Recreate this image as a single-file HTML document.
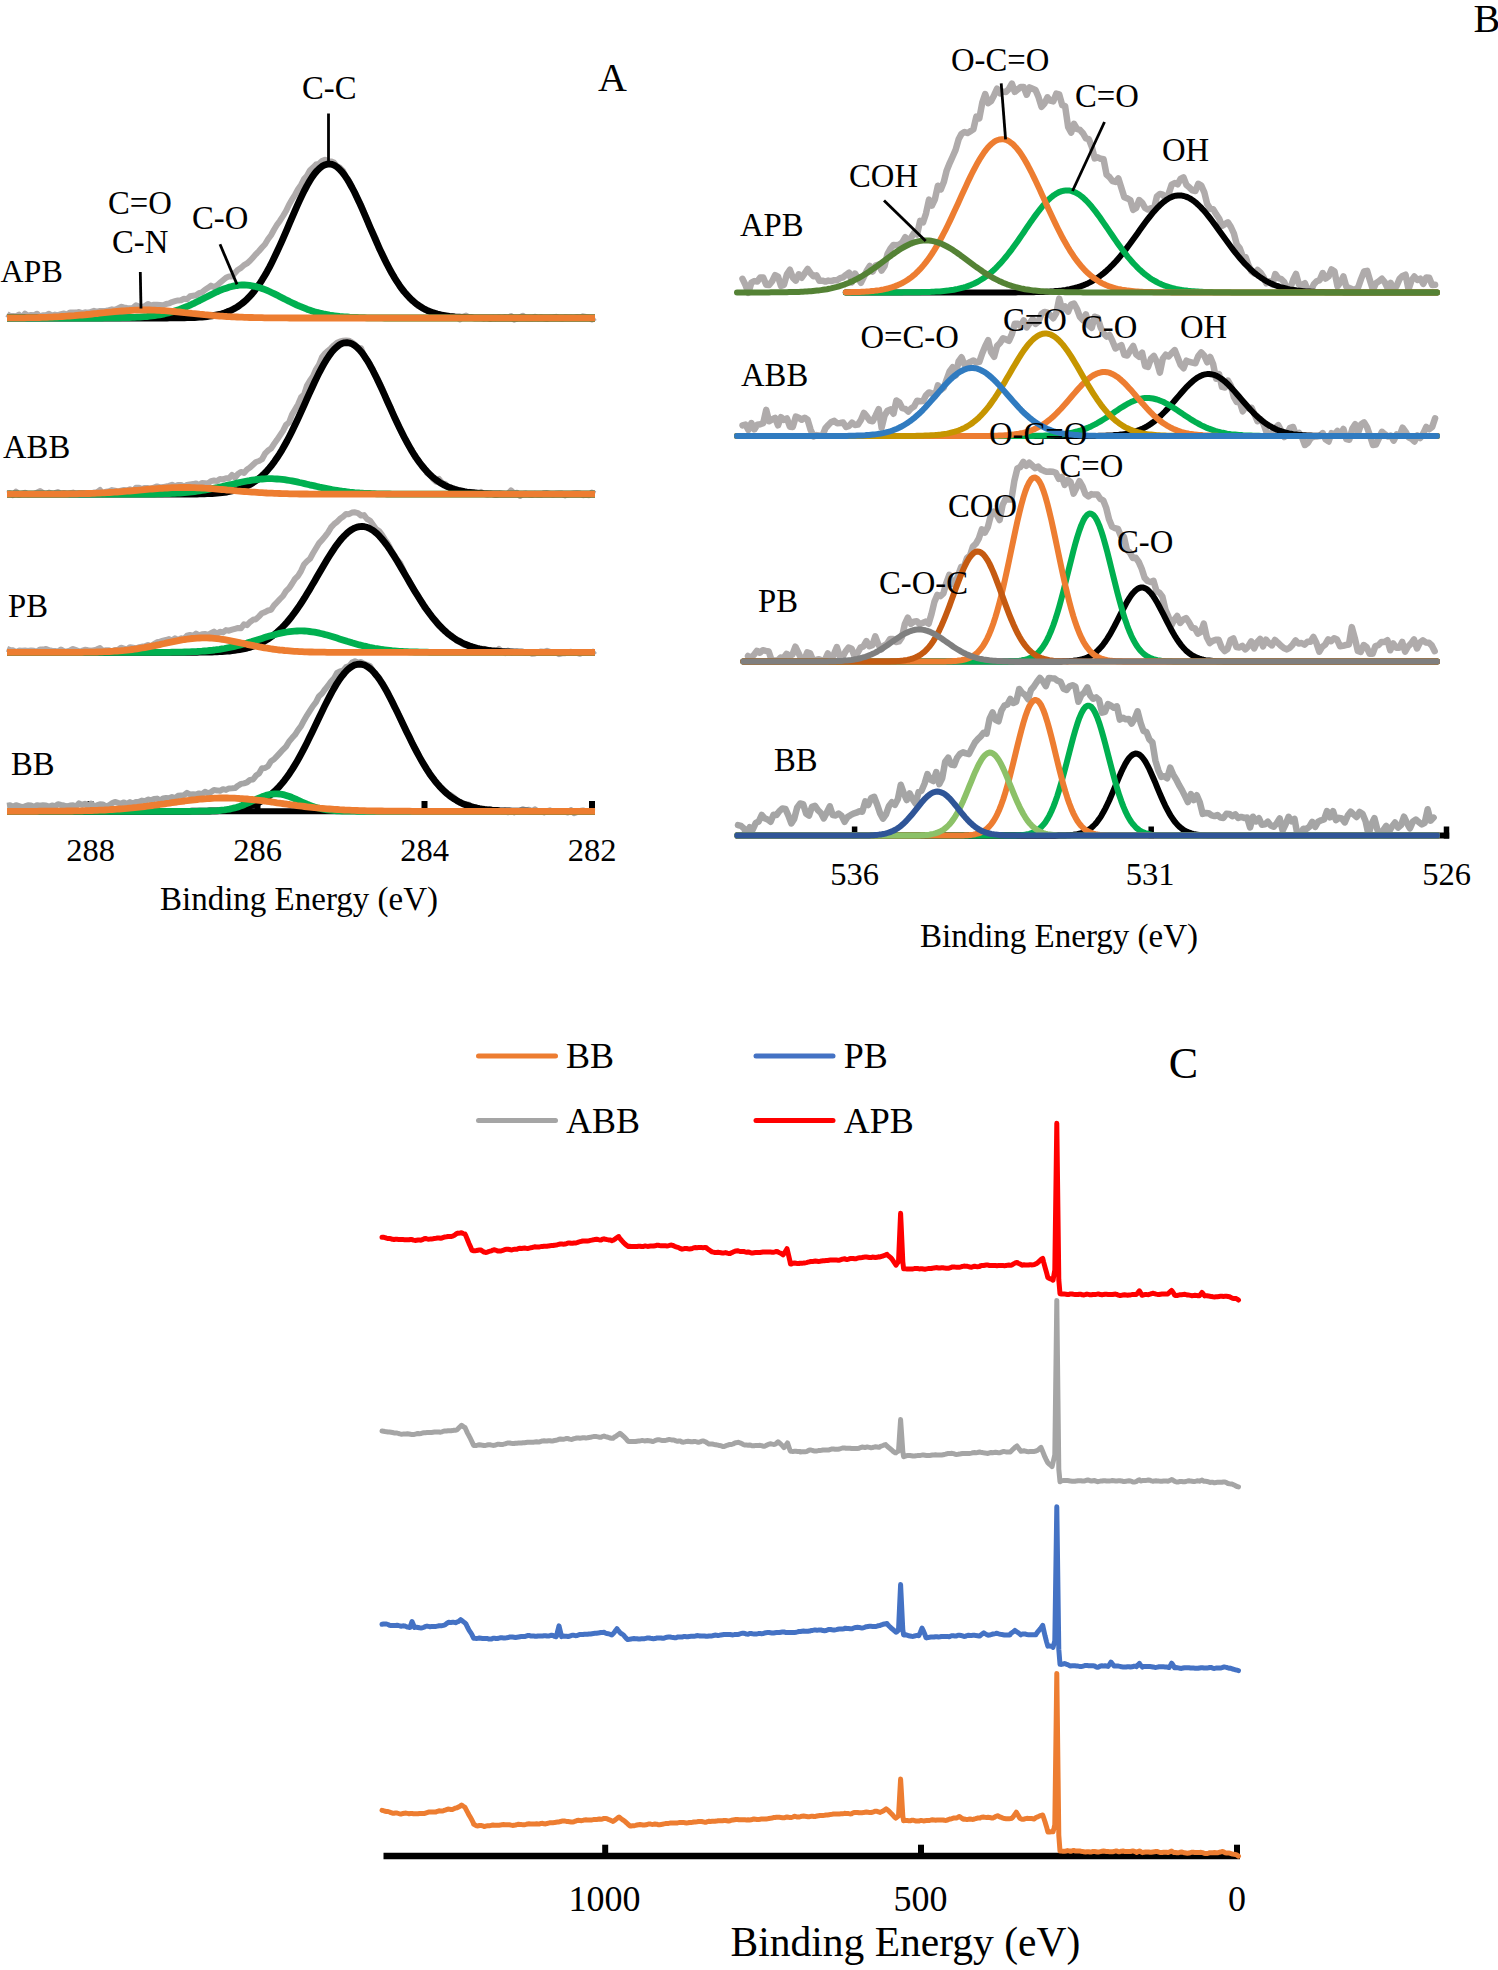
<!DOCTYPE html>
<html><head><meta charset="utf-8"><title>XPS spectra</title>
<style>html,body{margin:0;padding:0;background:#fff}svg{display:block}text{font-family:"Liberation Serif",serif;fill:#000}</style>
</head><body>
<svg width="1498" height="1970" viewBox="0 0 1498 1970">
<rect width="1498" height="1970" fill="#fff"/>
<path d="M7.0,314.0 L10.0,316.0 L13.0,315.9 L16.0,316.3 L19.0,314.6 L22.0,317.4 L25.0,313.7 L28.0,315.9 L31.0,314.9 L34.0,315.3 L37.0,313.7 L40.0,316.8 L43.0,315.2 L46.0,315.1 L49.0,313.7 L52.0,315.5 L55.0,314.6 L58.0,315.1 L61.0,314.1 L64.0,313.4 L67.0,314.7 L70.0,312.5 L73.0,312.5 L76.0,312.6 L79.0,312.0 L82.0,313.1 L85.0,312.3 L88.0,312.7 L91.0,311.8 L94.0,310.8 L97.0,311.6 L100.0,311.0 L103.0,310.9 L106.0,310.7 L109.0,310.2 L112.0,309.3 L115.0,310.0 L118.0,308.4 L121.0,306.8 L124.0,307.4 L127.0,307.9 L130.0,308.3 L133.0,307.9 L136.0,305.4 L139.0,306.6 L142.0,307.0 L145.0,306.0 L148.0,304.0 L151.0,305.5 L154.0,304.7 L157.0,304.7 L160.0,304.9 L163.0,305.2 L166.0,304.0 L169.0,303.4 L172.0,302.1 L175.0,301.2 L178.0,300.4 L181.0,300.2 L184.0,298.7 L187.0,299.2 L190.0,296.3 L193.0,295.8 L196.0,295.3 L199.0,293.2 L202.0,292.3 L205.0,289.7 L208.0,287.8 L211.0,285.6 L214.0,287.1 L217.0,285.4 L220.0,282.8 L223.0,280.3 L226.0,277.8 L229.0,276.4 L232.0,276.5 L235.0,272.8 L238.0,269.7 L241.0,267.9 L244.0,265.1 L247.0,263.4 L250.0,260.7 L253.0,257.4 L256.0,254.1 L259.0,251.0 L262.0,247.5 L265.0,244.3 L268.0,239.3 L271.0,235.2 L274.0,229.7 L277.0,224.8 L280.0,220.7 L283.0,216.0 L286.0,211.0 L289.0,204.7 L292.0,199.6 L295.0,194.7 L298.0,189.2 L301.0,184.9 L304.0,179.0 L307.0,175.7 L310.0,170.2 L313.0,167.6 L316.0,164.5 L319.0,163.8 L322.0,161.1 L325.0,159.8 L328.0,161.3 L331.0,161.4 L334.0,162.6 L337.0,166.1 L340.0,167.7 L343.0,170.9 L346.0,176.9 L349.0,180.8 L352.0,187.8 L355.0,192.7 L358.0,200.5 L361.0,204.7 L364.0,212.3 L367.0,219.7 L370.0,227.4 L373.0,232.6 L376.0,238.9 L379.0,249.1 L382.0,252.8 L385.0,258.7 L388.0,265.8 L391.0,272.7 L394.0,276.1 L397.0,281.8 L400.0,286.7 L403.0,291.3 L406.0,293.3 L409.0,296.4 L412.0,300.7 L415.0,302.3 L418.0,306.1 L421.0,306.3 L424.0,308.8 L427.0,310.5 L430.0,311.7 L433.0,312.0 L436.0,313.0 L439.0,314.0 L442.0,315.0 L445.0,315.6 L448.0,315.6 L451.0,316.3 L454.0,316.2 L457.0,317.4 L460.0,319.5 L463.0,316.5 L466.0,315.6 L469.0,317.3 L472.0,317.8 L475.0,317.9 L478.0,318.0 L481.0,317.9 L484.0,318.9 L487.0,318.4 L490.0,318.9 L493.0,317.7 L496.0,318.2 L499.0,317.5 L502.0,318.1 L505.0,317.1 L508.0,317.8 L511.0,316.0 L514.0,319.7 L517.0,318.6 L520.0,317.2 L523.0,315.7 L526.0,318.2 L529.0,318.0 L532.0,318.2 L535.0,316.8 L538.0,318.3 L541.0,317.4 L544.0,318.3 L547.0,319.1 L550.0,317.7 L553.0,317.5 L556.0,316.8 L559.0,318.1 L562.0,318.6 L565.0,317.5 L568.0,317.8 L571.0,317.7 L574.0,318.1 L577.0,317.0 L580.0,317.7 L583.0,316.3 L586.0,317.0 L589.0,317.4 L592.0,319.5 L595.0,317.5" fill="none" stroke="#AFABAB" stroke-width="6" stroke-linecap="butt" stroke-linejoin="round"/>
<path d="M7.0,318.0 L9.5,318.0 L12.0,318.0 L14.5,318.0 L17.0,318.0 L19.5,318.0 L22.0,318.0 L24.5,318.0 L27.0,318.0 L29.5,318.0 L32.0,318.0 L34.5,318.0 L37.0,318.0 L39.5,318.0 L42.0,318.0 L44.5,318.0 L47.0,318.0 L49.5,318.0 L52.0,318.0 L54.5,318.0 L57.0,318.0 L59.5,318.0 L62.0,318.0 L64.5,318.0 L67.0,318.0 L69.5,318.0 L72.0,318.0 L74.5,318.0 L77.0,318.0 L79.5,318.0 L82.0,318.0 L84.5,318.0 L87.0,318.0 L89.5,318.0 L92.0,318.0 L94.5,318.0 L97.0,318.0 L99.5,318.0 L102.0,318.0 L104.5,318.0 L107.0,318.0 L109.5,318.0 L112.0,318.0 L114.5,318.0 L117.0,318.0 L119.5,318.0 L122.0,318.0 L124.5,318.0 L127.0,318.0 L129.5,318.0 L132.0,318.0 L134.5,318.0 L137.0,318.0 L139.5,318.0 L142.0,318.0 L144.5,318.0 L147.0,318.0 L149.5,318.0 L152.0,318.0 L154.5,318.0 L157.0,318.0 L159.5,318.0 L162.0,318.0 L164.5,318.0 L167.0,318.0 L169.5,317.9 L172.0,317.9 L174.5,317.9 L177.0,317.9 L179.5,317.9 L182.0,317.8 L184.5,317.8 L187.0,317.7 L189.5,317.6 L192.0,317.6 L194.5,317.5 L197.0,317.3 L199.5,317.2 L202.0,317.0 L204.5,316.8 L207.0,316.5 L209.5,316.2 L212.0,315.9 L214.5,315.4 L217.0,314.9 L219.5,314.4 L222.0,313.7 L224.5,312.9 L227.0,312.0 L229.5,311.0 L232.0,309.9 L234.5,308.5 L237.0,307.1 L239.5,305.4 L242.0,303.5 L244.5,301.5 L247.0,299.2 L249.5,296.6 L252.0,293.9 L254.5,290.8 L257.0,287.5 L259.5,284.0 L262.0,280.1 L264.5,276.0 L267.0,271.7 L269.5,267.1 L272.0,262.2 L274.5,257.1 L277.0,251.8 L279.5,246.4 L282.0,240.8 L284.5,235.1 L287.0,229.3 L289.5,223.4 L292.0,217.6 L294.5,211.8 L297.0,206.2 L299.5,200.7 L302.0,195.4 L304.5,190.3 L307.0,185.6 L309.5,181.3 L312.0,177.3 L314.5,173.8 L317.0,170.8 L319.5,168.3 L322.0,166.3 L324.5,165.0 L327.0,164.2 L329.5,164.0 L332.0,164.4 L334.5,165.4 L337.0,167.0 L339.5,169.2 L342.0,171.9 L344.5,175.1 L347.0,178.8 L349.5,183.0 L352.0,187.5 L354.5,192.3 L357.0,197.5 L359.5,202.8 L362.0,208.4 L364.5,214.1 L367.0,219.9 L369.5,225.8 L372.0,231.6 L374.5,237.4 L377.0,243.0 L379.5,248.6 L382.0,254.0 L384.5,259.2 L387.0,264.2 L389.5,268.9 L392.0,273.4 L394.5,277.7 L397.0,281.7 L399.5,285.4 L402.0,288.9 L404.5,292.1 L407.0,295.0 L409.5,297.7 L412.0,300.1 L414.5,302.3 L417.0,304.3 L419.5,306.1 L422.0,307.7 L424.5,309.1 L427.0,310.3 L429.5,311.4 L432.0,312.4 L434.5,313.2 L437.0,314.0 L439.5,314.6 L442.0,315.2 L444.5,315.6 L447.0,316.0 L449.5,316.4 L452.0,316.6 L454.5,316.9 L457.0,317.1 L459.5,317.2 L462.0,317.4 L464.5,317.5 L467.0,317.6 L469.5,317.7 L472.0,317.7 L474.5,317.8 L477.0,317.8 L479.5,317.9 L482.0,317.9 L484.5,317.9 L487.0,317.9 L489.5,318.0 L492.0,318.0 L494.5,318.0 L497.0,318.0 L499.5,318.0 L502.0,318.0 L504.5,318.0 L507.0,318.0 L509.5,318.0 L512.0,318.0 L514.5,318.0 L517.0,318.0 L519.5,318.0 L522.0,318.0 L524.5,318.0 L527.0,318.0 L529.5,318.0 L532.0,318.0 L534.5,318.0 L537.0,318.0 L539.5,318.0 L542.0,318.0 L544.5,318.0 L547.0,318.0 L549.5,318.0 L552.0,318.0 L554.5,318.0 L557.0,318.0 L559.5,318.0 L562.0,318.0 L564.5,318.0 L567.0,318.0 L569.5,318.0 L572.0,318.0 L574.5,318.0 L577.0,318.0 L579.5,318.0 L582.0,318.0 L584.5,318.0 L587.0,318.0 L589.5,318.0 L592.0,318.0 L594.5,318.0 L595.0,318.0" fill="none" stroke="#000" stroke-width="6.8" stroke-linecap="butt" stroke-linejoin="round"/>
<path d="M7.0,318.0 L9.5,318.0 L12.0,318.0 L14.5,318.0 L17.0,318.0 L19.5,318.0 L22.0,318.0 L24.5,318.0 L27.0,318.0 L29.5,318.0 L32.0,318.0 L34.5,318.0 L37.0,318.0 L39.5,318.0 L42.0,318.0 L44.5,318.0 L47.0,318.0 L49.5,318.0 L52.0,318.0 L54.5,318.0 L57.0,318.0 L59.5,318.0 L62.0,318.0 L64.5,318.0 L67.0,318.0 L69.5,318.0 L72.0,318.0 L74.5,318.0 L77.0,318.0 L79.5,318.0 L82.0,318.0 L84.5,318.0 L87.0,318.0 L89.5,318.0 L92.0,318.0 L94.5,318.0 L97.0,318.0 L99.5,318.0 L102.0,318.0 L104.5,317.9 L107.0,317.9 L109.5,317.9 L112.0,317.9 L114.5,317.9 L117.0,317.8 L119.5,317.8 L122.0,317.7 L124.5,317.7 L127.0,317.6 L129.5,317.5 L132.0,317.4 L134.5,317.3 L137.0,317.2 L139.5,317.1 L142.0,316.9 L144.5,316.7 L147.0,316.5 L149.5,316.2 L152.0,315.9 L154.5,315.6 L157.0,315.2 L159.5,314.8 L162.0,314.3 L164.5,313.8 L167.0,313.2 L169.5,312.6 L172.0,311.9 L174.5,311.1 L177.0,310.3 L179.5,309.5 L182.0,308.5 L184.5,307.5 L187.0,306.5 L189.5,305.4 L192.0,304.2 L194.5,303.1 L197.0,301.8 L199.5,300.6 L202.0,299.3 L204.5,298.0 L207.0,296.8 L209.5,295.5 L212.0,294.2 L214.5,293.0 L217.0,291.8 L219.5,290.7 L222.0,289.7 L224.5,288.7 L227.0,287.9 L229.5,287.1 L232.0,286.4 L234.5,285.9 L237.0,285.5 L239.5,285.2 L242.0,285.0 L244.5,285.0 L247.0,285.1 L249.5,285.4 L252.0,285.8 L254.5,286.3 L257.0,286.9 L259.5,287.6 L262.0,288.5 L264.5,289.4 L267.0,290.4 L269.5,291.5 L272.0,292.7 L274.5,293.9 L277.0,295.1 L279.5,296.4 L282.0,297.7 L284.5,299.0 L287.0,300.2 L289.5,301.5 L292.0,302.7 L294.5,303.9 L297.0,305.1 L299.5,306.2 L302.0,307.2 L304.5,308.2 L307.0,309.2 L309.5,310.1 L312.0,310.9 L314.5,311.7 L317.0,312.4 L319.5,313.0 L322.0,313.6 L324.5,314.2 L327.0,314.6 L329.5,315.1 L332.0,315.5 L334.5,315.8 L337.0,316.1 L339.5,316.4 L342.0,316.6 L344.5,316.8 L347.0,317.0 L349.5,317.2 L352.0,317.3 L354.5,317.4 L357.0,317.5 L359.5,317.6 L362.0,317.7 L364.5,317.7 L367.0,317.8 L369.5,317.8 L372.0,317.9 L374.5,317.9 L377.0,317.9 L379.5,317.9 L382.0,317.9 L384.5,318.0 L387.0,318.0 L389.5,318.0 L392.0,318.0 L394.5,318.0 L397.0,318.0 L399.5,318.0 L402.0,318.0 L404.5,318.0 L407.0,318.0 L409.5,318.0 L412.0,318.0 L414.5,318.0 L417.0,318.0 L419.5,318.0 L422.0,318.0 L424.5,318.0 L427.0,318.0 L429.5,318.0 L432.0,318.0 L434.5,318.0 L437.0,318.0 L439.5,318.0 L442.0,318.0 L444.5,318.0 L447.0,318.0 L449.5,318.0 L452.0,318.0 L454.5,318.0 L457.0,318.0 L459.5,318.0 L462.0,318.0 L464.5,318.0 L467.0,318.0 L469.5,318.0 L472.0,318.0 L474.5,318.0 L477.0,318.0 L479.5,318.0 L482.0,318.0 L484.5,318.0 L487.0,318.0 L489.5,318.0 L492.0,318.0 L494.5,318.0 L497.0,318.0 L499.5,318.0 L502.0,318.0 L504.5,318.0 L507.0,318.0 L509.5,318.0 L512.0,318.0 L514.5,318.0 L517.0,318.0 L519.5,318.0 L522.0,318.0 L524.5,318.0 L527.0,318.0 L529.5,318.0 L532.0,318.0 L534.5,318.0 L537.0,318.0 L539.5,318.0 L542.0,318.0 L544.5,318.0 L547.0,318.0 L549.5,318.0 L552.0,318.0 L554.5,318.0 L557.0,318.0 L559.5,318.0 L562.0,318.0 L564.5,318.0 L567.0,318.0 L569.5,318.0 L572.0,318.0 L574.5,318.0 L577.0,318.0 L579.5,318.0 L582.0,318.0 L584.5,318.0 L587.0,318.0 L589.5,318.0 L592.0,318.0 L594.5,318.0 L595.0,318.0" fill="none" stroke="#00B050" stroke-width="6.8" stroke-linecap="butt" stroke-linejoin="round"/>
<path d="M7.0,317.9 L9.5,317.9 L12.0,317.9 L14.5,317.9 L17.0,317.9 L19.5,317.8 L22.0,317.8 L24.5,317.8 L27.0,317.7 L29.5,317.7 L32.0,317.7 L34.5,317.6 L37.0,317.6 L39.5,317.5 L42.0,317.4 L44.5,317.3 L47.0,317.3 L49.5,317.2 L52.0,317.1 L54.5,316.9 L57.0,316.8 L59.5,316.7 L62.0,316.5 L64.5,316.4 L67.0,316.2 L69.5,316.0 L72.0,315.9 L74.5,315.7 L77.0,315.4 L79.5,315.2 L82.0,315.0 L84.5,314.8 L87.0,314.5 L89.5,314.3 L92.0,314.0 L94.5,313.7 L97.0,313.5 L99.5,313.2 L102.0,312.9 L104.5,312.7 L107.0,312.4 L109.5,312.1 L112.0,311.9 L114.5,311.6 L117.0,311.4 L119.5,311.2 L122.0,311.0 L124.5,310.8 L127.0,310.6 L129.5,310.5 L132.0,310.3 L134.5,310.2 L137.0,310.1 L139.5,310.1 L142.0,310.0 L144.5,310.0 L147.0,310.0 L149.5,310.0 L152.0,310.1 L154.5,310.2 L157.0,310.3 L159.5,310.4 L162.0,310.6 L164.5,310.7 L167.0,310.9 L169.5,311.1 L172.0,311.3 L174.5,311.5 L177.0,311.8 L179.5,312.0 L182.0,312.3 L184.5,312.6 L187.0,312.8 L189.5,313.1 L192.0,313.4 L194.5,313.6 L197.0,313.9 L199.5,314.2 L202.0,314.4 L204.5,314.7 L207.0,314.9 L209.5,315.1 L212.0,315.4 L214.5,315.6 L217.0,315.8 L219.5,316.0 L222.0,316.1 L224.5,316.3 L227.0,316.5 L229.5,316.6 L232.0,316.8 L234.5,316.9 L237.0,317.0 L239.5,317.1 L242.0,317.2 L244.5,317.3 L247.0,317.4 L249.5,317.5 L252.0,317.5 L254.5,317.6 L257.0,317.6 L259.5,317.7 L262.0,317.7 L264.5,317.8 L267.0,317.8 L269.5,317.8 L272.0,317.9 L274.5,317.9 L277.0,317.9 L279.5,317.9 L282.0,317.9 L284.5,317.9 L287.0,317.9 L289.5,318.0 L292.0,318.0 L294.5,318.0 L297.0,318.0 L299.5,318.0 L302.0,318.0 L304.5,318.0 L307.0,318.0 L309.5,318.0 L312.0,318.0 L314.5,318.0 L317.0,318.0 L319.5,318.0 L322.0,318.0 L324.5,318.0 L327.0,318.0 L329.5,318.0 L332.0,318.0 L334.5,318.0 L337.0,318.0 L339.5,318.0 L342.0,318.0 L344.5,318.0 L347.0,318.0 L349.5,318.0 L352.0,318.0 L354.5,318.0 L357.0,318.0 L359.5,318.0 L362.0,318.0 L364.5,318.0 L367.0,318.0 L369.5,318.0 L372.0,318.0 L374.5,318.0 L377.0,318.0 L379.5,318.0 L382.0,318.0 L384.5,318.0 L387.0,318.0 L389.5,318.0 L392.0,318.0 L394.5,318.0 L397.0,318.0 L399.5,318.0 L402.0,318.0 L404.5,318.0 L407.0,318.0 L409.5,318.0 L412.0,318.0 L414.5,318.0 L417.0,318.0 L419.5,318.0 L422.0,318.0 L424.5,318.0 L427.0,318.0 L429.5,318.0 L432.0,318.0 L434.5,318.0 L437.0,318.0 L439.5,318.0 L442.0,318.0 L444.5,318.0 L447.0,318.0 L449.5,318.0 L452.0,318.0 L454.5,318.0 L457.0,318.0 L459.5,318.0 L462.0,318.0 L464.5,318.0 L467.0,318.0 L469.5,318.0 L472.0,318.0 L474.5,318.0 L477.0,318.0 L479.5,318.0 L482.0,318.0 L484.5,318.0 L487.0,318.0 L489.5,318.0 L492.0,318.0 L494.5,318.0 L497.0,318.0 L499.5,318.0 L502.0,318.0 L504.5,318.0 L507.0,318.0 L509.5,318.0 L512.0,318.0 L514.5,318.0 L517.0,318.0 L519.5,318.0 L522.0,318.0 L524.5,318.0 L527.0,318.0 L529.5,318.0 L532.0,318.0 L534.5,318.0 L537.0,318.0 L539.5,318.0 L542.0,318.0 L544.5,318.0 L547.0,318.0 L549.5,318.0 L552.0,318.0 L554.5,318.0 L557.0,318.0 L559.5,318.0 L562.0,318.0 L564.5,318.0 L567.0,318.0 L569.5,318.0 L572.0,318.0 L574.5,318.0 L577.0,318.0 L579.5,318.0 L582.0,318.0 L584.5,318.0 L587.0,318.0 L589.5,318.0 L592.0,318.0 L594.5,318.0 L595.0,318.0" fill="none" stroke="#ED7D31" stroke-width="6.8" stroke-linecap="butt" stroke-linejoin="round"/>
<path d="M7.0,493.6 L10.0,493.2 L13.0,495.1 L16.0,491.7 L19.0,494.8 L22.0,493.9 L25.0,492.7 L28.0,494.3 L31.0,494.1 L34.0,494.0 L37.0,492.7 L40.0,491.1 L43.0,493.1 L46.0,494.1 L49.0,492.6 L52.0,493.6 L55.0,493.1 L58.0,492.0 L61.0,493.7 L64.0,493.0 L67.0,493.8 L70.0,493.1 L73.0,492.6 L76.0,493.7 L79.0,493.1 L82.0,492.9 L85.0,493.2 L88.0,493.6 L91.0,493.7 L94.0,492.4 L97.0,492.4 L100.0,490.0 L103.0,494.1 L106.0,491.6 L109.0,491.2 L112.0,490.1 L115.0,490.7 L118.0,491.7 L121.0,490.7 L124.0,489.9 L127.0,490.5 L130.0,489.2 L133.0,491.3 L136.0,487.8 L139.0,487.7 L142.0,489.1 L145.0,487.9 L148.0,488.1 L151.0,488.6 L154.0,487.5 L157.0,486.4 L160.0,487.4 L163.0,487.1 L166.0,486.5 L169.0,485.8 L172.0,484.8 L175.0,486.2 L178.0,484.9 L181.0,484.9 L184.0,486.6 L187.0,485.0 L190.0,484.4 L193.0,484.1 L196.0,483.4 L199.0,485.2 L202.0,483.0 L205.0,483.2 L208.0,483.4 L211.0,481.2 L214.0,480.5 L217.0,481.1 L220.0,479.1 L223.0,479.4 L226.0,478.2 L229.0,478.3 L232.0,474.9 L235.0,477.6 L238.0,474.0 L241.0,471.9 L244.0,472.9 L247.0,469.5 L250.0,467.5 L253.0,464.7 L256.0,462.0 L259.0,461.0 L262.0,459.2 L265.0,453.7 L268.0,450.6 L271.0,448.6 L274.0,444.0 L277.0,439.8 L280.0,435.3 L283.0,430.9 L286.0,424.9 L289.0,422.5 L292.0,414.6 L295.0,409.6 L298.0,404.4 L301.0,397.3 L304.0,394.6 L307.0,385.5 L310.0,380.4 L313.0,376.1 L316.0,369.3 L319.0,364.7 L322.0,357.2 L325.0,353.4 L328.0,350.7 L331.0,348.2 L334.0,345.2 L337.0,342.7 L340.0,341.4 L343.0,340.8 L346.0,340.4 L349.0,340.7 L352.0,342.3 L355.0,344.6 L358.0,347.7 L361.0,348.1 L364.0,355.8 L367.0,360.2 L370.0,364.1 L373.0,370.4 L376.0,375.8 L379.0,381.8 L382.0,387.9 L385.0,395.1 L388.0,403.4 L391.0,408.2 L394.0,417.4 L397.0,422.5 L400.0,429.1 L403.0,435.7 L406.0,440.0 L409.0,446.2 L412.0,450.2 L415.0,457.3 L418.0,459.6 L421.0,464.0 L424.0,468.1 L427.0,472.9 L430.0,474.9 L433.0,478.8 L436.0,481.7 L439.0,479.0 L442.0,482.9 L445.0,483.8 L448.0,487.3 L451.0,487.5 L454.0,488.5 L457.0,489.5 L460.0,490.8 L463.0,491.6 L466.0,493.8 L469.0,491.8 L472.0,492.3 L475.0,492.0 L478.0,493.5 L481.0,491.9 L484.0,494.0 L487.0,494.9 L490.0,493.0 L493.0,494.3 L496.0,495.1 L499.0,493.9 L502.0,493.4 L505.0,493.9 L508.0,493.7 L511.0,490.4 L514.0,493.4 L517.0,492.8 L520.0,496.0 L523.0,493.9 L526.0,493.5 L529.0,494.5 L532.0,495.0 L535.0,493.8 L538.0,494.5 L541.0,494.7 L544.0,493.2 L547.0,493.0 L550.0,493.9 L553.0,494.6 L556.0,493.7 L559.0,493.5 L562.0,493.6 L565.0,495.5 L568.0,494.5 L571.0,493.9 L574.0,493.6 L577.0,493.3 L580.0,493.5 L583.0,495.2 L586.0,494.8 L589.0,495.3 L592.0,492.6 L595.0,494.0" fill="none" stroke="#AFABAB" stroke-width="6" stroke-linecap="butt" stroke-linejoin="round"/>
<path d="M7.0,494.2 L9.5,494.2 L12.0,494.2 L14.5,494.2 L17.0,494.2 L19.5,494.2 L22.0,494.2 L24.5,494.2 L27.0,494.2 L29.5,494.2 L32.0,494.2 L34.5,494.2 L37.0,494.2 L39.5,494.2 L42.0,494.2 L44.5,494.2 L47.0,494.2 L49.5,494.2 L52.0,494.2 L54.5,494.2 L57.0,494.2 L59.5,494.2 L62.0,494.2 L64.5,494.2 L67.0,494.2 L69.5,494.2 L72.0,494.2 L74.5,494.2 L77.0,494.2 L79.5,494.2 L82.0,494.2 L84.5,494.2 L87.0,494.2 L89.5,494.2 L92.0,494.2 L94.5,494.2 L97.0,494.2 L99.5,494.2 L102.0,494.2 L104.5,494.2 L107.0,494.2 L109.5,494.2 L112.0,494.2 L114.5,494.2 L117.0,494.2 L119.5,494.2 L122.0,494.2 L124.5,494.2 L127.0,494.2 L129.5,494.2 L132.0,494.2 L134.5,494.2 L137.0,494.2 L139.5,494.2 L142.0,494.2 L144.5,494.2 L147.0,494.2 L149.5,494.2 L152.0,494.2 L154.5,494.2 L157.0,494.2 L159.5,494.2 L162.0,494.2 L164.5,494.2 L167.0,494.2 L169.5,494.2 L172.0,494.2 L174.5,494.2 L177.0,494.2 L179.5,494.2 L182.0,494.1 L184.5,494.1 L187.0,494.1 L189.5,494.1 L192.0,494.1 L194.5,494.0 L197.0,494.0 L199.5,493.9 L202.0,493.9 L204.5,493.8 L207.0,493.7 L209.5,493.6 L212.0,493.5 L214.5,493.3 L217.0,493.1 L219.5,492.9 L222.0,492.6 L224.5,492.3 L227.0,492.0 L229.5,491.5 L232.0,491.0 L234.5,490.5 L237.0,489.8 L239.5,489.0 L242.0,488.2 L244.5,487.2 L247.0,486.0 L249.5,484.8 L252.0,483.3 L254.5,481.7 L257.0,480.0 L259.5,478.0 L262.0,475.8 L264.5,473.4 L267.0,470.8 L269.5,467.9 L272.0,464.8 L274.5,461.4 L277.0,457.8 L279.5,454.0 L282.0,449.9 L284.5,445.5 L287.0,441.0 L289.5,436.2 L292.0,431.2 L294.5,426.1 L297.0,420.8 L299.5,415.3 L302.0,409.8 L304.5,404.3 L307.0,398.7 L309.5,393.1 L312.0,387.7 L314.5,382.3 L317.0,377.1 L319.5,372.1 L322.0,367.4 L324.5,362.9 L327.0,358.8 L329.5,355.1 L332.0,351.8 L334.5,349.0 L337.0,346.7 L339.5,344.8 L342.0,343.5 L344.5,342.8 L347.0,342.6 L349.5,343.0 L352.0,343.9 L354.5,345.4 L357.0,347.4 L359.5,349.9 L362.0,352.8 L364.5,356.3 L367.0,360.1 L369.5,364.3 L372.0,368.8 L374.5,373.7 L377.0,378.7 L379.5,384.0 L382.0,389.4 L384.5,394.9 L387.0,400.5 L389.5,406.0 L392.0,411.6 L394.5,417.1 L397.0,422.5 L399.5,427.7 L402.0,432.8 L404.5,437.7 L407.0,442.4 L409.5,446.9 L412.0,451.2 L414.5,455.2 L417.0,459.0 L419.5,462.5 L422.0,465.8 L424.5,468.8 L427.0,471.6 L429.5,474.2 L432.0,476.5 L434.5,478.6 L437.0,480.5 L439.5,482.3 L442.0,483.8 L444.5,485.2 L447.0,486.4 L449.5,487.5 L452.0,488.5 L454.5,489.3 L457.0,490.0 L459.5,490.7 L462.0,491.2 L464.5,491.7 L467.0,492.1 L469.5,492.4 L472.0,492.7 L474.5,493.0 L477.0,493.2 L479.5,493.4 L482.0,493.5 L484.5,493.6 L487.0,493.7 L489.5,493.8 L492.0,493.9 L494.5,494.0 L497.0,494.0 L499.5,494.0 L502.0,494.1 L504.5,494.1 L507.0,494.1 L509.5,494.1 L512.0,494.2 L514.5,494.2 L517.0,494.2 L519.5,494.2 L522.0,494.2 L524.5,494.2 L527.0,494.2 L529.5,494.2 L532.0,494.2 L534.5,494.2 L537.0,494.2 L539.5,494.2 L542.0,494.2 L544.5,494.2 L547.0,494.2 L549.5,494.2 L552.0,494.2 L554.5,494.2 L557.0,494.2 L559.5,494.2 L562.0,494.2 L564.5,494.2 L567.0,494.2 L569.5,494.2 L572.0,494.2 L574.5,494.2 L577.0,494.2 L579.5,494.2 L582.0,494.2 L584.5,494.2 L587.0,494.2 L589.5,494.2 L592.0,494.2 L594.5,494.2 L595.0,494.2" fill="none" stroke="#000" stroke-width="6.8" stroke-linecap="butt" stroke-linejoin="round"/>
<path d="M7.0,494.2 L9.5,494.2 L12.0,494.2 L14.5,494.2 L17.0,494.2 L19.5,494.2 L22.0,494.2 L24.5,494.2 L27.0,494.2 L29.5,494.2 L32.0,494.2 L34.5,494.2 L37.0,494.2 L39.5,494.2 L42.0,494.2 L44.5,494.2 L47.0,494.2 L49.5,494.2 L52.0,494.2 L54.5,494.2 L57.0,494.2 L59.5,494.2 L62.0,494.2 L64.5,494.2 L67.0,494.2 L69.5,494.2 L72.0,494.2 L74.5,494.2 L77.0,494.2 L79.5,494.2 L82.0,494.2 L84.5,494.2 L87.0,494.2 L89.5,494.2 L92.0,494.2 L94.5,494.2 L97.0,494.2 L99.5,494.2 L102.0,494.2 L104.5,494.2 L107.0,494.2 L109.5,494.2 L112.0,494.2 L114.5,494.2 L117.0,494.2 L119.5,494.2 L122.0,494.2 L124.5,494.2 L127.0,494.2 L129.5,494.2 L132.0,494.2 L134.5,494.1 L137.0,494.1 L139.5,494.1 L142.0,494.1 L144.5,494.1 L147.0,494.1 L149.5,494.0 L152.0,494.0 L154.5,494.0 L157.0,493.9 L159.5,493.9 L162.0,493.8 L164.5,493.7 L167.0,493.6 L169.5,493.5 L172.0,493.4 L174.5,493.3 L177.0,493.1 L179.5,493.0 L182.0,492.8 L184.5,492.6 L187.0,492.4 L189.5,492.1 L192.0,491.9 L194.5,491.6 L197.0,491.2 L199.5,490.9 L202.0,490.5 L204.5,490.1 L207.0,489.7 L209.5,489.2 L212.0,488.7 L214.5,488.2 L217.0,487.7 L219.5,487.1 L222.0,486.6 L224.5,486.0 L227.0,485.4 L229.5,484.8 L232.0,484.3 L234.5,483.7 L237.0,483.1 L239.5,482.5 L242.0,482.0 L244.5,481.5 L247.0,481.0 L249.5,480.6 L252.0,480.1 L254.5,479.8 L257.0,479.5 L259.5,479.2 L262.0,479.0 L264.5,478.8 L267.0,478.7 L269.5,478.7 L272.0,478.7 L274.5,478.8 L277.0,479.0 L279.5,479.2 L282.0,479.4 L284.5,479.7 L287.0,480.1 L289.5,480.5 L292.0,480.9 L294.5,481.4 L297.0,481.9 L299.5,482.5 L302.0,483.0 L304.5,483.6 L307.0,484.2 L309.5,484.8 L312.0,485.3 L314.5,485.9 L317.0,486.5 L319.5,487.1 L322.0,487.6 L324.5,488.1 L327.0,488.6 L329.5,489.1 L332.0,489.6 L334.5,490.0 L337.0,490.4 L339.5,490.8 L342.0,491.2 L344.5,491.5 L347.0,491.8 L349.5,492.1 L352.0,492.3 L354.5,492.6 L357.0,492.8 L359.5,493.0 L362.0,493.1 L364.5,493.3 L367.0,493.4 L369.5,493.5 L372.0,493.6 L374.5,493.7 L377.0,493.8 L379.5,493.8 L382.0,493.9 L384.5,493.9 L387.0,494.0 L389.5,494.0 L392.0,494.1 L394.5,494.1 L397.0,494.1 L399.5,494.1 L402.0,494.1 L404.5,494.1 L407.0,494.2 L409.5,494.2 L412.0,494.2 L414.5,494.2 L417.0,494.2 L419.5,494.2 L422.0,494.2 L424.5,494.2 L427.0,494.2 L429.5,494.2 L432.0,494.2 L434.5,494.2 L437.0,494.2 L439.5,494.2 L442.0,494.2 L444.5,494.2 L447.0,494.2 L449.5,494.2 L452.0,494.2 L454.5,494.2 L457.0,494.2 L459.5,494.2 L462.0,494.2 L464.5,494.2 L467.0,494.2 L469.5,494.2 L472.0,494.2 L474.5,494.2 L477.0,494.2 L479.5,494.2 L482.0,494.2 L484.5,494.2 L487.0,494.2 L489.5,494.2 L492.0,494.2 L494.5,494.2 L497.0,494.2 L499.5,494.2 L502.0,494.2 L504.5,494.2 L507.0,494.2 L509.5,494.2 L512.0,494.2 L514.5,494.2 L517.0,494.2 L519.5,494.2 L522.0,494.2 L524.5,494.2 L527.0,494.2 L529.5,494.2 L532.0,494.2 L534.5,494.2 L537.0,494.2 L539.5,494.2 L542.0,494.2 L544.5,494.2 L547.0,494.2 L549.5,494.2 L552.0,494.2 L554.5,494.2 L557.0,494.2 L559.5,494.2 L562.0,494.2 L564.5,494.2 L567.0,494.2 L569.5,494.2 L572.0,494.2 L574.5,494.2 L577.0,494.2 L579.5,494.2 L582.0,494.2 L584.5,494.2 L587.0,494.2 L589.5,494.2 L592.0,494.2 L594.5,494.2 L595.0,494.2" fill="none" stroke="#00B050" stroke-width="6.8" stroke-linecap="butt" stroke-linejoin="round"/>
<path d="M7.0,494.2 L9.5,494.2 L12.0,494.2 L14.5,494.2 L17.0,494.2 L19.5,494.2 L22.0,494.2 L24.5,494.2 L27.0,494.2 L29.5,494.2 L32.0,494.2 L34.5,494.2 L37.0,494.2 L39.5,494.2 L42.0,494.2 L44.5,494.1 L47.0,494.1 L49.5,494.1 L52.0,494.1 L54.5,494.1 L57.0,494.1 L59.5,494.1 L62.0,494.0 L64.5,494.0 L67.0,494.0 L69.5,493.9 L72.0,493.9 L74.5,493.9 L77.0,493.8 L79.5,493.7 L82.0,493.7 L84.5,493.6 L87.0,493.5 L89.5,493.5 L92.0,493.4 L94.5,493.3 L97.0,493.2 L99.5,493.1 L102.0,492.9 L104.5,492.8 L107.0,492.7 L109.5,492.5 L112.0,492.3 L114.5,492.2 L117.0,492.0 L119.5,491.8 L122.0,491.6 L124.5,491.4 L127.0,491.2 L129.5,491.0 L132.0,490.8 L134.5,490.5 L137.0,490.3 L139.5,490.1 L142.0,489.9 L144.5,489.6 L147.0,489.4 L149.5,489.2 L152.0,489.0 L154.5,488.8 L157.0,488.6 L159.5,488.4 L162.0,488.3 L164.5,488.1 L167.0,488.0 L169.5,487.8 L172.0,487.7 L174.5,487.6 L177.0,487.6 L179.5,487.5 L182.0,487.5 L184.5,487.5 L187.0,487.5 L189.5,487.5 L192.0,487.6 L194.5,487.7 L197.0,487.8 L199.5,487.9 L202.0,488.0 L204.5,488.2 L207.0,488.3 L209.5,488.5 L212.0,488.7 L214.5,488.9 L217.0,489.1 L219.5,489.3 L222.0,489.5 L224.5,489.7 L227.0,490.0 L229.5,490.2 L232.0,490.4 L234.5,490.6 L237.0,490.9 L239.5,491.1 L242.0,491.3 L244.5,491.5 L247.0,491.7 L249.5,491.9 L252.0,492.1 L254.5,492.2 L257.0,492.4 L259.5,492.6 L262.0,492.7 L264.5,492.8 L267.0,493.0 L269.5,493.1 L272.0,493.2 L274.5,493.3 L277.0,493.4 L279.5,493.5 L282.0,493.6 L284.5,493.6 L287.0,493.7 L289.5,493.8 L292.0,493.8 L294.5,493.9 L297.0,493.9 L299.5,494.0 L302.0,494.0 L304.5,494.0 L307.0,494.0 L309.5,494.1 L312.0,494.1 L314.5,494.1 L317.0,494.1 L319.5,494.1 L322.0,494.1 L324.5,494.1 L327.0,494.2 L329.5,494.2 L332.0,494.2 L334.5,494.2 L337.0,494.2 L339.5,494.2 L342.0,494.2 L344.5,494.2 L347.0,494.2 L349.5,494.2 L352.0,494.2 L354.5,494.2 L357.0,494.2 L359.5,494.2 L362.0,494.2 L364.5,494.2 L367.0,494.2 L369.5,494.2 L372.0,494.2 L374.5,494.2 L377.0,494.2 L379.5,494.2 L382.0,494.2 L384.5,494.2 L387.0,494.2 L389.5,494.2 L392.0,494.2 L394.5,494.2 L397.0,494.2 L399.5,494.2 L402.0,494.2 L404.5,494.2 L407.0,494.2 L409.5,494.2 L412.0,494.2 L414.5,494.2 L417.0,494.2 L419.5,494.2 L422.0,494.2 L424.5,494.2 L427.0,494.2 L429.5,494.2 L432.0,494.2 L434.5,494.2 L437.0,494.2 L439.5,494.2 L442.0,494.2 L444.5,494.2 L447.0,494.2 L449.5,494.2 L452.0,494.2 L454.5,494.2 L457.0,494.2 L459.5,494.2 L462.0,494.2 L464.5,494.2 L467.0,494.2 L469.5,494.2 L472.0,494.2 L474.5,494.2 L477.0,494.2 L479.5,494.2 L482.0,494.2 L484.5,494.2 L487.0,494.2 L489.5,494.2 L492.0,494.2 L494.5,494.2 L497.0,494.2 L499.5,494.2 L502.0,494.2 L504.5,494.2 L507.0,494.2 L509.5,494.2 L512.0,494.2 L514.5,494.2 L517.0,494.2 L519.5,494.2 L522.0,494.2 L524.5,494.2 L527.0,494.2 L529.5,494.2 L532.0,494.2 L534.5,494.2 L537.0,494.2 L539.5,494.2 L542.0,494.2 L544.5,494.2 L547.0,494.2 L549.5,494.2 L552.0,494.2 L554.5,494.2 L557.0,494.2 L559.5,494.2 L562.0,494.2 L564.5,494.2 L567.0,494.2 L569.5,494.2 L572.0,494.2 L574.5,494.2 L577.0,494.2 L579.5,494.2 L582.0,494.2 L584.5,494.2 L587.0,494.2 L589.5,494.2 L592.0,494.2 L594.5,494.2 L595.0,494.2" fill="none" stroke="#ED7D31" stroke-width="6.8" stroke-linecap="butt" stroke-linejoin="round"/>
<path d="M7.0,648.8 L10.0,650.0 L13.0,650.3 L16.0,652.1 L19.0,650.6 L22.0,650.7 L25.0,650.5 L28.0,651.0 L31.0,650.4 L34.0,650.8 L37.0,651.6 L40.0,649.6 L43.0,649.6 L46.0,648.9 L49.0,650.3 L52.0,650.8 L55.0,650.9 L58.0,651.8 L61.0,649.5 L64.0,651.4 L67.0,651.4 L70.0,650.5 L73.0,649.0 L76.0,650.1 L79.0,651.2 L82.0,650.9 L85.0,649.7 L88.0,650.3 L91.0,650.8 L94.0,650.3 L97.0,649.3 L100.0,648.1 L103.0,650.9 L106.0,650.2 L109.0,650.3 L112.0,651.5 L115.0,650.0 L118.0,649.9 L121.0,647.7 L124.0,648.6 L127.0,649.6 L130.0,647.2 L133.0,647.7 L136.0,648.5 L139.0,647.1 L142.0,646.6 L145.0,646.3 L148.0,644.9 L151.0,646.4 L154.0,644.0 L157.0,642.2 L160.0,641.6 L163.0,640.7 L166.0,640.0 L169.0,639.0 L172.0,640.7 L175.0,638.3 L178.0,640.1 L181.0,638.3 L184.0,638.9 L187.0,635.7 L190.0,634.9 L193.0,635.8 L196.0,633.6 L199.0,635.4 L202.0,634.3 L205.0,634.0 L208.0,634.8 L211.0,633.2 L214.0,631.6 L217.0,633.9 L220.0,631.8 L223.0,632.4 L226.0,630.1 L229.0,630.7 L232.0,629.7 L235.0,628.8 L238.0,628.0 L241.0,628.3 L244.0,624.3 L247.0,625.2 L250.0,622.0 L253.0,619.8 L256.0,619.2 L259.0,616.3 L262.0,613.2 L265.0,612.1 L268.0,610.5 L271.0,609.9 L274.0,605.4 L277.0,602.2 L280.0,599.0 L283.0,596.0 L286.0,591.2 L289.0,588.2 L292.0,583.8 L295.0,578.9 L298.0,576.0 L301.0,571.1 L304.0,564.5 L307.0,561.3 L310.0,558.8 L313.0,553.3 L316.0,548.3 L319.0,543.3 L322.0,539.9 L325.0,536.4 L328.0,532.5 L331.0,527.4 L334.0,524.2 L337.0,521.8 L340.0,518.8 L343.0,516.8 L346.0,514.1 L349.0,514.2 L352.0,512.6 L355.0,512.3 L358.0,513.2 L361.0,515.5 L364.0,515.1 L367.0,519.0 L370.0,520.6 L373.0,524.7 L376.0,528.9 L379.0,530.9 L382.0,534.9 L385.0,539.6 L388.0,544.0 L391.0,549.7 L394.0,554.8 L397.0,559.5 L400.0,562.9 L403.0,569.2 L406.0,575.8 L409.0,580.2 L412.0,586.3 L415.0,591.5 L418.0,595.3 L421.0,601.4 L424.0,607.0 L427.0,610.7 L430.0,614.0 L433.0,617.9 L436.0,620.5 L439.0,625.7 L442.0,627.5 L445.0,630.6 L448.0,633.8 L451.0,635.3 L454.0,637.7 L457.0,640.8 L460.0,640.8 L463.0,644.4 L466.0,644.6 L469.0,645.8 L472.0,646.4 L475.0,648.3 L478.0,648.5 L481.0,649.2 L484.0,648.8 L487.0,650.8 L490.0,650.5 L493.0,651.1 L496.0,652.3 L499.0,649.0 L502.0,651.6 L505.0,653.1 L508.0,650.6 L511.0,652.9 L514.0,651.7 L517.0,651.4 L520.0,652.8 L523.0,652.6 L526.0,652.8 L529.0,652.4 L532.0,653.8 L535.0,653.5 L538.0,652.5 L541.0,651.4 L544.0,651.8 L547.0,650.8 L550.0,651.8 L553.0,652.8 L556.0,652.5 L559.0,654.2 L562.0,653.3 L565.0,653.3 L568.0,652.2 L571.0,651.8 L574.0,652.9 L577.0,652.9 L580.0,653.8 L583.0,652.5 L586.0,652.2 L589.0,652.0 L592.0,653.1 L595.0,650.6" fill="none" stroke="#AFABAB" stroke-width="6" stroke-linecap="butt" stroke-linejoin="round"/>
<path d="M7.0,652.4 L9.5,652.4 L12.0,652.4 L14.5,652.4 L17.0,652.4 L19.5,652.4 L22.0,652.4 L24.5,652.4 L27.0,652.4 L29.5,652.4 L32.0,652.4 L34.5,652.4 L37.0,652.4 L39.5,652.4 L42.0,652.4 L44.5,652.4 L47.0,652.4 L49.5,652.4 L52.0,652.4 L54.5,652.4 L57.0,652.4 L59.5,652.4 L62.0,652.4 L64.5,652.4 L67.0,652.4 L69.5,652.4 L72.0,652.4 L74.5,652.4 L77.0,652.4 L79.5,652.4 L82.0,652.4 L84.5,652.4 L87.0,652.4 L89.5,652.4 L92.0,652.4 L94.5,652.4 L97.0,652.4 L99.5,652.4 L102.0,652.4 L104.5,652.4 L107.0,652.4 L109.5,652.4 L112.0,652.4 L114.5,652.4 L117.0,652.4 L119.5,652.4 L122.0,652.4 L124.5,652.4 L127.0,652.4 L129.5,652.4 L132.0,652.4 L134.5,652.4 L137.0,652.4 L139.5,652.4 L142.0,652.4 L144.5,652.4 L147.0,652.4 L149.5,652.4 L152.0,652.4 L154.5,652.4 L157.0,652.4 L159.5,652.4 L162.0,652.4 L164.5,652.4 L167.0,652.4 L169.5,652.4 L172.0,652.4 L174.5,652.4 L177.0,652.4 L179.5,652.4 L182.0,652.4 L184.5,652.4 L187.0,652.3 L189.5,652.3 L192.0,652.3 L194.5,652.3 L197.0,652.3 L199.5,652.2 L202.0,652.2 L204.5,652.2 L207.0,652.1 L209.5,652.1 L212.0,652.0 L214.5,651.9 L217.0,651.8 L219.5,651.7 L222.0,651.5 L224.5,651.4 L227.0,651.2 L229.5,651.0 L232.0,650.7 L234.5,650.4 L237.0,650.0 L239.5,649.6 L242.0,649.2 L244.5,648.7 L247.0,648.1 L249.5,647.4 L252.0,646.6 L254.5,645.7 L257.0,644.8 L259.5,643.7 L262.0,642.5 L264.5,641.2 L267.0,639.7 L269.5,638.1 L272.0,636.3 L274.5,634.4 L277.0,632.3 L279.5,630.0 L282.0,627.6 L284.5,625.0 L287.0,622.2 L289.5,619.2 L292.0,616.1 L294.5,612.7 L297.0,609.2 L299.5,605.6 L302.0,601.8 L304.5,597.9 L307.0,593.8 L309.5,589.7 L312.0,585.4 L314.5,581.2 L317.0,576.8 L319.5,572.5 L322.0,568.2 L324.5,564.0 L327.0,559.8 L329.5,555.8 L332.0,551.9 L334.5,548.1 L337.0,544.6 L339.5,541.3 L342.0,538.3 L344.5,535.6 L347.0,533.2 L349.5,531.1 L352.0,529.4 L354.5,528.1 L357.0,527.1 L359.5,526.6 L362.0,526.4 L364.5,526.7 L367.0,527.3 L369.5,528.3 L372.0,529.8 L374.5,531.6 L377.0,533.7 L379.5,536.2 L382.0,539.0 L384.5,542.1 L387.0,545.4 L389.5,549.0 L392.0,552.8 L394.5,556.7 L397.0,560.8 L399.5,565.0 L402.0,569.3 L404.5,573.6 L407.0,577.9 L409.5,582.2 L412.0,586.5 L414.5,590.7 L417.0,594.8 L419.5,598.8 L422.0,602.7 L424.5,606.5 L427.0,610.1 L429.5,613.5 L432.0,616.8 L434.5,619.9 L437.0,622.9 L439.5,625.6 L442.0,628.2 L444.5,630.6 L447.0,632.8 L449.5,634.9 L452.0,636.8 L454.5,638.5 L457.0,640.1 L459.5,641.5 L462.0,642.8 L464.5,644.0 L467.0,645.0 L469.5,646.0 L472.0,646.8 L474.5,647.5 L477.0,648.2 L479.5,648.8 L482.0,649.3 L484.5,649.7 L487.0,650.1 L489.5,650.5 L492.0,650.8 L494.5,651.0 L497.0,651.2 L499.5,651.4 L502.0,651.6 L504.5,651.7 L507.0,651.8 L509.5,651.9 L512.0,652.0 L514.5,652.1 L517.0,652.1 L519.5,652.2 L522.0,652.2 L524.5,652.3 L527.0,652.3 L529.5,652.3 L532.0,652.3 L534.5,652.3 L537.0,652.4 L539.5,652.4 L542.0,652.4 L544.5,652.4 L547.0,652.4 L549.5,652.4 L552.0,652.4 L554.5,652.4 L557.0,652.4 L559.5,652.4 L562.0,652.4 L564.5,652.4 L567.0,652.4 L569.5,652.4 L572.0,652.4 L574.5,652.4 L577.0,652.4 L579.5,652.4 L582.0,652.4 L584.5,652.4 L587.0,652.4 L589.5,652.4 L592.0,652.4 L594.5,652.4 L595.0,652.4" fill="none" stroke="#000" stroke-width="6.8" stroke-linecap="butt" stroke-linejoin="round"/>
<path d="M7.0,652.4 L9.5,652.4 L12.0,652.4 L14.5,652.4 L17.0,652.4 L19.5,652.4 L22.0,652.4 L24.5,652.4 L27.0,652.4 L29.5,652.4 L32.0,652.4 L34.5,652.4 L37.0,652.4 L39.5,652.4 L42.0,652.4 L44.5,652.4 L47.0,652.4 L49.5,652.4 L52.0,652.4 L54.5,652.4 L57.0,652.4 L59.5,652.4 L62.0,652.4 L64.5,652.4 L67.0,652.4 L69.5,652.4 L72.0,652.4 L74.5,652.4 L77.0,652.4 L79.5,652.4 L82.0,652.4 L84.5,652.4 L87.0,652.4 L89.5,652.4 L92.0,652.4 L94.5,652.4 L97.0,652.4 L99.5,652.4 L102.0,652.4 L104.5,652.4 L107.0,652.4 L109.5,652.4 L112.0,652.4 L114.5,652.4 L117.0,652.4 L119.5,652.4 L122.0,652.4 L124.5,652.4 L127.0,652.4 L129.5,652.4 L132.0,652.4 L134.5,652.4 L137.0,652.4 L139.5,652.4 L142.0,652.4 L144.5,652.4 L147.0,652.4 L149.5,652.4 L152.0,652.4 L154.5,652.4 L157.0,652.4 L159.5,652.3 L162.0,652.3 L164.5,652.3 L167.0,652.3 L169.5,652.3 L172.0,652.2 L174.5,652.2 L177.0,652.2 L179.5,652.1 L182.0,652.1 L184.5,652.0 L187.0,651.9 L189.5,651.8 L192.0,651.7 L194.5,651.6 L197.0,651.5 L199.5,651.3 L202.0,651.2 L204.5,651.0 L207.0,650.8 L209.5,650.5 L212.0,650.3 L214.5,650.0 L217.0,649.6 L219.5,649.3 L222.0,648.9 L224.5,648.5 L227.0,648.0 L229.5,647.5 L232.0,647.0 L234.5,646.4 L237.0,645.8 L239.5,645.2 L242.0,644.5 L244.5,643.8 L247.0,643.1 L249.5,642.3 L252.0,641.6 L254.5,640.8 L257.0,640.0 L259.5,639.2 L262.0,638.4 L264.5,637.6 L267.0,636.8 L269.5,636.1 L272.0,635.4 L274.5,634.7 L277.0,634.0 L279.5,633.4 L282.0,632.9 L284.5,632.4 L287.0,632.0 L289.5,631.6 L292.0,631.3 L294.5,631.1 L297.0,631.0 L299.5,630.9 L302.0,630.9 L304.5,631.0 L307.0,631.2 L309.5,631.5 L312.0,631.8 L314.5,632.2 L317.0,632.7 L319.5,633.2 L322.0,633.8 L324.5,634.4 L327.0,635.1 L329.5,635.8 L332.0,636.5 L334.5,637.3 L337.0,638.1 L339.5,638.9 L342.0,639.7 L344.5,640.5 L347.0,641.3 L349.5,642.0 L352.0,642.8 L354.5,643.5 L357.0,644.2 L359.5,644.9 L362.0,645.5 L364.5,646.2 L367.0,646.7 L369.5,647.3 L372.0,647.8 L374.5,648.3 L377.0,648.7 L379.5,649.1 L382.0,649.5 L384.5,649.8 L387.0,650.1 L389.5,650.4 L392.0,650.7 L394.5,650.9 L397.0,651.1 L399.5,651.3 L402.0,651.4 L404.5,651.6 L407.0,651.7 L409.5,651.8 L412.0,651.9 L414.5,652.0 L417.0,652.0 L419.5,652.1 L422.0,652.1 L424.5,652.2 L427.0,652.2 L429.5,652.3 L432.0,652.3 L434.5,652.3 L437.0,652.3 L439.5,652.3 L442.0,652.3 L444.5,652.4 L447.0,652.4 L449.5,652.4 L452.0,652.4 L454.5,652.4 L457.0,652.4 L459.5,652.4 L462.0,652.4 L464.5,652.4 L467.0,652.4 L469.5,652.4 L472.0,652.4 L474.5,652.4 L477.0,652.4 L479.5,652.4 L482.0,652.4 L484.5,652.4 L487.0,652.4 L489.5,652.4 L492.0,652.4 L494.5,652.4 L497.0,652.4 L499.5,652.4 L502.0,652.4 L504.5,652.4 L507.0,652.4 L509.5,652.4 L512.0,652.4 L514.5,652.4 L517.0,652.4 L519.5,652.4 L522.0,652.4 L524.5,652.4 L527.0,652.4 L529.5,652.4 L532.0,652.4 L534.5,652.4 L537.0,652.4 L539.5,652.4 L542.0,652.4 L544.5,652.4 L547.0,652.4 L549.5,652.4 L552.0,652.4 L554.5,652.4 L557.0,652.4 L559.5,652.4 L562.0,652.4 L564.5,652.4 L567.0,652.4 L569.5,652.4 L572.0,652.4 L574.5,652.4 L577.0,652.4 L579.5,652.4 L582.0,652.4 L584.5,652.4 L587.0,652.4 L589.5,652.4 L592.0,652.4 L594.5,652.4 L595.0,652.4" fill="none" stroke="#00B050" stroke-width="6.8" stroke-linecap="butt" stroke-linejoin="round"/>
<path d="M7.0,652.4 L9.5,652.4 L12.0,652.4 L14.5,652.4 L17.0,652.4 L19.5,652.4 L22.0,652.4 L24.5,652.4 L27.0,652.4 L29.5,652.4 L32.0,652.4 L34.5,652.4 L37.0,652.4 L39.5,652.4 L42.0,652.4 L44.5,652.4 L47.0,652.4 L49.5,652.4 L52.0,652.4 L54.5,652.4 L57.0,652.4 L59.5,652.4 L62.0,652.4 L64.5,652.4 L67.0,652.4 L69.5,652.3 L72.0,652.3 L74.5,652.3 L77.0,652.3 L79.5,652.3 L82.0,652.3 L84.5,652.2 L87.0,652.2 L89.5,652.2 L92.0,652.1 L94.5,652.1 L97.0,652.0 L99.5,651.9 L102.0,651.8 L104.5,651.7 L107.0,651.6 L109.5,651.5 L112.0,651.4 L114.5,651.2 L117.0,651.0 L119.5,650.8 L122.0,650.6 L124.5,650.4 L127.0,650.1 L129.5,649.8 L132.0,649.5 L134.5,649.2 L137.0,648.8 L139.5,648.4 L142.0,648.0 L144.5,647.6 L147.0,647.1 L149.5,646.7 L152.0,646.2 L154.5,645.7 L157.0,645.1 L159.5,644.6 L162.0,644.0 L164.5,643.5 L167.0,642.9 L169.5,642.4 L172.0,641.9 L174.5,641.4 L177.0,640.9 L179.5,640.4 L182.0,639.9 L184.5,639.5 L187.0,639.2 L189.5,638.8 L192.0,638.5 L194.5,638.3 L197.0,638.1 L199.5,638.0 L202.0,637.9 L204.5,637.9 L207.0,637.9 L209.5,638.0 L212.0,638.2 L214.5,638.4 L217.0,638.6 L219.5,638.9 L222.0,639.3 L224.5,639.7 L227.0,640.1 L229.5,640.6 L232.0,641.1 L234.5,641.6 L237.0,642.1 L239.5,642.6 L242.0,643.2 L244.5,643.7 L247.0,644.3 L249.5,644.8 L252.0,645.3 L254.5,645.9 L257.0,646.4 L259.5,646.9 L262.0,647.3 L264.5,647.8 L267.0,648.2 L269.5,648.6 L272.0,649.0 L274.5,649.3 L277.0,649.7 L279.5,650.0 L282.0,650.2 L284.5,650.5 L287.0,650.7 L289.5,650.9 L292.0,651.1 L294.5,651.3 L297.0,651.4 L299.5,651.6 L302.0,651.7 L304.5,651.8 L307.0,651.9 L309.5,652.0 L312.0,652.0 L314.5,652.1 L317.0,652.1 L319.5,652.2 L322.0,652.2 L324.5,652.2 L327.0,652.3 L329.5,652.3 L332.0,652.3 L334.5,652.3 L337.0,652.3 L339.5,652.4 L342.0,652.4 L344.5,652.4 L347.0,652.4 L349.5,652.4 L352.0,652.4 L354.5,652.4 L357.0,652.4 L359.5,652.4 L362.0,652.4 L364.5,652.4 L367.0,652.4 L369.5,652.4 L372.0,652.4 L374.5,652.4 L377.0,652.4 L379.5,652.4 L382.0,652.4 L384.5,652.4 L387.0,652.4 L389.5,652.4 L392.0,652.4 L394.5,652.4 L397.0,652.4 L399.5,652.4 L402.0,652.4 L404.5,652.4 L407.0,652.4 L409.5,652.4 L412.0,652.4 L414.5,652.4 L417.0,652.4 L419.5,652.4 L422.0,652.4 L424.5,652.4 L427.0,652.4 L429.5,652.4 L432.0,652.4 L434.5,652.4 L437.0,652.4 L439.5,652.4 L442.0,652.4 L444.5,652.4 L447.0,652.4 L449.5,652.4 L452.0,652.4 L454.5,652.4 L457.0,652.4 L459.5,652.4 L462.0,652.4 L464.5,652.4 L467.0,652.4 L469.5,652.4 L472.0,652.4 L474.5,652.4 L477.0,652.4 L479.5,652.4 L482.0,652.4 L484.5,652.4 L487.0,652.4 L489.5,652.4 L492.0,652.4 L494.5,652.4 L497.0,652.4 L499.5,652.4 L502.0,652.4 L504.5,652.4 L507.0,652.4 L509.5,652.4 L512.0,652.4 L514.5,652.4 L517.0,652.4 L519.5,652.4 L522.0,652.4 L524.5,652.4 L527.0,652.4 L529.5,652.4 L532.0,652.4 L534.5,652.4 L537.0,652.4 L539.5,652.4 L542.0,652.4 L544.5,652.4 L547.0,652.4 L549.5,652.4 L552.0,652.4 L554.5,652.4 L557.0,652.4 L559.5,652.4 L562.0,652.4 L564.5,652.4 L567.0,652.4 L569.5,652.4 L572.0,652.4 L574.5,652.4 L577.0,652.4 L579.5,652.4 L582.0,652.4 L584.5,652.4 L587.0,652.4 L589.5,652.4 L592.0,652.4 L594.5,652.4 L595.0,652.4" fill="none" stroke="#ED7D31" stroke-width="6.8" stroke-linecap="butt" stroke-linejoin="round"/>
<line x1="7" y1="811.3" x2="595" y2="811.3" stroke="#000" stroke-width="6" stroke-linecap="butt"/>
<line x1="90.5" y1="811.3" x2="90.5" y2="801" stroke="#000" stroke-width="6" stroke-linecap="butt"/>
<line x1="257.5" y1="811.3" x2="257.5" y2="801" stroke="#000" stroke-width="6" stroke-linecap="butt"/>
<line x1="424.5" y1="811.3" x2="424.5" y2="801" stroke="#000" stroke-width="6" stroke-linecap="butt"/>
<line x1="592" y1="811.3" x2="592" y2="801" stroke="#000" stroke-width="6" stroke-linecap="butt"/>
<path d="M7.0,805.7 L10.0,805.3 L13.0,806.7 L16.0,805.2 L19.0,806.2 L22.0,807.2 L25.0,806.4 L28.0,805.2 L31.0,805.5 L34.0,806.8 L37.0,805.2 L40.0,805.8 L43.0,805.3 L46.0,805.4 L49.0,806.7 L52.0,805.4 L55.0,806.2 L58.0,804.2 L61.0,805.0 L64.0,805.5 L67.0,806.4 L70.0,805.5 L73.0,805.3 L76.0,806.5 L79.0,803.3 L82.0,804.9 L85.0,803.7 L88.0,806.1 L91.0,803.5 L94.0,806.1 L97.0,805.4 L100.0,804.2 L103.0,804.5 L106.0,806.5 L109.0,805.2 L112.0,803.3 L115.0,801.9 L118.0,802.8 L121.0,803.6 L124.0,802.4 L127.0,803.9 L130.0,802.1 L133.0,803.5 L136.0,802.0 L139.0,801.7 L142.0,800.6 L145.0,801.2 L148.0,799.5 L151.0,800.3 L154.0,799.0 L157.0,798.6 L160.0,800.6 L163.0,798.5 L166.0,798.0 L169.0,798.3 L172.0,797.0 L175.0,798.1 L178.0,795.8 L181.0,795.5 L184.0,795.2 L187.0,792.9 L190.0,794.4 L193.0,794.3 L196.0,794.6 L199.0,793.4 L202.0,794.1 L205.0,791.8 L208.0,793.2 L211.0,792.1 L214.0,790.1 L217.0,790.4 L220.0,790.8 L223.0,789.2 L226.0,789.9 L229.0,788.4 L232.0,788.3 L235.0,788.1 L238.0,785.7 L241.0,783.9 L244.0,783.4 L247.0,782.4 L250.0,779.9 L253.0,779.5 L256.0,775.6 L259.0,773.6 L262.0,768.3 L265.0,768.0 L268.0,766.2 L271.0,761.3 L274.0,759.3 L277.0,756.1 L280.0,752.9 L283.0,749.6 L286.0,746.6 L289.0,741.7 L292.0,738.1 L295.0,734.8 L298.0,730.1 L301.0,726.2 L304.0,720.4 L307.0,715.3 L310.0,710.7 L313.0,706.0 L316.0,702.2 L319.0,696.2 L322.0,693.6 L325.0,689.3 L328.0,685.7 L331.0,681.6 L334.0,678.4 L337.0,673.0 L340.0,671.4 L343.0,670.6 L346.0,667.1 L349.0,666.1 L352.0,662.6 L355.0,661.3 L358.0,662.6 L361.0,662.0 L364.0,663.8 L367.0,664.9 L370.0,666.0 L373.0,670.9 L376.0,675.2 L379.0,677.6 L382.0,682.4 L385.0,687.3 L388.0,692.5 L391.0,699.8 L394.0,706.9 L397.0,710.4 L400.0,718.0 L403.0,725.0 L406.0,731.3 L409.0,735.5 L412.0,742.4 L415.0,748.2 L418.0,753.4 L421.0,760.2 L424.0,765.7 L427.0,770.3 L430.0,775.1 L433.0,778.5 L436.0,782.9 L439.0,785.7 L442.0,789.3 L445.0,791.9 L448.0,793.9 L451.0,795.5 L454.0,797.5 L457.0,800.6 L460.0,802.1 L463.0,804.2 L466.0,804.0 L469.0,804.6 L472.0,807.4 L475.0,806.9 L478.0,808.6 L481.0,809.0 L484.0,809.1 L487.0,810.0 L490.0,809.2 L493.0,811.6 L496.0,811.1 L499.0,810.7 L502.0,811.7 L505.0,810.6 L508.0,812.3 L511.0,811.0 L514.0,812.4 L517.0,811.3 L520.0,810.7 L523.0,809.2 L526.0,810.3 L529.0,809.8 L532.0,811.2 L535.0,809.4 L538.0,811.5 L541.0,811.5 L544.0,812.4 L547.0,811.1 L550.0,810.3 L553.0,811.9 L556.0,811.6 L559.0,811.7 L562.0,811.6 L565.0,811.8 L568.0,812.5 L571.0,810.1 L574.0,813.1 L577.0,812.1 L580.0,811.0 L583.0,810.4 L586.0,811.5 L589.0,811.6 L592.0,811.3 L595.0,811.5" fill="none" stroke="#A5A5A5" stroke-width="6" stroke-linecap="butt" stroke-linejoin="round"/>
<path d="M7.0,811.3 L9.5,811.3 L12.0,811.3 L14.5,811.3 L17.0,811.3 L19.5,811.3 L22.0,811.3 L24.5,811.3 L27.0,811.3 L29.5,811.3 L32.0,811.3 L34.5,811.3 L37.0,811.3 L39.5,811.3 L42.0,811.3 L44.5,811.3 L47.0,811.3 L49.5,811.3 L52.0,811.3 L54.5,811.3 L57.0,811.3 L59.5,811.3 L62.0,811.3 L64.5,811.3 L67.0,811.3 L69.5,811.3 L72.0,811.3 L74.5,811.3 L77.0,811.3 L79.5,811.3 L82.0,811.3 L84.5,811.3 L87.0,811.3 L89.5,811.3 L92.0,811.3 L94.5,811.3 L97.0,811.3 L99.5,811.3 L102.0,811.3 L104.5,811.3 L107.0,811.3 L109.5,811.3 L112.0,811.3 L114.5,811.3 L117.0,811.3 L119.5,811.3 L122.0,811.3 L124.5,811.3 L127.0,811.3 L129.5,811.3 L132.0,811.3 L134.5,811.3 L137.0,811.3 L139.5,811.3 L142.0,811.3 L144.5,811.3 L147.0,811.3 L149.5,811.3 L152.0,811.3 L154.5,811.3 L157.0,811.3 L159.5,811.3 L162.0,811.3 L164.5,811.3 L167.0,811.3 L169.5,811.3 L172.0,811.3 L174.5,811.3 L177.0,811.3 L179.5,811.3 L182.0,811.3 L184.5,811.3 L187.0,811.3 L189.5,811.3 L192.0,811.2 L194.5,811.2 L197.0,811.2 L199.5,811.2 L202.0,811.1 L204.5,811.1 L207.0,811.1 L209.5,811.0 L212.0,810.9 L214.5,810.9 L217.0,810.8 L219.5,810.7 L222.0,810.5 L224.5,810.4 L227.0,810.2 L229.5,809.9 L232.0,809.7 L234.5,809.4 L237.0,809.0 L239.5,808.6 L242.0,808.1 L244.5,807.5 L247.0,806.9 L249.5,806.1 L252.0,805.3 L254.5,804.3 L257.0,803.3 L259.5,802.1 L262.0,800.7 L264.5,799.2 L267.0,797.5 L269.5,795.7 L272.0,793.6 L274.5,791.4 L277.0,788.9 L279.5,786.3 L282.0,783.4 L284.5,780.3 L287.0,776.9 L289.5,773.4 L292.0,769.6 L294.5,765.6 L297.0,761.4 L299.5,757.0 L302.0,752.4 L304.5,747.6 L307.0,742.7 L309.5,737.6 L312.0,732.5 L314.5,727.3 L317.0,722.0 L319.5,716.8 L322.0,711.6 L324.5,706.4 L327.0,701.4 L329.5,696.6 L332.0,691.9 L334.5,687.5 L337.0,683.3 L339.5,679.5 L342.0,676.1 L344.5,673.0 L347.0,670.3 L349.5,668.1 L352.0,666.4 L354.5,665.1 L357.0,664.4 L359.5,664.1 L362.0,664.4 L364.5,665.1 L367.0,666.4 L369.5,668.1 L372.0,670.3 L374.5,673.0 L377.0,676.1 L379.5,679.5 L382.0,683.3 L384.5,687.5 L387.0,691.9 L389.5,696.6 L392.0,701.4 L394.5,706.4 L397.0,711.6 L399.5,716.8 L402.0,722.0 L404.5,727.3 L407.0,732.5 L409.5,737.6 L412.0,742.7 L414.5,747.6 L417.0,752.4 L419.5,757.0 L422.0,761.4 L424.5,765.6 L427.0,769.6 L429.5,773.4 L432.0,776.9 L434.5,780.3 L437.0,783.4 L439.5,786.3 L442.0,788.9 L444.5,791.4 L447.0,793.6 L449.5,795.7 L452.0,797.5 L454.5,799.2 L457.0,800.7 L459.5,802.1 L462.0,803.3 L464.5,804.3 L467.0,805.3 L469.5,806.1 L472.0,806.9 L474.5,807.5 L477.0,808.1 L479.5,808.6 L482.0,809.0 L484.5,809.4 L487.0,809.7 L489.5,809.9 L492.0,810.2 L494.5,810.4 L497.0,810.5 L499.5,810.7 L502.0,810.8 L504.5,810.9 L507.0,810.9 L509.5,811.0 L512.0,811.1 L514.5,811.1 L517.0,811.1 L519.5,811.2 L522.0,811.2 L524.5,811.2 L527.0,811.2 L529.5,811.3 L532.0,811.3 L534.5,811.3 L537.0,811.3 L539.5,811.3 L542.0,811.3 L544.5,811.3 L547.0,811.3 L549.5,811.3 L552.0,811.3 L554.5,811.3 L557.0,811.3 L559.5,811.3 L562.0,811.3 L564.5,811.3 L567.0,811.3 L569.5,811.3 L572.0,811.3 L574.5,811.3 L577.0,811.3 L579.5,811.3 L582.0,811.3 L584.5,811.3 L587.0,811.3 L589.5,811.3 L592.0,811.3 L594.5,811.3 L595.0,811.3" fill="none" stroke="#000" stroke-width="6.8" stroke-linecap="butt" stroke-linejoin="round"/>
<path d="M7.0,811.3 L9.5,811.3 L12.0,811.3 L14.5,811.3 L17.0,811.3 L19.5,811.3 L22.0,811.3 L24.5,811.3 L27.0,811.3 L29.5,811.3 L32.0,811.3 L34.5,811.3 L37.0,811.3 L39.5,811.3 L42.0,811.3 L44.5,811.3 L47.0,811.3 L49.5,811.3 L52.0,811.3 L54.5,811.3 L57.0,811.3 L59.5,811.3 L62.0,811.3 L64.5,811.3 L67.0,811.3 L69.5,811.3 L72.0,811.3 L74.5,811.3 L77.0,811.3 L79.5,811.3 L82.0,811.3 L84.5,811.3 L87.0,811.3 L89.5,811.3 L92.0,811.3 L94.5,811.3 L97.0,811.3 L99.5,811.3 L102.0,811.3 L104.5,811.3 L107.0,811.3 L109.5,811.3 L112.0,811.3 L114.5,811.3 L117.0,811.3 L119.5,811.3 L122.0,811.3 L124.5,811.3 L127.0,811.3 L129.5,811.3 L132.0,811.3 L134.5,811.3 L137.0,811.3 L139.5,811.3 L142.0,811.3 L144.5,811.3 L147.0,811.3 L149.5,811.3 L152.0,811.3 L154.5,811.3 L157.0,811.3 L159.5,811.3 L162.0,811.3 L164.5,811.3 L167.0,811.3 L169.5,811.3 L172.0,811.3 L174.5,811.3 L177.0,811.3 L179.5,811.3 L182.0,811.3 L184.5,811.3 L187.0,811.3 L189.5,811.3 L192.0,811.3 L194.5,811.3 L197.0,811.3 L199.5,811.2 L202.0,811.2 L204.5,811.2 L207.0,811.1 L209.5,811.0 L212.0,810.9 L214.5,810.8 L217.0,810.7 L219.5,810.5 L222.0,810.2 L224.5,809.9 L227.0,809.5 L229.5,809.1 L232.0,808.5 L234.5,807.9 L237.0,807.2 L239.5,806.4 L242.0,805.5 L244.5,804.5 L247.0,803.4 L249.5,802.3 L252.0,801.2 L254.5,800.0 L257.0,798.9 L259.5,797.8 L262.0,796.8 L264.5,795.9 L267.0,795.1 L269.5,794.5 L272.0,794.1 L274.5,793.8 L277.0,793.8 L279.5,794.0 L282.0,794.4 L284.5,794.9 L287.0,795.7 L289.5,796.5 L292.0,797.5 L294.5,798.6 L297.0,799.7 L299.5,800.9 L302.0,802.0 L304.5,803.1 L307.0,804.2 L309.5,805.2 L312.0,806.1 L314.5,807.0 L317.0,807.7 L319.5,808.3 L322.0,808.9 L324.5,809.4 L327.0,809.8 L329.5,810.1 L332.0,810.4 L334.5,810.6 L337.0,810.8 L339.5,810.9 L342.0,811.0 L344.5,811.1 L347.0,811.1 L349.5,811.2 L352.0,811.2 L354.5,811.2 L357.0,811.3 L359.5,811.3 L362.0,811.3 L364.5,811.3 L367.0,811.3 L369.5,811.3 L372.0,811.3 L374.5,811.3 L377.0,811.3 L379.5,811.3 L382.0,811.3 L384.5,811.3 L387.0,811.3 L389.5,811.3 L392.0,811.3 L394.5,811.3 L397.0,811.3 L399.5,811.3 L402.0,811.3 L404.5,811.3 L407.0,811.3 L409.5,811.3 L412.0,811.3 L414.5,811.3 L417.0,811.3 L419.5,811.3 L422.0,811.3 L424.5,811.3 L427.0,811.3 L429.5,811.3 L432.0,811.3 L434.5,811.3 L437.0,811.3 L439.5,811.3 L442.0,811.3 L444.5,811.3 L447.0,811.3 L449.5,811.3 L452.0,811.3 L454.5,811.3 L457.0,811.3 L459.5,811.3 L462.0,811.3 L464.5,811.3 L467.0,811.3 L469.5,811.3 L472.0,811.3 L474.5,811.3 L477.0,811.3 L479.5,811.3 L482.0,811.3 L484.5,811.3 L487.0,811.3 L489.5,811.3 L492.0,811.3 L494.5,811.3 L497.0,811.3 L499.5,811.3 L502.0,811.3 L504.5,811.3 L507.0,811.3 L509.5,811.3 L512.0,811.3 L514.5,811.3 L517.0,811.3 L519.5,811.3 L522.0,811.3 L524.5,811.3 L527.0,811.3 L529.5,811.3 L532.0,811.3 L534.5,811.3 L537.0,811.3 L539.5,811.3 L542.0,811.3 L544.5,811.3 L547.0,811.3 L549.5,811.3 L552.0,811.3 L554.5,811.3 L557.0,811.3 L559.5,811.3 L562.0,811.3 L564.5,811.3 L567.0,811.3 L569.5,811.3 L572.0,811.3 L574.5,811.3 L577.0,811.3 L579.5,811.3 L582.0,811.3 L584.5,811.3 L587.0,811.3 L589.5,811.3 L592.0,811.3 L594.5,811.3 L595.0,811.3" fill="none" stroke="#00B050" stroke-width="6.8" stroke-linecap="butt" stroke-linejoin="round"/>
<path d="M7.0,811.3 L9.5,811.3 L12.0,811.3 L14.5,811.3 L17.0,811.3 L19.5,811.3 L22.0,811.3 L24.5,811.3 L27.0,811.3 L29.5,811.3 L32.0,811.3 L34.5,811.3 L37.0,811.3 L39.5,811.2 L42.0,811.2 L44.5,811.2 L47.0,811.2 L49.5,811.2 L52.0,811.2 L54.5,811.2 L57.0,811.1 L59.5,811.1 L62.0,811.1 L64.5,811.1 L67.0,811.0 L69.5,811.0 L72.0,811.0 L74.5,810.9 L77.0,810.9 L79.5,810.8 L82.0,810.8 L84.5,810.7 L87.0,810.6 L89.5,810.6 L92.0,810.5 L94.5,810.4 L97.0,810.3 L99.5,810.2 L102.0,810.1 L104.5,810.0 L107.0,809.8 L109.5,809.7 L112.0,809.5 L114.5,809.4 L117.0,809.2 L119.5,809.0 L122.0,808.8 L124.5,808.6 L127.0,808.4 L129.5,808.1 L132.0,807.9 L134.5,807.6 L137.0,807.4 L139.5,807.1 L142.0,806.8 L144.5,806.5 L147.0,806.2 L149.5,805.8 L152.0,805.5 L154.5,805.2 L157.0,804.8 L159.5,804.5 L162.0,804.1 L164.5,803.8 L167.0,803.4 L169.5,803.1 L172.0,802.7 L174.5,802.3 L177.0,802.0 L179.5,801.6 L182.0,801.3 L184.5,801.0 L187.0,800.6 L189.5,800.3 L192.0,800.0 L194.5,799.8 L197.0,799.5 L199.5,799.2 L202.0,799.0 L204.5,798.8 L207.0,798.6 L209.5,798.5 L212.0,798.3 L214.5,798.2 L217.0,798.1 L219.5,798.0 L222.0,798.0 L224.5,798.0 L227.0,798.0 L229.5,798.1 L232.0,798.1 L234.5,798.2 L237.0,798.3 L239.5,798.5 L242.0,798.6 L244.5,798.8 L247.0,799.0 L249.5,799.3 L252.0,799.5 L254.5,799.8 L257.0,800.1 L259.5,800.4 L262.0,800.7 L264.5,801.0 L267.0,801.4 L269.5,801.7 L272.0,802.0 L274.5,802.4 L277.0,802.8 L279.5,803.1 L282.0,803.5 L284.5,803.8 L287.0,804.2 L289.5,804.5 L292.0,804.9 L294.5,805.2 L297.0,805.6 L299.5,805.9 L302.0,806.2 L304.5,806.5 L307.0,806.8 L309.5,807.1 L312.0,807.4 L314.5,807.7 L317.0,807.9 L319.5,808.2 L322.0,808.4 L324.5,808.6 L327.0,808.8 L329.5,809.0 L332.0,809.2 L334.5,809.4 L337.0,809.5 L339.5,809.7 L342.0,809.8 L344.5,810.0 L347.0,810.1 L349.5,810.2 L352.0,810.3 L354.5,810.4 L357.0,810.5 L359.5,810.6 L362.0,810.7 L364.5,810.7 L367.0,810.8 L369.5,810.8 L372.0,810.9 L374.5,810.9 L377.0,811.0 L379.5,811.0 L382.0,811.0 L384.5,811.1 L387.0,811.1 L389.5,811.1 L392.0,811.1 L394.5,811.2 L397.0,811.2 L399.5,811.2 L402.0,811.2 L404.5,811.2 L407.0,811.2 L409.5,811.2 L412.0,811.3 L414.5,811.3 L417.0,811.3 L419.5,811.3 L422.0,811.3 L424.5,811.3 L427.0,811.3 L429.5,811.3 L432.0,811.3 L434.5,811.3 L437.0,811.3 L439.5,811.3 L442.0,811.3 L444.5,811.3 L447.0,811.3 L449.5,811.3 L452.0,811.3 L454.5,811.3 L457.0,811.3 L459.5,811.3 L462.0,811.3 L464.5,811.3 L467.0,811.3 L469.5,811.3 L472.0,811.3 L474.5,811.3 L477.0,811.3 L479.5,811.3 L482.0,811.3 L484.5,811.3 L487.0,811.3 L489.5,811.3 L492.0,811.3 L494.5,811.3 L497.0,811.3 L499.5,811.3 L502.0,811.3 L504.5,811.3 L507.0,811.3 L509.5,811.3 L512.0,811.3 L514.5,811.3 L517.0,811.3 L519.5,811.3 L522.0,811.3 L524.5,811.3 L527.0,811.3 L529.5,811.3 L532.0,811.3 L534.5,811.3 L537.0,811.3 L539.5,811.3 L542.0,811.3 L544.5,811.3 L547.0,811.3 L549.5,811.3 L552.0,811.3 L554.5,811.3 L557.0,811.3 L559.5,811.3 L562.0,811.3 L564.5,811.3 L567.0,811.3 L569.5,811.3 L572.0,811.3 L574.5,811.3 L577.0,811.3 L579.5,811.3 L582.0,811.3 L584.5,811.3 L587.0,811.3 L589.5,811.3 L592.0,811.3 L594.5,811.3 L595.0,811.3" fill="none" stroke="#ED7D31" stroke-width="6.8" stroke-linecap="butt" stroke-linejoin="round"/>
<text x="90.5" y="861" font-size="32.5" text-anchor="middle">288</text>
<text x="257.5" y="861" font-size="32.5" text-anchor="middle">286</text>
<text x="424.5" y="861" font-size="32.5" text-anchor="middle">284</text>
<text x="592" y="861" font-size="32.5" text-anchor="middle">282</text>
<text x="299" y="910" font-size="33" text-anchor="middle">Binding Energy (eV)</text>
<text x="598" y="91" font-size="40">A</text>
<text x="0.5" y="281.5" font-size="32">APB</text>
<text x="3" y="457.5" font-size="32.7">ABB</text>
<text x="8" y="617" font-size="32.7">PB</text>
<text x="11" y="775" font-size="32.7">BB</text>
<text x="302" y="99" font-size="32.7">C-C</text>
<text x="108" y="214" font-size="32.7">C=O</text>
<text x="112" y="253" font-size="32.7">C-N</text>
<text x="192" y="229" font-size="32.7">C-O</text>
<line x1="328.5" y1="113.5" x2="328.5" y2="162" stroke="#000" stroke-width="2.8" stroke-linecap="butt"/>
<line x1="140.3" y1="272" x2="141" y2="308.5" stroke="#000" stroke-width="2.8" stroke-linecap="butt"/>
<line x1="220" y1="244.3" x2="237" y2="284.4" stroke="#000" stroke-width="2.8" stroke-linecap="butt"/>
<path d="M742.5,278.8 L745.5,285.0 L748.4,292.8 L751.4,282.6 L754.3,281.1 L757.3,281.5 L760.3,277.4 L763.2,277.6 L766.2,284.7 L769.1,285.1 L772.1,281.3 L775.1,275.1 L778.0,276.6 L781.0,285.9 L783.9,284.9 L786.9,274.3 L789.9,269.8 L792.8,277.6 L795.8,280.6 L798.7,274.3 L801.7,277.7 L804.7,273.3 L807.6,269.0 L810.6,273.2 L813.5,276.3 L816.5,275.4 L819.5,280.8 L822.4,280.7 L825.4,281.6 L828.3,280.6 L831.3,281.1 L834.3,280.2 L837.2,280.2 L840.2,278.1 L843.1,277.3 L846.1,274.8 L849.1,272.6 L852.0,282.3 L855.0,273.5 L857.9,278.2 L860.9,282.7 L863.9,276.7 L866.8,270.8 L869.8,266.0 L872.7,271.5 L875.7,265.6 L878.7,264.4 L881.6,270.6 L884.6,265.9 L887.5,254.0 L890.5,248.5 L893.5,244.9 L896.4,245.2 L899.4,244.6 L902.3,242.4 L905.3,237.2 L908.3,242.3 L911.2,237.4 L914.2,232.7 L917.1,234.5 L920.1,220.9 L923.1,222.3 L926.0,213.4 L929.0,199.6 L931.9,205.6 L934.9,199.3 L937.9,185.7 L940.8,189.4 L943.8,182.1 L946.7,170.4 L949.7,163.1 L952.7,156.5 L955.6,149.9 L958.6,139.3 L961.5,133.9 L964.5,131.9 L967.5,133.1 L970.4,131.2 L973.4,129.3 L976.3,116.6 L979.3,118.3 L982.3,102.6 L985.2,94.1 L988.2,103.1 L991.1,101.1 L994.1,95.2 L997.1,88.6 L1000.0,93.4 L1003.0,91.6 L1005.9,92.0 L1008.9,88.9 L1011.9,83.6 L1014.8,91.8 L1017.8,89.5 L1020.7,86.9 L1023.7,87.0 L1026.7,94.7 L1029.6,87.4 L1032.6,88.7 L1035.5,89.9 L1038.5,97.1 L1041.5,106.9 L1044.4,103.6 L1047.4,97.3 L1050.3,100.7 L1053.3,101.4 L1056.3,93.6 L1059.2,94.3 L1062.2,105.1 L1065.1,106.0 L1068.1,126.9 L1071.1,132.6 L1074.0,123.9 L1077.0,129.0 L1079.9,129.9 L1082.9,133.2 L1085.9,138.3 L1088.8,139.1 L1091.8,146.7 L1094.7,158.4 L1097.7,157.3 L1100.7,158.8 L1103.6,159.3 L1106.6,174.8 L1109.5,177.1 L1112.5,181.2 L1115.5,181.9 L1118.4,178.4 L1121.4,188.0 L1124.3,197.3 L1127.3,198.4 L1130.3,200.0 L1133.2,209.8 L1136.2,208.0 L1139.1,200.0 L1142.1,202.6 L1145.1,208.0 L1148.0,209.6 L1151.0,208.3 L1153.9,209.2 L1156.9,196.5 L1159.9,193.9 L1162.8,194.7 L1165.8,198.8 L1168.7,193.6 L1171.7,184.6 L1174.7,183.1 L1177.6,184.3 L1180.6,178.9 L1183.5,177.3 L1186.5,185.1 L1189.5,187.6 L1192.4,190.4 L1195.4,191.0 L1198.3,183.8 L1201.3,185.6 L1204.3,192.3 L1207.2,204.1 L1210.2,208.8 L1213.1,209.2 L1216.1,214.2 L1219.1,218.5 L1222.0,225.8 L1225.0,224.1 L1227.9,222.3 L1230.9,227.0 L1233.9,233.5 L1236.8,244.6 L1239.8,248.3 L1242.7,256.4 L1245.7,257.2 L1248.7,265.8 L1251.6,271.4 L1254.6,273.5 L1257.5,270.0 L1260.5,272.7 L1263.5,277.1 L1266.4,283.4 L1269.4,281.4 L1272.3,284.4 L1275.3,274.0 L1278.3,278.1 L1281.2,279.0 L1284.2,282.0 L1287.1,289.6 L1290.1,288.8 L1293.1,280.0 L1296.0,274.0 L1299.0,284.6 L1301.9,285.0 L1304.9,283.2 L1307.9,290.6 L1310.8,291.1 L1313.8,284.2 L1316.7,281.2 L1319.7,280.1 L1322.7,273.0 L1325.6,278.5 L1328.6,276.4 L1331.5,269.4 L1334.5,271.5 L1337.5,286.3 L1340.4,282.4 L1343.4,276.4 L1346.3,286.6 L1349.3,288.0 L1352.3,289.3 L1355.2,289.8 L1358.2,287.2 L1361.1,278.9 L1364.1,271.5 L1367.1,270.8 L1370.0,280.5 L1373.0,289.9 L1375.9,283.2 L1378.9,281.3 L1381.9,278.8 L1384.8,282.4 L1387.8,288.6 L1390.7,282.8 L1393.7,290.7 L1396.7,285.6 L1399.6,278.9 L1402.6,275.9 L1405.5,274.7 L1408.5,289.4 L1411.5,280.4 L1414.4,276.5 L1417.4,280.0 L1420.3,278.6 L1423.3,283.9 L1426.3,277.4 L1429.2,277.7 L1432.2,285.1 L1435.1,284.8" fill="none" stroke="#AFABAB" stroke-width="6.5" stroke-linecap="round" stroke-linejoin="round"/>
<path d="M845.8,292.4 L847.8,292.4 L849.8,292.4 L851.8,292.4 L853.8,292.4 L855.8,292.4 L857.8,292.4 L859.8,292.4 L861.8,292.4 L863.8,292.4 L865.8,292.4 L867.8,292.4 L869.8,292.4 L871.8,292.4 L873.8,292.4 L875.8,292.4 L877.8,292.4 L879.8,292.4 L881.8,292.4 L883.8,292.4 L885.8,292.4 L887.8,292.4 L889.8,292.4 L891.8,292.4 L893.8,292.4 L895.8,292.4 L897.8,292.4 L899.8,292.4 L901.8,292.4 L903.8,292.4 L905.8,292.4 L907.8,292.4 L909.8,292.4 L911.8,292.4 L913.8,292.4 L915.8,292.4 L917.8,292.4 L919.8,292.4 L921.8,292.4 L923.8,292.4 L925.8,292.4 L927.8,292.4 L929.8,292.4 L931.8,292.4 L933.8,292.4 L935.8,292.4 L937.8,292.4 L939.8,292.4 L941.8,292.4 L943.8,292.4 L945.8,292.4 L947.8,292.4 L949.8,292.4 L951.8,292.4 L953.8,292.4 L955.8,292.4 L957.8,292.4 L959.8,292.4 L961.8,292.4 L963.8,292.4 L965.8,292.4 L967.8,292.4 L969.8,292.4 L971.8,292.4 L973.8,292.4 L975.8,292.4 L977.8,292.4 L979.8,292.4 L981.8,292.4 L983.8,292.4 L985.8,292.4 L987.8,292.4 L989.8,292.4 L991.8,292.4 L993.8,292.4 L995.8,292.4 L997.8,292.4 L999.8,292.4 L1001.8,292.4 L1003.8,292.4 L1005.8,292.4 L1007.8,292.4 L1009.8,292.4 L1011.8,292.4 L1013.8,292.4 L1015.8,292.4 L1017.8,292.3 L1019.8,292.3 L1021.8,292.3 L1023.8,292.3 L1025.8,292.3 L1027.8,292.3 L1029.8,292.2 L1031.8,292.2 L1033.8,292.2 L1035.8,292.1 L1037.8,292.1 L1039.8,292.0 L1041.8,291.9 L1043.8,291.9 L1045.8,291.8 L1047.8,291.7 L1049.8,291.6 L1051.8,291.4 L1053.8,291.3 L1055.8,291.1 L1057.8,290.9 L1059.8,290.7 L1061.8,290.5 L1063.8,290.2 L1065.8,289.9 L1067.8,289.5 L1069.8,289.2 L1071.8,288.7 L1073.8,288.3 L1075.8,287.7 L1077.8,287.2 L1079.8,286.5 L1081.8,285.8 L1083.8,285.1 L1085.8,284.3 L1087.8,283.4 L1089.8,282.4 L1091.8,281.3 L1093.8,280.2 L1095.8,279.0 L1097.8,277.6 L1099.8,276.2 L1101.8,274.7 L1103.8,273.1 L1105.8,271.4 L1107.8,269.6 L1109.8,267.7 L1111.8,265.7 L1113.8,263.6 L1115.8,261.5 L1117.8,259.2 L1119.8,256.8 L1121.8,254.4 L1123.8,251.9 L1125.8,249.3 L1127.8,246.7 L1129.8,244.0 L1131.8,241.2 L1133.8,238.5 L1135.8,235.7 L1137.8,232.9 L1139.8,230.1 L1141.8,227.3 L1143.8,224.5 L1145.8,221.8 L1147.8,219.2 L1149.8,216.6 L1151.8,214.1 L1153.8,211.7 L1155.8,209.5 L1157.8,207.3 L1159.8,205.3 L1161.8,203.5 L1163.8,201.8 L1165.8,200.3 L1167.8,199.0 L1169.8,197.8 L1171.8,196.9 L1173.8,196.2 L1175.8,195.7 L1177.8,195.5 L1179.8,195.4 L1181.8,195.6 L1183.8,196.0 L1185.8,196.6 L1187.8,197.4 L1189.8,198.4 L1191.8,199.6 L1193.8,201.0 L1195.8,202.6 L1197.8,204.4 L1199.8,206.3 L1201.8,208.4 L1203.8,210.6 L1205.8,212.9 L1207.8,215.3 L1209.8,217.9 L1211.8,220.5 L1213.8,223.2 L1215.8,225.9 L1217.8,228.7 L1219.8,231.5 L1221.8,234.3 L1223.8,237.1 L1225.8,239.8 L1227.8,242.6 L1229.8,245.3 L1231.8,248.0 L1233.8,250.6 L1235.8,253.2 L1237.8,255.6 L1239.8,258.0 L1241.8,260.3 L1243.8,262.6 L1245.8,264.7 L1247.8,266.7 L1249.8,268.7 L1251.8,270.5 L1253.8,272.3 L1255.8,273.9 L1257.8,275.5 L1259.8,276.9 L1261.8,278.3 L1263.8,279.6 L1265.8,280.8 L1267.8,281.9 L1269.8,282.9 L1271.8,283.8 L1273.8,284.7 L1275.8,285.5 L1277.8,286.2 L1279.8,286.9 L1281.8,287.5 L1283.8,288.0 L1285.8,288.5 L1287.8,289.0 L1289.8,289.4 L1291.8,289.7 L1293.8,290.0 L1295.8,290.3 L1297.8,290.6 L1299.8,290.8 L1301.8,291.0 L1303.8,291.2 L1305.8,291.4 L1307.8,291.5 L1309.8,291.6 L1311.8,291.7 L1313.8,291.8 L1315.8,291.9 L1317.8,292.0 L1319.8,292.0 L1321.8,292.1 L1323.8,292.1 L1325.8,292.2 L1327.8,292.2 L1329.8,292.2 L1331.8,292.3 L1333.8,292.3 L1335.8,292.3 L1337.8,292.3 L1339.8,292.3 L1341.8,292.3 L1343.8,292.4 L1345.8,292.4 L1347.8,292.4 L1349.8,292.4 L1351.8,292.4 L1353.8,292.4 L1355.8,292.4 L1357.8,292.4 L1359.8,292.4 L1361.8,292.4 L1363.8,292.4 L1365.8,292.4 L1367.8,292.4 L1369.8,292.4 L1371.8,292.4 L1373.8,292.4 L1375.8,292.4 L1377.8,292.4 L1379.8,292.4 L1381.8,292.4 L1383.8,292.4 L1385.8,292.4 L1387.8,292.4 L1389.8,292.4 L1391.8,292.4 L1393.8,292.4 L1395.8,292.4 L1397.8,292.4 L1399.8,292.4 L1401.8,292.4 L1403.8,292.4 L1405.8,292.4 L1407.8,292.4 L1409.8,292.4 L1411.8,292.4 L1413.8,292.4 L1415.8,292.4 L1417.8,292.4 L1419.8,292.4 L1421.8,292.4 L1423.8,292.4 L1425.8,292.4 L1427.8,292.4 L1429.8,292.4 L1431.8,292.4 L1433.8,292.4 L1435.8,292.4 L1437.0,292.4" fill="none" stroke="#000" stroke-width="6" stroke-linecap="round" stroke-linejoin="round"/>
<path d="M845.8,292.4 L847.8,292.4 L849.8,292.4 L851.8,292.4 L853.8,292.4 L855.8,292.4 L857.8,292.4 L859.8,292.4 L861.8,292.4 L863.8,292.4 L865.8,292.4 L867.8,292.4 L869.8,292.4 L871.8,292.4 L873.8,292.4 L875.8,292.4 L877.8,292.4 L879.8,292.4 L881.8,292.4 L883.8,292.4 L885.8,292.4 L887.8,292.4 L889.8,292.4 L891.8,292.4 L893.8,292.4 L895.8,292.4 L897.8,292.4 L899.8,292.4 L901.8,292.4 L903.8,292.3 L905.8,292.3 L907.8,292.3 L909.8,292.3 L911.8,292.3 L913.8,292.3 L915.8,292.2 L917.8,292.2 L919.8,292.2 L921.8,292.1 L923.8,292.1 L925.8,292.0 L927.8,292.0 L929.8,291.9 L931.8,291.8 L933.8,291.7 L935.8,291.6 L937.8,291.5 L939.8,291.4 L941.8,291.2 L943.8,291.0 L945.8,290.8 L947.8,290.6 L949.8,290.3 L951.8,290.0 L953.8,289.7 L955.8,289.3 L957.8,288.9 L959.8,288.4 L961.8,287.9 L963.8,287.4 L965.8,286.8 L967.8,286.1 L969.8,285.4 L971.8,284.5 L973.8,283.7 L975.8,282.7 L977.8,281.7 L979.8,280.5 L981.8,279.3 L983.8,278.0 L985.8,276.6 L987.8,275.1 L989.8,273.5 L991.8,271.8 L993.8,270.0 L995.8,268.1 L997.8,266.0 L999.8,263.9 L1001.8,261.7 L1003.8,259.4 L1005.8,257.0 L1007.8,254.5 L1009.8,251.9 L1011.8,249.3 L1013.8,246.5 L1015.8,243.7 L1017.8,240.9 L1019.8,238.0 L1021.8,235.1 L1023.8,232.2 L1025.8,229.2 L1027.8,226.3 L1029.8,223.3 L1031.8,220.5 L1033.8,217.6 L1035.8,214.9 L1037.8,212.2 L1039.8,209.6 L1041.8,207.1 L1043.8,204.7 L1045.8,202.5 L1047.8,200.4 L1049.8,198.5 L1051.8,196.8 L1053.8,195.2 L1055.8,193.9 L1057.8,192.8 L1059.8,191.8 L1061.8,191.1 L1063.8,190.7 L1065.8,190.4 L1067.8,190.4 L1069.8,190.6 L1071.8,191.1 L1073.8,191.8 L1075.8,192.7 L1077.8,193.8 L1079.8,195.1 L1081.8,196.6 L1083.8,198.3 L1085.8,200.2 L1087.8,202.3 L1089.8,204.5 L1091.8,206.8 L1093.8,209.3 L1095.8,211.9 L1097.8,214.6 L1099.8,217.3 L1101.8,220.2 L1103.8,223.1 L1105.8,226.0 L1107.8,228.9 L1109.8,231.9 L1111.8,234.8 L1113.8,237.7 L1115.8,240.6 L1117.8,243.5 L1119.8,246.3 L1121.8,249.0 L1123.8,251.7 L1125.8,254.2 L1127.8,256.8 L1129.8,259.2 L1131.8,261.5 L1133.8,263.7 L1135.8,265.8 L1137.8,267.9 L1139.8,269.8 L1141.8,271.6 L1143.8,273.3 L1145.8,274.9 L1147.8,276.4 L1149.8,277.9 L1151.8,279.2 L1153.8,280.4 L1155.8,281.5 L1157.8,282.6 L1159.8,283.6 L1161.8,284.5 L1163.8,285.3 L1165.8,286.0 L1167.8,286.7 L1169.8,287.3 L1171.8,287.9 L1173.8,288.4 L1175.8,288.9 L1177.8,289.3 L1179.8,289.6 L1181.8,290.0 L1183.8,290.3 L1185.8,290.5 L1187.8,290.8 L1189.8,291.0 L1191.8,291.2 L1193.8,291.3 L1195.8,291.5 L1197.8,291.6 L1199.8,291.7 L1201.8,291.8 L1203.8,291.9 L1205.8,292.0 L1207.8,292.0 L1209.8,292.1 L1211.8,292.1 L1213.8,292.2 L1215.8,292.2 L1217.8,292.2 L1219.8,292.3 L1221.8,292.3 L1223.8,292.3 L1225.8,292.3 L1227.8,292.3 L1229.8,292.3 L1231.8,292.4 L1233.8,292.4 L1235.8,292.4 L1237.8,292.4 L1239.8,292.4 L1241.8,292.4 L1243.8,292.4 L1245.8,292.4 L1247.8,292.4 L1249.8,292.4 L1251.8,292.4 L1253.8,292.4 L1255.8,292.4 L1257.8,292.4 L1259.8,292.4 L1261.8,292.4 L1263.8,292.4 L1265.8,292.4 L1267.8,292.4 L1269.8,292.4 L1271.8,292.4 L1273.8,292.4 L1275.8,292.4 L1277.8,292.4 L1279.8,292.4 L1281.8,292.4 L1283.8,292.4 L1285.8,292.4 L1287.8,292.4 L1289.8,292.4 L1291.8,292.4 L1293.8,292.4 L1295.8,292.4 L1297.8,292.4 L1299.8,292.4 L1301.8,292.4 L1303.8,292.4 L1305.8,292.4 L1307.8,292.4 L1309.8,292.4 L1311.8,292.4 L1313.8,292.4 L1315.8,292.4 L1317.8,292.4 L1319.8,292.4 L1321.8,292.4 L1323.8,292.4 L1325.8,292.4 L1327.8,292.4 L1329.8,292.4 L1331.8,292.4 L1333.8,292.4 L1335.8,292.4 L1337.8,292.4 L1339.8,292.4 L1341.8,292.4 L1343.8,292.4 L1345.8,292.4 L1347.8,292.4 L1349.8,292.4 L1351.8,292.4 L1353.8,292.4 L1355.8,292.4 L1357.8,292.4 L1359.8,292.4 L1361.8,292.4 L1363.8,292.4 L1365.8,292.4 L1367.8,292.4 L1369.8,292.4 L1371.8,292.4 L1373.8,292.4 L1375.8,292.4 L1377.8,292.4 L1379.8,292.4 L1381.8,292.4 L1383.8,292.4 L1385.8,292.4 L1387.8,292.4 L1389.8,292.4 L1391.8,292.4 L1393.8,292.4 L1395.8,292.4 L1397.8,292.4 L1399.8,292.4 L1401.8,292.4 L1403.8,292.4 L1405.8,292.4 L1407.8,292.4 L1409.8,292.4 L1411.8,292.4 L1413.8,292.4 L1415.8,292.4 L1417.8,292.4 L1419.8,292.4 L1421.8,292.4 L1423.8,292.4 L1425.8,292.4 L1427.8,292.4 L1429.8,292.4 L1431.8,292.4 L1433.8,292.4 L1435.8,292.4 L1437.0,292.4" fill="none" stroke="#00B050" stroke-width="6" stroke-linecap="round" stroke-linejoin="round"/>
<path d="M845.8,292.2 L847.8,292.2 L849.8,292.2 L851.8,292.1 L853.8,292.1 L855.8,292.0 L857.8,292.0 L859.8,291.9 L861.8,291.8 L863.8,291.7 L865.8,291.6 L867.8,291.4 L869.8,291.3 L871.8,291.1 L873.8,290.9 L875.8,290.6 L877.8,290.4 L879.8,290.1 L881.8,289.7 L883.8,289.4 L885.8,288.9 L887.8,288.5 L889.8,287.9 L891.8,287.3 L893.8,286.7 L895.8,285.9 L897.8,285.1 L899.8,284.2 L901.8,283.3 L903.8,282.2 L905.8,281.0 L907.8,279.7 L909.8,278.3 L911.8,276.8 L913.8,275.2 L915.8,273.4 L917.8,271.5 L919.8,269.4 L921.8,267.2 L923.8,264.9 L925.8,262.4 L927.8,259.7 L929.8,256.9 L931.8,254.0 L933.8,250.9 L935.8,247.6 L937.8,244.2 L939.8,240.7 L941.8,237.0 L943.8,233.2 L945.8,229.3 L947.8,225.2 L949.8,221.1 L951.8,216.9 L953.8,212.6 L955.8,208.3 L957.8,203.9 L959.8,199.5 L961.8,195.1 L963.8,190.7 L965.8,186.4 L967.8,182.1 L969.8,177.9 L971.8,173.8 L973.8,169.9 L975.8,166.1 L977.8,162.4 L979.8,159.0 L981.8,155.8 L983.8,152.8 L985.8,150.1 L987.8,147.6 L989.8,145.5 L991.8,143.6 L993.8,142.1 L995.8,140.8 L997.8,140.0 L999.8,139.4 L1001.8,139.2 L1003.8,139.3 L1005.8,139.8 L1007.8,140.6 L1009.8,141.8 L1011.8,143.3 L1013.8,145.1 L1015.8,147.2 L1017.8,149.6 L1019.8,152.2 L1021.8,155.2 L1023.8,158.3 L1025.8,161.7 L1027.8,165.3 L1029.8,169.1 L1031.8,173.0 L1033.8,177.1 L1035.8,181.2 L1037.8,185.5 L1039.8,189.8 L1041.8,194.2 L1043.8,198.6 L1045.8,203.0 L1047.8,207.4 L1049.8,211.7 L1051.8,216.0 L1053.8,220.3 L1055.8,224.4 L1057.8,228.5 L1059.8,232.4 L1061.8,236.3 L1063.8,240.0 L1065.8,243.5 L1067.8,247.0 L1069.8,250.3 L1071.8,253.4 L1073.8,256.4 L1075.8,259.2 L1077.8,261.9 L1079.8,264.4 L1081.8,266.8 L1083.8,269.0 L1085.8,271.1 L1087.8,273.0 L1089.8,274.8 L1091.8,276.5 L1093.8,278.0 L1095.8,279.4 L1097.8,280.8 L1099.8,282.0 L1101.8,283.1 L1103.8,284.1 L1105.8,285.0 L1107.8,285.8 L1109.8,286.5 L1111.8,287.2 L1113.8,287.8 L1115.8,288.4 L1117.8,288.9 L1119.8,289.3 L1121.8,289.7 L1123.8,290.0 L1125.8,290.3 L1127.8,290.6 L1129.8,290.8 L1131.8,291.0 L1133.8,291.2 L1135.8,291.4 L1137.8,291.5 L1139.8,291.7 L1141.8,291.8 L1143.8,291.9 L1145.8,291.9 L1147.8,292.0 L1149.8,292.1 L1151.8,292.1 L1153.8,292.2 L1155.8,292.2 L1157.8,292.2 L1159.8,292.3 L1161.8,292.3 L1163.8,292.3 L1165.8,292.3 L1167.8,292.3 L1169.8,292.3 L1171.8,292.4 L1173.8,292.4 L1175.8,292.4 L1177.8,292.4 L1179.8,292.4 L1181.8,292.4 L1183.8,292.4 L1185.8,292.4 L1187.8,292.4 L1189.8,292.4 L1191.8,292.4 L1193.8,292.4 L1195.8,292.4 L1197.8,292.4 L1199.8,292.4 L1201.8,292.4 L1203.8,292.4 L1205.8,292.4 L1207.8,292.4 L1209.8,292.4 L1211.8,292.4 L1213.8,292.4 L1215.8,292.4 L1217.8,292.4 L1219.8,292.4 L1221.8,292.4 L1223.8,292.4 L1225.8,292.4 L1227.8,292.4 L1229.8,292.4 L1231.8,292.4 L1233.8,292.4 L1235.8,292.4 L1237.8,292.4 L1239.8,292.4 L1241.8,292.4 L1243.8,292.4 L1245.8,292.4 L1247.8,292.4 L1249.8,292.4 L1251.8,292.4 L1253.8,292.4 L1255.8,292.4 L1257.8,292.4 L1259.8,292.4 L1261.8,292.4 L1263.8,292.4 L1265.8,292.4 L1267.8,292.4 L1269.8,292.4 L1271.8,292.4 L1273.8,292.4 L1275.8,292.4 L1277.8,292.4 L1279.8,292.4 L1281.8,292.4 L1283.8,292.4 L1285.8,292.4 L1287.8,292.4 L1289.8,292.4 L1291.8,292.4 L1293.8,292.4 L1295.8,292.4 L1297.8,292.4 L1299.8,292.4 L1301.8,292.4 L1303.8,292.4 L1305.8,292.4 L1307.8,292.4 L1309.8,292.4 L1311.8,292.4 L1313.8,292.4 L1315.8,292.4 L1317.8,292.4 L1319.8,292.4 L1321.8,292.4 L1323.8,292.4 L1325.8,292.4 L1327.8,292.4 L1329.8,292.4 L1331.8,292.4 L1333.8,292.4 L1335.8,292.4 L1337.8,292.4 L1339.8,292.4 L1341.8,292.4 L1343.8,292.4 L1345.8,292.4 L1347.8,292.4 L1349.8,292.4 L1351.8,292.4 L1353.8,292.4 L1355.8,292.4 L1357.8,292.4 L1359.8,292.4 L1361.8,292.4 L1363.8,292.4 L1365.8,292.4 L1367.8,292.4 L1369.8,292.4 L1371.8,292.4 L1373.8,292.4 L1375.8,292.4 L1377.8,292.4 L1379.8,292.4 L1381.8,292.4 L1383.8,292.4 L1385.8,292.4 L1387.8,292.4 L1389.8,292.4 L1391.8,292.4 L1393.8,292.4 L1395.8,292.4 L1397.8,292.4 L1399.8,292.4 L1401.8,292.4 L1403.8,292.4 L1405.8,292.4 L1407.8,292.4 L1409.8,292.4 L1411.8,292.4 L1413.8,292.4 L1415.8,292.4 L1417.8,292.4 L1419.8,292.4 L1421.8,292.4 L1423.8,292.4 L1425.8,292.4 L1427.8,292.4 L1429.8,292.4 L1431.8,292.4 L1433.8,292.4 L1435.8,292.4 L1437.0,292.4" fill="none" stroke="#ED7D31" stroke-width="6" stroke-linecap="round" stroke-linejoin="round"/>
<path d="M737.0,292.4 L739.0,292.4 L741.0,292.4 L743.0,292.4 L745.0,292.4 L747.0,292.4 L749.0,292.4 L751.0,292.4 L753.0,292.4 L755.0,292.4 L757.0,292.4 L759.0,292.4 L761.0,292.4 L763.0,292.4 L765.0,292.4 L767.0,292.4 L769.0,292.4 L771.0,292.3 L773.0,292.3 L775.0,292.3 L777.0,292.3 L779.0,292.3 L781.0,292.3 L783.0,292.2 L785.0,292.2 L787.0,292.2 L789.0,292.1 L791.0,292.1 L793.0,292.1 L795.0,292.0 L797.0,291.9 L799.0,291.9 L801.0,291.8 L803.0,291.7 L805.0,291.6 L807.0,291.5 L809.0,291.3 L811.0,291.2 L813.0,291.0 L815.0,290.8 L817.0,290.6 L819.0,290.4 L821.0,290.1 L823.0,289.8 L825.0,289.5 L827.0,289.2 L829.0,288.8 L831.0,288.4 L833.0,287.9 L835.0,287.4 L837.0,286.9 L839.0,286.3 L841.0,285.7 L843.0,285.0 L845.0,284.3 L847.0,283.5 L849.0,282.7 L851.0,281.8 L853.0,280.9 L855.0,279.9 L857.0,278.9 L859.0,277.8 L861.0,276.7 L863.0,275.5 L865.0,274.3 L867.0,273.0 L869.0,271.7 L871.0,270.3 L873.0,268.9 L875.0,267.5 L877.0,266.1 L879.0,264.6 L881.0,263.1 L883.0,261.6 L885.0,260.1 L887.0,258.6 L889.0,257.1 L891.0,255.7 L893.0,254.2 L895.0,252.8 L897.0,251.4 L899.0,250.1 L901.0,248.8 L903.0,247.6 L905.0,246.5 L907.0,245.5 L909.0,244.5 L911.0,243.6 L913.0,242.8 L915.0,242.2 L917.0,241.6 L919.0,241.1 L921.0,240.8 L923.0,240.5 L925.0,240.4 L927.0,240.4 L929.0,240.5 L931.0,240.8 L933.0,241.1 L935.0,241.6 L937.0,242.2 L939.0,242.8 L941.0,243.6 L943.0,244.5 L945.0,245.5 L947.0,246.5 L949.0,247.6 L951.0,248.8 L953.0,250.1 L955.0,251.4 L957.0,252.8 L959.0,254.2 L961.0,255.7 L963.0,257.1 L965.0,258.6 L967.0,260.1 L969.0,261.6 L971.0,263.1 L973.0,264.6 L975.0,266.1 L977.0,267.5 L979.0,268.9 L981.0,270.3 L983.0,271.7 L985.0,273.0 L987.0,274.3 L989.0,275.5 L991.0,276.7 L993.0,277.8 L995.0,278.9 L997.0,279.9 L999.0,280.9 L1001.0,281.8 L1003.0,282.7 L1005.0,283.5 L1007.0,284.3 L1009.0,285.0 L1011.0,285.7 L1013.0,286.3 L1015.0,286.9 L1017.0,287.4 L1019.0,287.9 L1021.0,288.4 L1023.0,288.8 L1025.0,289.2 L1027.0,289.5 L1029.0,289.8 L1031.0,290.1 L1033.0,290.4 L1035.0,290.6 L1037.0,290.8 L1039.0,291.0 L1041.0,291.2 L1043.0,291.3 L1045.0,291.5 L1047.0,291.6 L1049.0,291.7 L1051.0,291.8 L1053.0,291.9 L1055.0,291.9 L1057.0,292.0 L1059.0,292.1 L1061.0,292.1 L1063.0,292.1 L1065.0,292.2 L1067.0,292.2 L1069.0,292.2 L1071.0,292.3 L1073.0,292.3 L1075.0,292.3 L1077.0,292.3 L1079.0,292.3 L1081.0,292.3 L1083.0,292.4 L1085.0,292.4 L1087.0,292.4 L1089.0,292.4 L1091.0,292.4 L1093.0,292.4 L1095.0,292.4 L1097.0,292.4 L1099.0,292.4 L1101.0,292.4 L1103.0,292.4 L1105.0,292.4 L1107.0,292.4 L1109.0,292.4 L1111.0,292.4 L1113.0,292.4 L1115.0,292.4 L1117.0,292.4 L1119.0,292.4 L1121.0,292.4 L1123.0,292.4 L1125.0,292.4 L1127.0,292.4 L1129.0,292.4 L1131.0,292.4 L1133.0,292.4 L1135.0,292.4 L1137.0,292.4 L1139.0,292.4 L1141.0,292.4 L1143.0,292.4 L1145.0,292.4 L1147.0,292.4 L1149.0,292.4 L1151.0,292.4 L1153.0,292.4 L1155.0,292.4 L1157.0,292.4 L1159.0,292.4 L1161.0,292.4 L1163.0,292.4 L1165.0,292.4 L1167.0,292.4 L1169.0,292.4 L1171.0,292.4 L1173.0,292.4 L1175.0,292.4 L1177.0,292.4 L1179.0,292.4 L1181.0,292.4 L1183.0,292.4 L1185.0,292.4 L1187.0,292.4 L1189.0,292.4 L1191.0,292.4 L1193.0,292.4 L1195.0,292.4 L1197.0,292.4 L1199.0,292.4 L1201.0,292.4 L1203.0,292.4 L1205.0,292.4 L1207.0,292.4 L1209.0,292.4 L1211.0,292.4 L1213.0,292.4 L1215.0,292.4 L1217.0,292.4 L1219.0,292.4 L1221.0,292.4 L1223.0,292.4 L1225.0,292.4 L1227.0,292.4 L1229.0,292.4 L1231.0,292.4 L1233.0,292.4 L1235.0,292.4 L1237.0,292.4 L1239.0,292.4 L1241.0,292.4 L1243.0,292.4 L1245.0,292.4 L1247.0,292.4 L1249.0,292.4 L1251.0,292.4 L1253.0,292.4 L1255.0,292.4 L1257.0,292.4 L1259.0,292.4 L1261.0,292.4 L1263.0,292.4 L1265.0,292.4 L1267.0,292.4 L1269.0,292.4 L1271.0,292.4 L1273.0,292.4 L1275.0,292.4 L1277.0,292.4 L1279.0,292.4 L1281.0,292.4 L1283.0,292.4 L1285.0,292.4 L1287.0,292.4 L1289.0,292.4 L1291.0,292.4 L1293.0,292.4 L1295.0,292.4 L1297.0,292.4 L1299.0,292.4 L1301.0,292.4 L1303.0,292.4 L1305.0,292.4 L1307.0,292.4 L1309.0,292.4 L1311.0,292.4 L1313.0,292.4 L1315.0,292.4 L1317.0,292.4 L1319.0,292.4 L1321.0,292.4 L1323.0,292.4 L1325.0,292.4 L1327.0,292.4 L1329.0,292.4 L1331.0,292.4 L1333.0,292.4 L1335.0,292.4 L1337.0,292.4 L1339.0,292.4 L1341.0,292.4 L1343.0,292.4 L1345.0,292.4 L1347.0,292.4 L1349.0,292.4 L1351.0,292.4 L1353.0,292.4 L1355.0,292.4 L1357.0,292.4 L1359.0,292.4 L1361.0,292.4 L1363.0,292.4 L1365.0,292.4 L1367.0,292.4 L1369.0,292.4 L1371.0,292.4 L1373.0,292.4 L1375.0,292.4 L1377.0,292.4 L1379.0,292.4 L1381.0,292.4 L1383.0,292.4 L1385.0,292.4 L1387.0,292.4 L1389.0,292.4 L1391.0,292.4 L1393.0,292.4 L1395.0,292.4 L1397.0,292.4 L1399.0,292.4 L1401.0,292.4 L1403.0,292.4 L1405.0,292.4 L1407.0,292.4 L1409.0,292.4 L1411.0,292.4 L1413.0,292.4 L1415.0,292.4 L1417.0,292.4 L1419.0,292.4 L1421.0,292.4 L1423.0,292.4 L1425.0,292.4 L1427.0,292.4 L1429.0,292.4 L1431.0,292.4 L1433.0,292.4 L1435.0,292.4 L1437.0,292.4" fill="none" stroke="#548235" stroke-width="6" stroke-linecap="round" stroke-linejoin="round"/>
<path d="M742.5,425.4 L745.5,424.6 L748.4,430.0 L751.4,423.0 L754.3,429.4 L757.3,424.7 L760.3,424.2 L763.2,423.1 L766.2,409.9 L769.1,421.3 L772.1,419.4 L775.1,417.8 L778.0,425.3 L781.0,417.2 L783.9,419.9 L786.9,418.4 L789.9,426.7 L792.8,426.9 L795.8,416.6 L798.7,417.8 L801.7,419.8 L804.7,417.8 L807.6,419.8 L810.6,429.7 L813.5,436.4 L816.5,435.1 L819.5,435.5 L822.4,435.7 L825.4,428.2 L828.3,425.0 L831.3,422.0 L834.3,420.9 L837.2,423.3 L840.2,423.0 L843.1,422.5 L846.1,427.0 L849.1,425.9 L852.0,422.7 L855.0,425.0 L857.9,424.6 L860.9,420.0 L863.9,412.9 L866.8,416.4 L869.8,420.6 L872.7,421.3 L875.7,415.5 L878.7,409.1 L881.6,427.7 L884.6,415.5 L887.5,410.7 L890.5,409.4 L893.5,413.7 L896.4,400.5 L899.4,402.5 L902.3,408.2 L905.3,408.9 L908.3,411.5 L911.2,408.4 L914.2,406.3 L917.1,400.8 L920.1,401.3 L923.1,401.1 L926.0,395.3 L929.0,392.4 L931.9,393.3 L934.9,396.2 L937.9,385.3 L940.8,389.9 L943.8,387.7 L946.7,379.3 L949.7,371.2 L952.7,367.3 L955.6,375.5 L958.6,361.4 L961.5,357.3 L964.5,364.9 L967.5,363.6 L970.4,361.9 L973.4,360.5 L976.3,362.5 L979.3,361.9 L982.3,353.3 L985.2,346.3 L988.2,340.2 L991.1,352.3 L994.1,356.8 L997.1,345.8 L1000.0,343.0 L1003.0,338.3 L1005.9,339.4 L1008.9,340.9 L1011.9,334.1 L1014.8,323.7 L1017.8,323.7 L1020.7,326.5 L1023.7,320.4 L1026.7,327.4 L1029.6,323.4 L1032.6,319.0 L1035.5,323.9 L1038.5,321.6 L1041.5,313.9 L1044.4,311.9 L1047.4,312.6 L1050.3,315.1 L1053.3,318.2 L1056.3,313.1 L1059.2,298.6 L1062.2,309.8 L1065.1,306.4 L1068.1,311.7 L1071.1,304.5 L1074.0,303.5 L1077.0,309.0 L1079.9,316.8 L1082.9,320.2 L1085.9,314.3 L1088.8,325.5 L1091.8,327.8 L1094.7,316.7 L1097.7,317.8 L1100.7,327.6 L1103.6,333.4 L1106.6,336.6 L1109.5,335.0 L1112.5,341.2 L1115.5,348.4 L1118.4,346.7 L1121.4,345.2 L1124.3,354.8 L1127.3,355.5 L1130.3,350.3 L1133.2,346.0 L1136.2,354.5 L1139.1,356.8 L1142.1,352.7 L1145.1,366.1 L1148.0,366.9 L1151.0,358.7 L1153.9,356.0 L1156.9,361.9 L1159.9,372.7 L1162.8,358.7 L1165.8,354.7 L1168.7,356.5 L1171.7,353.0 L1174.7,350.1 L1177.6,357.2 L1180.6,364.9 L1183.5,368.2 L1186.5,360.7 L1189.5,361.9 L1192.4,362.6 L1195.4,363.2 L1198.3,356.1 L1201.3,352.4 L1204.3,355.6 L1207.2,362.3 L1210.2,357.0 L1213.1,364.0 L1216.1,378.7 L1219.1,374.3 L1222.0,386.9 L1225.0,387.5 L1227.9,380.5 L1230.9,385.9 L1233.9,397.2 L1236.8,402.1 L1239.8,402.1 L1242.7,411.3 L1245.7,406.4 L1248.7,408.4 L1251.6,407.8 L1254.6,414.5 L1257.5,421.2 L1260.5,419.1 L1263.5,424.0 L1266.4,432.0 L1269.4,433.8 L1272.3,433.1 L1275.3,428.0 L1278.3,425.2 L1281.2,430.5 L1284.2,437.0 L1287.1,433.7 L1290.1,427.8 L1293.1,427.0 L1296.0,435.3 L1299.0,432.9 L1301.9,437.1 L1304.9,445.0 L1307.9,442.9 L1310.8,438.1 L1313.8,436.8 L1316.7,436.4 L1319.7,436.1 L1322.7,433.1 L1325.6,439.3 L1328.6,441.5 L1331.5,433.2 L1334.5,434.5 L1337.5,430.9 L1340.4,434.5 L1343.4,429.0 L1346.3,439.1 L1349.3,439.7 L1352.3,428.8 L1355.2,424.2 L1358.2,432.8 L1361.1,424.2 L1364.1,422.4 L1367.1,427.4 L1370.0,435.8 L1373.0,445.0 L1375.9,444.6 L1378.9,438.4 L1381.9,431.8 L1384.8,434.2 L1387.8,436.5 L1390.7,435.5 L1393.7,440.7 L1396.7,434.4 L1399.6,435.7 L1402.6,427.7 L1405.5,431.6 L1408.5,437.3 L1411.5,438.7 L1414.4,441.5 L1417.4,435.5 L1420.3,438.0 L1423.3,433.4 L1426.3,427.0 L1429.2,429.3 L1432.2,426.9 L1435.1,418.3" fill="none" stroke="#AFABAB" stroke-width="6.5" stroke-linecap="round" stroke-linejoin="round"/>
<path d="M737.0,436.0 L739.0,436.0 L741.0,436.0 L743.0,436.0 L745.0,436.0 L747.0,436.0 L749.0,436.0 L751.0,436.0 L753.0,436.0 L755.0,436.0 L757.0,436.0 L759.0,436.0 L761.0,436.0 L763.0,436.0 L765.0,436.0 L767.0,436.0 L769.0,436.0 L771.0,436.0 L773.0,436.0 L775.0,436.0 L777.0,436.0 L779.0,436.0 L781.0,436.0 L783.0,436.0 L785.0,436.0 L787.0,436.0 L789.0,436.0 L791.0,436.0 L793.0,436.0 L795.0,436.0 L797.0,436.0 L799.0,436.0 L801.0,436.0 L803.0,436.0 L805.0,436.0 L807.0,436.0 L809.0,436.0 L811.0,436.0 L813.0,436.0 L815.0,436.0 L817.0,436.0 L819.0,436.0 L821.0,436.0 L823.0,436.0 L825.0,436.0 L827.0,436.0 L829.0,436.0 L831.0,436.0 L833.0,436.0 L835.0,436.0 L837.0,436.0 L839.0,436.0 L841.0,436.0 L843.0,436.0 L845.0,436.0 L847.0,436.0 L849.0,436.0 L851.0,436.0 L853.0,436.0 L855.0,436.0 L857.0,436.0 L859.0,436.0 L861.0,436.0 L863.0,436.0 L865.0,436.0 L867.0,436.0 L869.0,436.0 L871.0,436.0 L873.0,436.0 L875.0,436.0 L877.0,436.0 L879.0,436.0 L881.0,436.0 L883.0,436.0 L885.0,436.0 L887.0,436.0 L889.0,436.0 L891.0,436.0 L893.0,436.0 L895.0,436.0 L897.0,436.0 L899.0,436.0 L901.0,436.0 L903.0,436.0 L905.0,436.0 L907.0,436.0 L909.0,436.0 L911.0,436.0 L913.0,436.0 L915.0,436.0 L917.0,436.0 L919.0,436.0 L921.0,436.0 L923.0,436.0 L925.0,436.0 L927.0,436.0 L929.0,436.0 L931.0,436.0 L933.0,436.0 L935.0,436.0 L937.0,436.0 L939.0,436.0 L941.0,436.0 L943.0,436.0 L945.0,436.0 L947.0,436.0 L949.0,436.0 L951.0,436.0 L953.0,436.0 L955.0,436.0 L957.0,436.0 L959.0,436.0 L961.0,436.0 L963.0,436.0 L965.0,436.0 L967.0,436.0 L969.0,436.0 L971.0,436.0 L973.0,436.0 L975.0,436.0 L977.0,436.0 L979.0,436.0 L981.0,436.0 L983.0,436.0 L985.0,436.0 L987.0,436.0 L989.0,436.0 L991.0,436.0 L993.0,436.0 L995.0,436.0 L997.0,436.0 L999.0,436.0 L1001.0,436.0 L1003.0,436.0 L1005.0,436.0 L1007.0,436.0 L1009.0,436.0 L1011.0,436.0 L1013.0,436.0 L1015.0,436.0 L1017.0,436.0 L1019.0,436.0 L1021.0,436.0 L1023.0,436.0 L1025.0,436.0 L1027.0,436.0 L1029.0,436.0 L1031.0,436.0 L1033.0,436.0 L1035.0,436.0 L1037.0,436.0 L1039.0,436.0 L1041.0,436.0 L1043.0,436.0 L1045.0,436.0 L1047.0,436.0 L1049.0,436.0 L1051.0,436.0 L1053.0,436.0 L1055.0,436.0 L1057.0,436.0 L1059.0,436.0 L1061.0,436.0 L1063.0,436.0 L1065.0,436.0 L1067.0,436.0 L1069.0,436.0 L1071.0,436.0 L1073.0,436.0 L1075.0,436.0 L1077.0,436.0 L1079.0,436.0 L1081.0,436.0 L1083.0,436.0 L1085.0,436.0 L1087.0,436.0 L1089.0,435.9 L1091.0,435.9 L1093.0,435.9 L1095.0,435.9 L1097.0,435.9 L1099.0,435.8 L1101.0,435.8 L1103.0,435.7 L1105.0,435.7 L1107.0,435.6 L1109.0,435.5 L1111.0,435.4 L1113.0,435.3 L1115.0,435.1 L1117.0,435.0 L1119.0,434.8 L1121.0,434.5 L1123.0,434.3 L1125.0,434.0 L1127.0,433.6 L1129.0,433.2 L1131.0,432.7 L1133.0,432.2 L1135.0,431.6 L1137.0,430.9 L1139.0,430.2 L1141.0,429.3 L1143.0,428.4 L1145.0,427.4 L1147.0,426.3 L1149.0,425.1 L1151.0,423.7 L1153.0,422.3 L1155.0,420.8 L1157.0,419.1 L1159.0,417.3 L1161.0,415.5 L1163.0,413.5 L1165.0,411.5 L1167.0,409.4 L1169.0,407.2 L1171.0,404.9 L1173.0,402.6 L1175.0,400.3 L1177.0,397.9 L1179.0,395.6 L1181.0,393.3 L1183.0,391.0 L1185.0,388.8 L1187.0,386.6 L1189.0,384.6 L1191.0,382.7 L1193.0,380.9 L1195.0,379.4 L1197.0,377.9 L1199.0,376.7 L1201.0,375.7 L1203.0,374.9 L1205.0,374.4 L1207.0,374.1 L1209.0,374.0 L1211.0,374.2 L1213.0,374.6 L1215.0,375.2 L1217.0,376.1 L1219.0,377.2 L1221.0,378.5 L1223.0,380.0 L1225.0,381.6 L1227.0,383.4 L1229.0,385.4 L1231.0,387.5 L1233.0,389.6 L1235.0,391.9 L1237.0,394.2 L1239.0,396.5 L1241.0,398.9 L1243.0,401.2 L1245.0,403.5 L1247.0,405.8 L1249.0,408.1 L1251.0,410.2 L1253.0,412.3 L1255.0,414.3 L1257.0,416.2 L1259.0,418.1 L1261.0,419.8 L1263.0,421.4 L1265.0,422.9 L1267.0,424.3 L1269.0,425.6 L1271.0,426.7 L1273.0,427.8 L1275.0,428.8 L1277.0,429.7 L1279.0,430.5 L1281.0,431.2 L1283.0,431.8 L1285.0,432.4 L1287.0,432.9 L1289.0,433.4 L1291.0,433.7 L1293.0,434.1 L1295.0,434.4 L1297.0,434.6 L1299.0,434.9 L1301.0,435.0 L1303.0,435.2 L1305.0,435.3 L1307.0,435.5 L1309.0,435.5 L1311.0,435.6 L1313.0,435.7 L1315.0,435.8 L1317.0,435.8 L1319.0,435.8 L1321.0,435.9 L1323.0,435.9 L1325.0,435.9 L1327.0,435.9 L1329.0,435.9 L1331.0,436.0 L1333.0,436.0 L1335.0,436.0 L1337.0,436.0 L1339.0,436.0 L1341.0,436.0 L1343.0,436.0 L1345.0,436.0 L1347.0,436.0 L1349.0,436.0 L1351.0,436.0 L1353.0,436.0 L1355.0,436.0 L1357.0,436.0 L1359.0,436.0 L1361.0,436.0 L1363.0,436.0 L1365.0,436.0 L1367.0,436.0 L1369.0,436.0 L1371.0,436.0 L1373.0,436.0 L1375.0,436.0 L1377.0,436.0 L1379.0,436.0 L1381.0,436.0 L1383.0,436.0 L1385.0,436.0 L1387.0,436.0 L1389.0,436.0 L1391.0,436.0 L1393.0,436.0 L1395.0,436.0 L1397.0,436.0 L1399.0,436.0 L1401.0,436.0 L1403.0,436.0 L1405.0,436.0 L1407.0,436.0 L1409.0,436.0 L1411.0,436.0 L1413.0,436.0 L1415.0,436.0 L1417.0,436.0 L1419.0,436.0 L1421.0,436.0 L1423.0,436.0 L1425.0,436.0 L1427.0,436.0 L1429.0,436.0 L1431.0,436.0 L1433.0,436.0 L1435.0,436.0 L1437.0,436.0" fill="none" stroke="#000" stroke-width="6" stroke-linecap="round" stroke-linejoin="round"/>
<path d="M737.0,436.0 L739.0,436.0 L741.0,436.0 L743.0,436.0 L745.0,436.0 L747.0,436.0 L749.0,436.0 L751.0,436.0 L753.0,436.0 L755.0,436.0 L757.0,436.0 L759.0,436.0 L761.0,436.0 L763.0,436.0 L765.0,436.0 L767.0,436.0 L769.0,436.0 L771.0,436.0 L773.0,436.0 L775.0,436.0 L777.0,436.0 L779.0,436.0 L781.0,436.0 L783.0,436.0 L785.0,436.0 L787.0,436.0 L789.0,436.0 L791.0,436.0 L793.0,436.0 L795.0,436.0 L797.0,436.0 L799.0,436.0 L801.0,436.0 L803.0,436.0 L805.0,436.0 L807.0,436.0 L809.0,436.0 L811.0,436.0 L813.0,436.0 L815.0,436.0 L817.0,436.0 L819.0,436.0 L821.0,436.0 L823.0,436.0 L825.0,436.0 L827.0,436.0 L829.0,436.0 L831.0,436.0 L833.0,436.0 L835.0,436.0 L837.0,436.0 L839.0,436.0 L841.0,436.0 L843.0,436.0 L845.0,436.0 L847.0,436.0 L849.0,436.0 L851.0,436.0 L853.0,436.0 L855.0,436.0 L857.0,436.0 L859.0,436.0 L861.0,436.0 L863.0,436.0 L865.0,436.0 L867.0,436.0 L869.0,436.0 L871.0,436.0 L873.0,436.0 L875.0,436.0 L877.0,436.0 L879.0,436.0 L881.0,436.0 L883.0,436.0 L885.0,436.0 L887.0,436.0 L889.0,436.0 L891.0,436.0 L893.0,436.0 L895.0,436.0 L897.0,436.0 L899.0,436.0 L901.0,436.0 L903.0,436.0 L905.0,436.0 L907.0,436.0 L909.0,436.0 L911.0,436.0 L913.0,436.0 L915.0,436.0 L917.0,436.0 L919.0,436.0 L921.0,436.0 L923.0,436.0 L925.0,436.0 L927.0,436.0 L929.0,436.0 L931.0,436.0 L933.0,436.0 L935.0,436.0 L937.0,436.0 L939.0,436.0 L941.0,436.0 L943.0,436.0 L945.0,436.0 L947.0,436.0 L949.0,436.0 L951.0,436.0 L953.0,436.0 L955.0,436.0 L957.0,436.0 L959.0,436.0 L961.0,436.0 L963.0,436.0 L965.0,436.0 L967.0,436.0 L969.0,436.0 L971.0,436.0 L973.0,436.0 L975.0,436.0 L977.0,436.0 L979.0,436.0 L981.0,436.0 L983.0,436.0 L985.0,436.0 L987.0,436.0 L989.0,436.0 L991.0,436.0 L993.0,436.0 L995.0,436.0 L997.0,436.0 L999.0,436.0 L1001.0,436.0 L1003.0,436.0 L1005.0,436.0 L1007.0,436.0 L1009.0,436.0 L1011.0,436.0 L1013.0,436.0 L1015.0,436.0 L1017.0,436.0 L1019.0,436.0 L1021.0,436.0 L1023.0,436.0 L1025.0,435.9 L1027.0,435.9 L1029.0,435.9 L1031.0,435.9 L1033.0,435.9 L1035.0,435.8 L1037.0,435.8 L1039.0,435.8 L1041.0,435.7 L1043.0,435.7 L1045.0,435.6 L1047.0,435.5 L1049.0,435.4 L1051.0,435.3 L1053.0,435.2 L1055.0,435.0 L1057.0,434.9 L1059.0,434.7 L1061.0,434.5 L1063.0,434.2 L1065.0,434.0 L1067.0,433.7 L1069.0,433.3 L1071.0,432.9 L1073.0,432.5 L1075.0,432.0 L1077.0,431.5 L1079.0,430.9 L1081.0,430.3 L1083.0,429.6 L1085.0,428.9 L1087.0,428.1 L1089.0,427.3 L1091.0,426.4 L1093.0,425.4 L1095.0,424.4 L1097.0,423.3 L1099.0,422.1 L1101.0,421.0 L1103.0,419.7 L1105.0,418.5 L1107.0,417.2 L1109.0,415.9 L1111.0,414.5 L1113.0,413.2 L1115.0,411.8 L1117.0,410.5 L1119.0,409.1 L1121.0,407.8 L1123.0,406.6 L1125.0,405.4 L1127.0,404.2 L1129.0,403.1 L1131.0,402.1 L1133.0,401.2 L1135.0,400.4 L1137.0,399.7 L1139.0,399.1 L1141.0,398.6 L1143.0,398.3 L1145.0,398.1 L1147.0,398.0 L1149.0,398.0 L1151.0,398.2 L1153.0,398.5 L1155.0,399.0 L1157.0,399.5 L1159.0,400.2 L1161.0,401.0 L1163.0,401.8 L1165.0,402.8 L1167.0,403.9 L1169.0,405.0 L1171.0,406.2 L1173.0,407.4 L1175.0,408.7 L1177.0,410.1 L1179.0,411.4 L1181.0,412.7 L1183.0,414.1 L1185.0,415.5 L1187.0,416.8 L1189.0,418.1 L1191.0,419.4 L1193.0,420.6 L1195.0,421.8 L1197.0,422.9 L1199.0,424.0 L1201.0,425.1 L1203.0,426.1 L1205.0,427.0 L1207.0,427.9 L1209.0,428.7 L1211.0,429.4 L1213.0,430.1 L1215.0,430.8 L1217.0,431.4 L1219.0,431.9 L1221.0,432.4 L1223.0,432.8 L1225.0,433.2 L1227.0,433.6 L1229.0,433.9 L1231.0,434.2 L1233.0,434.4 L1235.0,434.6 L1237.0,434.8 L1239.0,435.0 L1241.0,435.1 L1243.0,435.3 L1245.0,435.4 L1247.0,435.5 L1249.0,435.6 L1251.0,435.6 L1253.0,435.7 L1255.0,435.7 L1257.0,435.8 L1259.0,435.8 L1261.0,435.9 L1263.0,435.9 L1265.0,435.9 L1267.0,435.9 L1269.0,435.9 L1271.0,435.9 L1273.0,436.0 L1275.0,436.0 L1277.0,436.0 L1279.0,436.0 L1281.0,436.0 L1283.0,436.0 L1285.0,436.0 L1287.0,436.0 L1289.0,436.0 L1291.0,436.0 L1293.0,436.0 L1295.0,436.0 L1297.0,436.0 L1299.0,436.0 L1301.0,436.0 L1303.0,436.0 L1305.0,436.0 L1307.0,436.0 L1309.0,436.0 L1311.0,436.0 L1313.0,436.0 L1315.0,436.0 L1317.0,436.0 L1319.0,436.0 L1321.0,436.0 L1323.0,436.0 L1325.0,436.0 L1327.0,436.0 L1329.0,436.0 L1331.0,436.0 L1333.0,436.0 L1335.0,436.0 L1337.0,436.0 L1339.0,436.0 L1341.0,436.0 L1343.0,436.0 L1345.0,436.0 L1347.0,436.0 L1349.0,436.0 L1351.0,436.0 L1353.0,436.0 L1355.0,436.0 L1357.0,436.0 L1359.0,436.0 L1361.0,436.0 L1363.0,436.0 L1365.0,436.0 L1367.0,436.0 L1369.0,436.0 L1371.0,436.0 L1373.0,436.0 L1375.0,436.0 L1377.0,436.0 L1379.0,436.0 L1381.0,436.0 L1383.0,436.0 L1385.0,436.0 L1387.0,436.0 L1389.0,436.0 L1391.0,436.0 L1393.0,436.0 L1395.0,436.0 L1397.0,436.0 L1399.0,436.0 L1401.0,436.0 L1403.0,436.0 L1405.0,436.0 L1407.0,436.0 L1409.0,436.0 L1411.0,436.0 L1413.0,436.0 L1415.0,436.0 L1417.0,436.0 L1419.0,436.0 L1421.0,436.0 L1423.0,436.0 L1425.0,436.0 L1427.0,436.0 L1429.0,436.0 L1431.0,436.0 L1433.0,436.0 L1435.0,436.0 L1437.0,436.0" fill="none" stroke="#00B050" stroke-width="6" stroke-linecap="round" stroke-linejoin="round"/>
<path d="M737.0,436.0 L739.0,436.0 L741.0,436.0 L743.0,436.0 L745.0,436.0 L747.0,436.0 L749.0,436.0 L751.0,436.0 L753.0,436.0 L755.0,436.0 L757.0,436.0 L759.0,436.0 L761.0,436.0 L763.0,436.0 L765.0,436.0 L767.0,436.0 L769.0,436.0 L771.0,436.0 L773.0,436.0 L775.0,436.0 L777.0,436.0 L779.0,436.0 L781.0,436.0 L783.0,436.0 L785.0,436.0 L787.0,436.0 L789.0,436.0 L791.0,436.0 L793.0,436.0 L795.0,436.0 L797.0,436.0 L799.0,436.0 L801.0,436.0 L803.0,436.0 L805.0,436.0 L807.0,436.0 L809.0,436.0 L811.0,436.0 L813.0,436.0 L815.0,436.0 L817.0,436.0 L819.0,436.0 L821.0,436.0 L823.0,436.0 L825.0,436.0 L827.0,436.0 L829.0,436.0 L831.0,436.0 L833.0,436.0 L835.0,436.0 L837.0,436.0 L839.0,436.0 L841.0,436.0 L843.0,436.0 L845.0,436.0 L847.0,436.0 L849.0,436.0 L851.0,436.0 L853.0,436.0 L855.0,436.0 L857.0,436.0 L859.0,436.0 L861.0,436.0 L863.0,436.0 L865.0,436.0 L867.0,436.0 L869.0,436.0 L871.0,436.0 L873.0,436.0 L875.0,436.0 L877.0,436.0 L879.0,436.0 L881.0,436.0 L883.0,436.0 L885.0,436.0 L887.0,436.0 L889.0,436.0 L891.0,436.0 L893.0,436.0 L895.0,436.0 L897.0,436.0 L899.0,436.0 L901.0,436.0 L903.0,436.0 L905.0,436.0 L907.0,436.0 L909.0,436.0 L911.0,436.0 L913.0,436.0 L915.0,436.0 L917.0,436.0 L919.0,436.0 L921.0,436.0 L923.0,436.0 L925.0,436.0 L927.0,436.0 L929.0,436.0 L931.0,436.0 L933.0,436.0 L935.0,436.0 L937.0,436.0 L939.0,436.0 L941.0,436.0 L943.0,436.0 L945.0,436.0 L947.0,436.0 L949.0,436.0 L951.0,436.0 L953.0,436.0 L955.0,436.0 L957.0,436.0 L959.0,436.0 L961.0,436.0 L963.0,436.0 L965.0,436.0 L967.0,436.0 L969.0,436.0 L971.0,436.0 L973.0,436.0 L975.0,436.0 L977.0,436.0 L979.0,436.0 L981.0,435.9 L983.0,435.9 L985.0,435.9 L987.0,435.9 L989.0,435.9 L991.0,435.8 L993.0,435.8 L995.0,435.7 L997.0,435.7 L999.0,435.6 L1001.0,435.5 L1003.0,435.4 L1005.0,435.3 L1007.0,435.2 L1009.0,435.0 L1011.0,434.8 L1013.0,434.6 L1015.0,434.3 L1017.0,434.0 L1019.0,433.7 L1021.0,433.3 L1023.0,432.9 L1025.0,432.4 L1027.0,431.8 L1029.0,431.2 L1031.0,430.5 L1033.0,429.7 L1035.0,428.9 L1037.0,427.9 L1039.0,426.9 L1041.0,425.7 L1043.0,424.5 L1045.0,423.1 L1047.0,421.7 L1049.0,420.1 L1051.0,418.5 L1053.0,416.7 L1055.0,414.8 L1057.0,412.9 L1059.0,410.8 L1061.0,408.7 L1063.0,406.5 L1065.0,404.3 L1067.0,402.0 L1069.0,399.6 L1071.0,397.3 L1073.0,394.9 L1075.0,392.6 L1077.0,390.3 L1079.0,388.1 L1081.0,385.9 L1083.0,383.8 L1085.0,381.9 L1087.0,380.0 L1089.0,378.4 L1091.0,376.8 L1093.0,375.5 L1095.0,374.4 L1097.0,373.5 L1099.0,372.8 L1101.0,372.3 L1103.0,372.0 L1105.0,372.0 L1107.0,372.2 L1109.0,372.7 L1111.0,373.4 L1113.0,374.3 L1115.0,375.4 L1117.0,376.7 L1119.0,378.2 L1121.0,379.9 L1123.0,381.7 L1125.0,383.6 L1127.0,385.7 L1129.0,387.9 L1131.0,390.1 L1133.0,392.4 L1135.0,394.7 L1137.0,397.1 L1139.0,399.4 L1141.0,401.7 L1143.0,404.1 L1145.0,406.3 L1147.0,408.5 L1149.0,410.6 L1151.0,412.7 L1153.0,414.7 L1155.0,416.5 L1157.0,418.3 L1159.0,420.0 L1161.0,421.5 L1163.0,423.0 L1165.0,424.3 L1167.0,425.6 L1169.0,426.7 L1171.0,427.8 L1173.0,428.8 L1175.0,429.6 L1177.0,430.4 L1179.0,431.1 L1181.0,431.8 L1183.0,432.3 L1185.0,432.8 L1187.0,433.3 L1189.0,433.7 L1191.0,434.0 L1193.0,434.3 L1195.0,434.6 L1197.0,434.8 L1199.0,435.0 L1201.0,435.1 L1203.0,435.3 L1205.0,435.4 L1207.0,435.5 L1209.0,435.6 L1211.0,435.7 L1213.0,435.7 L1215.0,435.8 L1217.0,435.8 L1219.0,435.9 L1221.0,435.9 L1223.0,435.9 L1225.0,435.9 L1227.0,435.9 L1229.0,436.0 L1231.0,436.0 L1233.0,436.0 L1235.0,436.0 L1237.0,436.0 L1239.0,436.0 L1241.0,436.0 L1243.0,436.0 L1245.0,436.0 L1247.0,436.0 L1249.0,436.0 L1251.0,436.0 L1253.0,436.0 L1255.0,436.0 L1257.0,436.0 L1259.0,436.0 L1261.0,436.0 L1263.0,436.0 L1265.0,436.0 L1267.0,436.0 L1269.0,436.0 L1271.0,436.0 L1273.0,436.0 L1275.0,436.0 L1277.0,436.0 L1279.0,436.0 L1281.0,436.0 L1283.0,436.0 L1285.0,436.0 L1287.0,436.0 L1289.0,436.0 L1291.0,436.0 L1293.0,436.0 L1295.0,436.0 L1297.0,436.0 L1299.0,436.0 L1301.0,436.0 L1303.0,436.0 L1305.0,436.0 L1307.0,436.0 L1309.0,436.0 L1311.0,436.0 L1313.0,436.0 L1315.0,436.0 L1317.0,436.0 L1319.0,436.0 L1321.0,436.0 L1323.0,436.0 L1325.0,436.0 L1327.0,436.0 L1329.0,436.0 L1331.0,436.0 L1333.0,436.0 L1335.0,436.0 L1337.0,436.0 L1339.0,436.0 L1341.0,436.0 L1343.0,436.0 L1345.0,436.0 L1347.0,436.0 L1349.0,436.0 L1351.0,436.0 L1353.0,436.0 L1355.0,436.0 L1357.0,436.0 L1359.0,436.0 L1361.0,436.0 L1363.0,436.0 L1365.0,436.0 L1367.0,436.0 L1369.0,436.0 L1371.0,436.0 L1373.0,436.0 L1375.0,436.0 L1377.0,436.0 L1379.0,436.0 L1381.0,436.0 L1383.0,436.0 L1385.0,436.0 L1387.0,436.0 L1389.0,436.0 L1391.0,436.0 L1393.0,436.0 L1395.0,436.0 L1397.0,436.0 L1399.0,436.0 L1401.0,436.0 L1403.0,436.0 L1405.0,436.0 L1407.0,436.0 L1409.0,436.0 L1411.0,436.0 L1413.0,436.0 L1415.0,436.0 L1417.0,436.0 L1419.0,436.0 L1421.0,436.0 L1423.0,436.0 L1425.0,436.0 L1427.0,436.0 L1429.0,436.0 L1431.0,436.0 L1433.0,436.0 L1435.0,436.0 L1437.0,436.0" fill="none" stroke="#ED7D31" stroke-width="6" stroke-linecap="round" stroke-linejoin="round"/>
<path d="M737.0,436.0 L739.0,436.0 L741.0,436.0 L743.0,436.0 L745.0,436.0 L747.0,436.0 L749.0,436.0 L751.0,436.0 L753.0,436.0 L755.0,436.0 L757.0,436.0 L759.0,436.0 L761.0,436.0 L763.0,436.0 L765.0,436.0 L767.0,436.0 L769.0,436.0 L771.0,436.0 L773.0,436.0 L775.0,436.0 L777.0,436.0 L779.0,436.0 L781.0,436.0 L783.0,436.0 L785.0,436.0 L787.0,436.0 L789.0,436.0 L791.0,436.0 L793.0,436.0 L795.0,436.0 L797.0,436.0 L799.0,436.0 L801.0,436.0 L803.0,436.0 L805.0,436.0 L807.0,436.0 L809.0,436.0 L811.0,436.0 L813.0,436.0 L815.0,436.0 L817.0,436.0 L819.0,436.0 L821.0,436.0 L823.0,436.0 L825.0,436.0 L827.0,436.0 L829.0,436.0 L831.0,436.0 L833.0,436.0 L835.0,436.0 L837.0,436.0 L839.0,436.0 L841.0,436.0 L843.0,436.0 L845.0,436.0 L847.0,436.0 L849.0,436.0 L851.0,436.0 L853.0,436.0 L855.0,436.0 L857.0,436.0 L859.0,436.0 L861.0,436.0 L863.0,436.0 L865.0,436.0 L867.0,436.0 L869.0,436.0 L871.0,436.0 L873.0,436.0 L875.0,436.0 L877.0,436.0 L879.0,436.0 L881.0,436.0 L883.0,436.0 L885.0,436.0 L887.0,436.0 L889.0,436.0 L891.0,436.0 L893.0,436.0 L895.0,436.0 L897.0,436.0 L899.0,436.0 L901.0,436.0 L903.0,436.0 L905.0,435.9 L907.0,435.9 L909.0,435.9 L911.0,435.9 L913.0,435.9 L915.0,435.9 L917.0,435.8 L919.0,435.8 L921.0,435.7 L923.0,435.7 L925.0,435.6 L927.0,435.5 L929.0,435.5 L931.0,435.3 L933.0,435.2 L935.0,435.1 L937.0,434.9 L939.0,434.7 L941.0,434.5 L943.0,434.2 L945.0,433.9 L947.0,433.6 L949.0,433.2 L951.0,432.7 L953.0,432.2 L955.0,431.7 L957.0,431.0 L959.0,430.3 L961.0,429.5 L963.0,428.6 L965.0,427.6 L967.0,426.5 L969.0,425.3 L971.0,424.0 L973.0,422.5 L975.0,420.9 L977.0,419.2 L979.0,417.4 L981.0,415.4 L983.0,413.3 L985.0,411.0 L987.0,408.6 L989.0,406.1 L991.0,403.4 L993.0,400.6 L995.0,397.7 L997.0,394.6 L999.0,391.5 L1001.0,388.3 L1003.0,384.9 L1005.0,381.6 L1007.0,378.1 L1009.0,374.7 L1011.0,371.2 L1013.0,367.8 L1015.0,364.4 L1017.0,361.1 L1019.0,357.8 L1021.0,354.7 L1023.0,351.7 L1025.0,348.8 L1027.0,346.2 L1029.0,343.7 L1031.0,341.5 L1033.0,339.5 L1035.0,337.8 L1037.0,336.3 L1039.0,335.2 L1041.0,334.3 L1043.0,333.7 L1045.0,333.5 L1047.0,333.6 L1049.0,334.0 L1051.0,334.7 L1053.0,335.7 L1055.0,337.0 L1057.0,338.6 L1059.0,340.5 L1061.0,342.6 L1063.0,344.9 L1065.0,347.5 L1067.0,350.2 L1069.0,353.2 L1071.0,356.2 L1073.0,359.4 L1075.0,362.7 L1077.0,366.1 L1079.0,369.5 L1081.0,373.0 L1083.0,376.4 L1085.0,379.9 L1087.0,383.3 L1089.0,386.6 L1091.0,389.9 L1093.0,393.1 L1095.0,396.2 L1097.0,399.2 L1099.0,402.0 L1101.0,404.8 L1103.0,407.4 L1105.0,409.8 L1107.0,412.2 L1109.0,414.4 L1111.0,416.4 L1113.0,418.3 L1115.0,420.1 L1117.0,421.7 L1119.0,423.2 L1121.0,424.6 L1123.0,425.9 L1125.0,427.1 L1127.0,428.1 L1129.0,429.0 L1131.0,429.9 L1133.0,430.7 L1135.0,431.3 L1137.0,431.9 L1139.0,432.5 L1141.0,433.0 L1143.0,433.4 L1145.0,433.8 L1147.0,434.1 L1149.0,434.4 L1151.0,434.6 L1153.0,434.8 L1155.0,435.0 L1157.0,435.2 L1159.0,435.3 L1161.0,435.4 L1163.0,435.5 L1165.0,435.6 L1167.0,435.7 L1169.0,435.7 L1171.0,435.8 L1173.0,435.8 L1175.0,435.8 L1177.0,435.9 L1179.0,435.9 L1181.0,435.9 L1183.0,435.9 L1185.0,435.9 L1187.0,436.0 L1189.0,436.0 L1191.0,436.0 L1193.0,436.0 L1195.0,436.0 L1197.0,436.0 L1199.0,436.0 L1201.0,436.0 L1203.0,436.0 L1205.0,436.0 L1207.0,436.0 L1209.0,436.0 L1211.0,436.0 L1213.0,436.0 L1215.0,436.0 L1217.0,436.0 L1219.0,436.0 L1221.0,436.0 L1223.0,436.0 L1225.0,436.0 L1227.0,436.0 L1229.0,436.0 L1231.0,436.0 L1233.0,436.0 L1235.0,436.0 L1237.0,436.0 L1239.0,436.0 L1241.0,436.0 L1243.0,436.0 L1245.0,436.0 L1247.0,436.0 L1249.0,436.0 L1251.0,436.0 L1253.0,436.0 L1255.0,436.0 L1257.0,436.0 L1259.0,436.0 L1261.0,436.0 L1263.0,436.0 L1265.0,436.0 L1267.0,436.0 L1269.0,436.0 L1271.0,436.0 L1273.0,436.0 L1275.0,436.0 L1277.0,436.0 L1279.0,436.0 L1281.0,436.0 L1283.0,436.0 L1285.0,436.0 L1287.0,436.0 L1289.0,436.0 L1291.0,436.0 L1293.0,436.0 L1295.0,436.0 L1297.0,436.0 L1299.0,436.0 L1301.0,436.0 L1303.0,436.0 L1305.0,436.0 L1307.0,436.0 L1309.0,436.0 L1311.0,436.0 L1313.0,436.0 L1315.0,436.0 L1317.0,436.0 L1319.0,436.0 L1321.0,436.0 L1323.0,436.0 L1325.0,436.0 L1327.0,436.0 L1329.0,436.0 L1331.0,436.0 L1333.0,436.0 L1335.0,436.0 L1337.0,436.0 L1339.0,436.0 L1341.0,436.0 L1343.0,436.0 L1345.0,436.0 L1347.0,436.0 L1349.0,436.0 L1351.0,436.0 L1353.0,436.0 L1355.0,436.0 L1357.0,436.0 L1359.0,436.0 L1361.0,436.0 L1363.0,436.0 L1365.0,436.0 L1367.0,436.0 L1369.0,436.0 L1371.0,436.0 L1373.0,436.0 L1375.0,436.0 L1377.0,436.0 L1379.0,436.0 L1381.0,436.0 L1383.0,436.0 L1385.0,436.0 L1387.0,436.0 L1389.0,436.0 L1391.0,436.0 L1393.0,436.0 L1395.0,436.0 L1397.0,436.0 L1399.0,436.0 L1401.0,436.0 L1403.0,436.0 L1405.0,436.0 L1407.0,436.0 L1409.0,436.0 L1411.0,436.0 L1413.0,436.0 L1415.0,436.0 L1417.0,436.0 L1419.0,436.0 L1421.0,436.0 L1423.0,436.0 L1425.0,436.0 L1427.0,436.0 L1429.0,436.0 L1431.0,436.0 L1433.0,436.0 L1435.0,436.0 L1437.0,436.0" fill="none" stroke="#C69500" stroke-width="6" stroke-linecap="round" stroke-linejoin="round"/>
<path d="M737.0,436.0 L739.0,436.0 L741.0,436.0 L743.0,436.0 L745.0,436.0 L747.0,436.0 L749.0,436.0 L751.0,436.0 L753.0,436.0 L755.0,436.0 L757.0,436.0 L759.0,436.0 L761.0,436.0 L763.0,436.0 L765.0,436.0 L767.0,436.0 L769.0,436.0 L771.0,436.0 L773.0,436.0 L775.0,436.0 L777.0,436.0 L779.0,436.0 L781.0,436.0 L783.0,436.0 L785.0,436.0 L787.0,436.0 L789.0,436.0 L791.0,436.0 L793.0,436.0 L795.0,436.0 L797.0,436.0 L799.0,436.0 L801.0,436.0 L803.0,436.0 L805.0,436.0 L807.0,436.0 L809.0,436.0 L811.0,436.0 L813.0,436.0 L815.0,436.0 L817.0,436.0 L819.0,436.0 L821.0,436.0 L823.0,436.0 L825.0,436.0 L827.0,436.0 L829.0,436.0 L831.0,436.0 L833.0,436.0 L835.0,436.0 L837.0,436.0 L839.0,435.9 L841.0,435.9 L843.0,435.9 L845.0,435.9 L847.0,435.9 L849.0,435.8 L851.0,435.8 L853.0,435.8 L855.0,435.7 L857.0,435.6 L859.0,435.6 L861.0,435.5 L863.0,435.4 L865.0,435.3 L867.0,435.1 L869.0,435.0 L871.0,434.8 L873.0,434.6 L875.0,434.4 L877.0,434.1 L879.0,433.8 L881.0,433.5 L883.0,433.1 L885.0,432.6 L887.0,432.1 L889.0,431.6 L891.0,431.0 L893.0,430.3 L895.0,429.5 L897.0,428.7 L899.0,427.8 L901.0,426.8 L903.0,425.7 L905.0,424.5 L907.0,423.3 L909.0,421.9 L911.0,420.5 L913.0,418.9 L915.0,417.3 L917.0,415.5 L919.0,413.7 L921.0,411.8 L923.0,409.8 L925.0,407.7 L927.0,405.5 L929.0,403.3 L931.0,401.1 L933.0,398.8 L935.0,396.5 L937.0,394.2 L939.0,391.9 L941.0,389.6 L943.0,387.3 L945.0,385.1 L947.0,382.9 L949.0,380.9 L951.0,378.9 L953.0,377.1 L955.0,375.4 L957.0,373.8 L959.0,372.4 L961.0,371.2 L963.0,370.2 L965.0,369.3 L967.0,368.7 L969.0,368.2 L971.0,368.0 L973.0,368.0 L975.0,368.2 L977.0,368.7 L979.0,369.3 L981.0,370.2 L983.0,371.2 L985.0,372.4 L987.0,373.8 L989.0,375.4 L991.0,377.1 L993.0,378.9 L995.0,380.9 L997.0,382.9 L999.0,385.1 L1001.0,387.3 L1003.0,389.6 L1005.0,391.9 L1007.0,394.2 L1009.0,396.5 L1011.0,398.8 L1013.0,401.1 L1015.0,403.3 L1017.0,405.5 L1019.0,407.7 L1021.0,409.8 L1023.0,411.8 L1025.0,413.7 L1027.0,415.5 L1029.0,417.3 L1031.0,418.9 L1033.0,420.5 L1035.0,421.9 L1037.0,423.3 L1039.0,424.5 L1041.0,425.7 L1043.0,426.8 L1045.0,427.8 L1047.0,428.7 L1049.0,429.5 L1051.0,430.3 L1053.0,431.0 L1055.0,431.6 L1057.0,432.1 L1059.0,432.6 L1061.0,433.1 L1063.0,433.5 L1065.0,433.8 L1067.0,434.1 L1069.0,434.4 L1071.0,434.6 L1073.0,434.8 L1075.0,435.0 L1077.0,435.1 L1079.0,435.3 L1081.0,435.4 L1083.0,435.5 L1085.0,435.6 L1087.0,435.6 L1089.0,435.7 L1091.0,435.8 L1093.0,435.8 L1095.0,435.8 L1097.0,435.9 L1099.0,435.9 L1101.0,435.9 L1103.0,435.9 L1105.0,435.9 L1107.0,436.0 L1109.0,436.0 L1111.0,436.0 L1113.0,436.0 L1115.0,436.0 L1117.0,436.0 L1119.0,436.0 L1121.0,436.0 L1123.0,436.0 L1125.0,436.0 L1127.0,436.0 L1129.0,436.0 L1131.0,436.0 L1133.0,436.0 L1135.0,436.0 L1137.0,436.0 L1139.0,436.0 L1141.0,436.0 L1143.0,436.0 L1145.0,436.0 L1147.0,436.0 L1149.0,436.0 L1151.0,436.0 L1153.0,436.0 L1155.0,436.0 L1157.0,436.0 L1159.0,436.0 L1161.0,436.0 L1163.0,436.0 L1165.0,436.0 L1167.0,436.0 L1169.0,436.0 L1171.0,436.0 L1173.0,436.0 L1175.0,436.0 L1177.0,436.0 L1179.0,436.0 L1181.0,436.0 L1183.0,436.0 L1185.0,436.0 L1187.0,436.0 L1189.0,436.0 L1191.0,436.0 L1193.0,436.0 L1195.0,436.0 L1197.0,436.0 L1199.0,436.0 L1201.0,436.0 L1203.0,436.0 L1205.0,436.0 L1207.0,436.0 L1209.0,436.0 L1211.0,436.0 L1213.0,436.0 L1215.0,436.0 L1217.0,436.0 L1219.0,436.0 L1221.0,436.0 L1223.0,436.0 L1225.0,436.0 L1227.0,436.0 L1229.0,436.0 L1231.0,436.0 L1233.0,436.0 L1235.0,436.0 L1237.0,436.0 L1239.0,436.0 L1241.0,436.0 L1243.0,436.0 L1245.0,436.0 L1247.0,436.0 L1249.0,436.0 L1251.0,436.0 L1253.0,436.0 L1255.0,436.0 L1257.0,436.0 L1259.0,436.0 L1261.0,436.0 L1263.0,436.0 L1265.0,436.0 L1267.0,436.0 L1269.0,436.0 L1271.0,436.0 L1273.0,436.0 L1275.0,436.0 L1277.0,436.0 L1279.0,436.0 L1281.0,436.0 L1283.0,436.0 L1285.0,436.0 L1287.0,436.0 L1289.0,436.0 L1291.0,436.0 L1293.0,436.0 L1295.0,436.0 L1297.0,436.0 L1299.0,436.0 L1301.0,436.0 L1303.0,436.0 L1305.0,436.0 L1307.0,436.0 L1309.0,436.0 L1311.0,436.0 L1313.0,436.0 L1315.0,436.0 L1317.0,436.0 L1319.0,436.0 L1321.0,436.0 L1323.0,436.0 L1325.0,436.0 L1327.0,436.0 L1329.0,436.0 L1331.0,436.0 L1333.0,436.0 L1335.0,436.0 L1337.0,436.0 L1339.0,436.0 L1341.0,436.0 L1343.0,436.0 L1345.0,436.0 L1347.0,436.0 L1349.0,436.0 L1351.0,436.0 L1353.0,436.0 L1355.0,436.0 L1357.0,436.0 L1359.0,436.0 L1361.0,436.0 L1363.0,436.0 L1365.0,436.0 L1367.0,436.0 L1369.0,436.0 L1371.0,436.0 L1373.0,436.0 L1375.0,436.0 L1377.0,436.0 L1379.0,436.0 L1381.0,436.0 L1383.0,436.0 L1385.0,436.0 L1387.0,436.0 L1389.0,436.0 L1391.0,436.0 L1393.0,436.0 L1395.0,436.0 L1397.0,436.0 L1399.0,436.0 L1401.0,436.0 L1403.0,436.0 L1405.0,436.0 L1407.0,436.0 L1409.0,436.0 L1411.0,436.0 L1413.0,436.0 L1415.0,436.0 L1417.0,436.0 L1419.0,436.0 L1421.0,436.0 L1423.0,436.0 L1425.0,436.0 L1427.0,436.0 L1429.0,436.0 L1431.0,436.0 L1433.0,436.0 L1435.0,436.0 L1437.0,436.0" fill="none" stroke="#307BC0" stroke-width="6" stroke-linecap="round" stroke-linejoin="round"/>
<path d="M748.0,656.0 L751.0,657.6 L753.9,654.9 L756.9,650.8 L759.8,652.7 L762.8,650.2 L765.8,650.9 L768.7,651.5 L771.7,660.5 L774.6,660.5 L777.6,660.5 L780.6,657.6 L783.5,657.9 L786.5,653.8 L789.4,655.6 L792.4,654.7 L795.4,646.7 L798.3,652.7 L801.3,658.9 L804.2,660.5 L807.2,652.4 L810.2,653.4 L813.1,660.5 L816.1,660.0 L819.0,659.2 L822.0,660.5 L825.0,659.8 L827.9,653.4 L830.9,660.5 L833.8,654.5 L836.8,647.1 L839.8,656.6 L842.7,656.7 L845.7,651.2 L848.6,647.6 L851.6,648.8 L854.6,656.4 L857.5,653.0 L860.5,647.6 L863.4,646.4 L866.4,641.1 L869.4,646.3 L872.3,645.3 L875.3,636.4 L878.2,644.1 L881.2,649.5 L884.2,645.6 L887.1,643.8 L890.1,639.0 L893.0,639.1 L896.0,642.0 L899.0,641.4 L901.9,637.1 L904.9,623.8 L907.8,617.7 L910.8,623.9 L913.8,621.6 L916.7,621.2 L919.7,624.1 L922.6,623.0 L925.6,621.6 L928.6,623.7 L931.5,614.0 L934.5,601.6 L937.4,594.9 L940.4,596.1 L943.4,593.3 L946.3,583.0 L949.3,574.8 L952.2,584.0 L955.2,582.6 L958.2,575.2 L961.1,567.0 L964.1,566.3 L967.0,558.0 L970.0,555.5 L973.0,546.3 L975.9,543.7 L978.9,538.3 L981.8,529.4 L984.8,532.6 L987.8,527.2 L990.7,515.9 L993.7,511.6 L996.6,514.4 L999.6,520.0 L1002.6,504.9 L1005.5,499.1 L1008.5,499.6 L1011.4,499.4 L1014.4,480.6 L1017.4,468.4 L1020.3,467.0 L1023.3,461.9 L1026.2,465.8 L1029.2,462.7 L1032.2,465.5 L1035.1,468.2 L1038.1,466.5 L1041.0,469.5 L1044.0,470.8 L1047.0,471.8 L1049.9,471.6 L1052.9,471.7 L1055.8,472.8 L1058.8,478.8 L1061.8,477.0 L1064.7,484.9 L1067.7,479.8 L1070.6,482.1 L1073.6,493.7 L1076.6,487.5 L1079.5,481.2 L1082.5,486.4 L1085.4,494.2 L1088.4,496.4 L1091.4,494.1 L1094.3,494.6 L1097.3,494.4 L1100.2,498.8 L1103.2,500.3 L1106.2,507.9 L1109.1,519.6 L1112.1,526.7 L1115.0,528.2 L1118.0,529.0 L1121.0,536.4 L1123.9,536.7 L1126.9,549.9 L1129.8,552.5 L1132.8,558.0 L1135.8,557.8 L1138.7,561.9 L1141.7,568.7 L1144.6,577.7 L1147.6,581.0 L1150.6,582.0 L1153.5,580.8 L1156.5,591.2 L1159.4,592.6 L1162.4,596.7 L1165.4,609.5 L1168.3,616.3 L1171.3,625.5 L1174.2,619.7 L1177.2,616.0 L1180.2,623.0 L1183.1,619.6 L1186.1,618.0 L1189.0,622.3 L1192.0,627.8 L1195.0,628.4 L1197.9,633.6 L1200.9,632.0 L1203.8,623.6 L1206.8,637.2 L1209.8,643.0 L1212.7,640.8 L1215.7,639.8 L1218.6,639.8 L1221.6,647.5 L1224.6,651.0 L1227.5,649.0 L1230.5,639.9 L1233.4,638.5 L1236.4,647.0 L1239.4,647.5 L1242.3,645.9 L1245.3,649.4 L1248.2,646.4 L1251.2,641.4 L1254.2,648.4 L1257.1,642.1 L1260.1,638.9 L1263.0,646.4 L1266.0,639.7 L1269.0,643.1 L1271.9,645.4 L1274.9,640.0 L1277.8,642.6 L1280.8,645.6 L1283.8,648.0 L1286.7,649.4 L1289.7,647.8 L1292.6,644.7 L1295.6,640.5 L1298.6,643.6 L1301.5,643.0 L1304.5,644.6 L1307.4,641.8 L1310.4,641.8 L1313.4,637.0 L1316.3,642.8 L1319.3,651.7 L1322.2,646.8 L1325.2,644.7 L1328.2,639.3 L1331.1,641.2 L1334.1,638.2 L1337.0,639.5 L1340.0,646.2 L1343.0,645.8 L1345.9,645.0 L1348.9,644.5 L1351.8,627.1 L1354.8,638.1 L1357.8,650.9 L1360.7,651.9 L1363.7,645.0 L1366.6,647.1 L1369.6,653.7 L1372.6,653.8 L1375.5,646.0 L1378.5,645.1 L1381.4,642.0 L1384.4,642.0 L1387.4,640.2 L1390.3,650.3 L1393.3,643.5 L1396.2,647.7 L1399.2,647.7 L1402.2,641.9 L1405.1,651.7 L1408.1,646.5 L1411.0,643.6 L1414.0,639.4 L1417.0,648.5 L1419.9,642.6 L1422.9,640.3 L1425.8,642.4 L1428.8,642.7 L1431.8,645.5 L1434.7,651.2" fill="none" stroke="#AFABAB" stroke-width="6.5" stroke-linecap="round" stroke-linejoin="round"/>
<path d="M743.3,661.5 L745.3,661.5 L747.3,661.5 L749.3,661.5 L751.3,661.5 L753.3,661.5 L755.3,661.5 L757.3,661.5 L759.3,661.5 L761.3,661.5 L763.3,661.5 L765.3,661.5 L767.3,661.5 L769.3,661.5 L771.3,661.5 L773.3,661.5 L775.3,661.5 L777.3,661.5 L779.3,661.5 L781.3,661.5 L783.3,661.5 L785.3,661.5 L787.3,661.5 L789.3,661.5 L791.3,661.5 L793.3,661.5 L795.3,661.5 L797.3,661.5 L799.3,661.5 L801.3,661.5 L803.3,661.5 L805.3,661.5 L807.3,661.5 L809.3,661.5 L811.3,661.5 L813.3,661.5 L815.3,661.5 L817.3,661.5 L819.3,661.5 L821.3,661.5 L823.3,661.5 L825.3,661.5 L827.3,661.5 L829.3,661.5 L831.3,661.5 L833.3,661.5 L835.3,661.5 L837.3,661.5 L839.3,661.5 L841.3,661.5 L843.3,661.5 L845.3,661.5 L847.3,661.5 L849.3,661.5 L851.3,661.5 L853.3,661.5 L855.3,661.5 L857.3,661.5 L859.3,661.5 L861.3,661.5 L863.3,661.5 L865.3,661.5 L867.3,661.5 L869.3,661.5 L871.3,661.5 L873.3,661.5 L875.3,661.5 L877.3,661.5 L879.3,661.5 L881.3,661.5 L883.3,661.5 L885.3,661.5 L887.3,661.5 L889.3,661.5 L891.3,661.5 L893.3,661.5 L895.3,661.5 L897.3,661.5 L899.3,661.5 L901.3,661.5 L903.3,661.5 L905.3,661.5 L907.3,661.5 L909.3,661.5 L911.3,661.5 L913.3,661.5 L915.3,661.5 L917.3,661.5 L919.3,661.5 L921.3,661.5 L923.3,661.5 L925.3,661.5 L927.3,661.5 L929.3,661.5 L931.3,661.5 L933.3,661.5 L935.3,661.5 L937.3,661.5 L939.3,661.5 L941.3,661.5 L943.3,661.5 L945.3,661.5 L947.3,661.5 L949.3,661.5 L951.3,661.5 L953.3,661.5 L955.3,661.5 L957.3,661.5 L959.3,661.5 L961.3,661.5 L963.3,661.5 L965.3,661.5 L967.3,661.5 L969.3,661.5 L971.3,661.5 L973.3,661.5 L975.3,661.5 L977.3,661.5 L979.3,661.5 L981.3,661.5 L983.3,661.5 L985.3,661.5 L987.3,661.5 L989.3,661.5 L991.3,661.5 L993.3,661.5 L995.3,661.5 L997.3,661.5 L999.3,661.5 L1001.3,661.5 L1003.3,661.5 L1005.3,661.5 L1007.3,661.5 L1009.3,661.5 L1011.3,661.5 L1013.3,661.5 L1015.3,661.5 L1017.3,661.5 L1019.3,661.5 L1021.3,661.5 L1023.3,661.5 L1025.3,661.5 L1027.3,661.5 L1029.3,661.5 L1031.3,661.5 L1033.3,661.5 L1035.3,661.5 L1037.3,661.5 L1039.3,661.5 L1041.3,661.5 L1043.3,661.5 L1045.3,661.5 L1047.3,661.5 L1049.3,661.5 L1051.3,661.5 L1053.3,661.5 L1055.3,661.5 L1057.3,661.4 L1059.3,661.4 L1061.3,661.4 L1063.3,661.3 L1065.3,661.3 L1067.3,661.2 L1069.3,661.1 L1071.3,660.9 L1073.3,660.8 L1075.3,660.5 L1077.3,660.3 L1079.3,659.9 L1081.3,659.5 L1083.3,658.9 L1085.3,658.3 L1087.3,657.5 L1089.3,656.6 L1091.3,655.5 L1093.3,654.2 L1095.3,652.7 L1097.3,650.9 L1099.3,649.0 L1101.3,646.8 L1103.3,644.3 L1105.3,641.6 L1107.3,638.6 L1109.3,635.4 L1111.3,631.9 L1113.3,628.3 L1115.3,624.5 L1117.3,620.6 L1119.3,616.6 L1121.3,612.7 L1123.3,608.8 L1125.3,605.0 L1127.3,601.4 L1129.3,598.2 L1131.3,595.2 L1133.3,592.7 L1135.3,590.6 L1137.3,589.0 L1139.3,588.0 L1141.3,587.5 L1143.3,587.6 L1145.3,588.3 L1147.3,589.6 L1149.3,591.4 L1151.3,593.6 L1153.3,596.3 L1155.3,599.4 L1157.3,602.8 L1159.3,606.5 L1161.3,610.3 L1163.3,614.2 L1165.3,618.2 L1167.3,622.1 L1169.3,626.0 L1171.3,629.7 L1173.3,633.3 L1175.3,636.7 L1177.3,639.8 L1179.3,642.7 L1181.3,645.3 L1183.3,647.7 L1185.3,649.8 L1187.3,651.7 L1189.3,653.3 L1191.3,654.7 L1193.3,655.9 L1195.3,657.0 L1197.3,657.8 L1199.3,658.6 L1201.3,659.2 L1203.3,659.7 L1205.3,660.1 L1207.3,660.4 L1209.3,660.6 L1211.3,660.8 L1213.3,661.0 L1215.3,661.1 L1217.3,661.2 L1219.3,661.3 L1221.3,661.3 L1223.3,661.4 L1225.3,661.4 L1227.3,661.4 L1229.3,661.5 L1231.3,661.5 L1233.3,661.5 L1235.3,661.5 L1237.3,661.5 L1239.3,661.5 L1241.3,661.5 L1243.3,661.5 L1245.3,661.5 L1247.3,661.5 L1249.3,661.5 L1251.3,661.5 L1253.3,661.5 L1255.3,661.5 L1257.3,661.5 L1259.3,661.5 L1261.3,661.5 L1263.3,661.5 L1265.3,661.5 L1267.3,661.5 L1269.3,661.5 L1271.3,661.5 L1273.3,661.5 L1275.3,661.5 L1277.3,661.5 L1279.3,661.5 L1281.3,661.5 L1283.3,661.5 L1285.3,661.5 L1287.3,661.5 L1289.3,661.5 L1291.3,661.5 L1293.3,661.5 L1295.3,661.5 L1297.3,661.5 L1299.3,661.5 L1301.3,661.5 L1303.3,661.5 L1305.3,661.5 L1307.3,661.5 L1309.3,661.5 L1311.3,661.5 L1313.3,661.5 L1315.3,661.5 L1317.3,661.5 L1319.3,661.5 L1321.3,661.5 L1323.3,661.5 L1325.3,661.5 L1327.3,661.5 L1329.3,661.5 L1331.3,661.5 L1333.3,661.5 L1335.3,661.5 L1337.3,661.5 L1339.3,661.5 L1341.3,661.5 L1343.3,661.5 L1345.3,661.5 L1347.3,661.5 L1349.3,661.5 L1351.3,661.5 L1353.3,661.5 L1355.3,661.5 L1357.3,661.5 L1359.3,661.5 L1361.3,661.5 L1363.3,661.5 L1365.3,661.5 L1367.3,661.5 L1369.3,661.5 L1371.3,661.5 L1373.3,661.5 L1375.3,661.5 L1377.3,661.5 L1379.3,661.5 L1381.3,661.5 L1383.3,661.5 L1385.3,661.5 L1387.3,661.5 L1389.3,661.5 L1391.3,661.5 L1393.3,661.5 L1395.3,661.5 L1397.3,661.5 L1399.3,661.5 L1401.3,661.5 L1403.3,661.5 L1405.3,661.5 L1407.3,661.5 L1409.3,661.5 L1411.3,661.5 L1413.3,661.5 L1415.3,661.5 L1417.3,661.5 L1419.3,661.5 L1421.3,661.5 L1423.3,661.5 L1425.3,661.5 L1427.3,661.5 L1429.3,661.5 L1431.3,661.5 L1433.3,661.5 L1435.3,661.5 L1437.0,661.5" fill="none" stroke="#000" stroke-width="6" stroke-linecap="round" stroke-linejoin="round"/>
<path d="M743.3,661.5 L745.3,661.5 L747.3,661.5 L749.3,661.5 L751.3,661.5 L753.3,661.5 L755.3,661.5 L757.3,661.5 L759.3,661.5 L761.3,661.5 L763.3,661.5 L765.3,661.5 L767.3,661.5 L769.3,661.5 L771.3,661.5 L773.3,661.5 L775.3,661.5 L777.3,661.5 L779.3,661.5 L781.3,661.5 L783.3,661.5 L785.3,661.5 L787.3,661.5 L789.3,661.5 L791.3,661.5 L793.3,661.5 L795.3,661.5 L797.3,661.5 L799.3,661.5 L801.3,661.5 L803.3,661.5 L805.3,661.5 L807.3,661.5 L809.3,661.5 L811.3,661.5 L813.3,661.5 L815.3,661.5 L817.3,661.5 L819.3,661.5 L821.3,661.5 L823.3,661.5 L825.3,661.5 L827.3,661.5 L829.3,661.5 L831.3,661.5 L833.3,661.5 L835.3,661.5 L837.3,661.5 L839.3,661.5 L841.3,661.5 L843.3,661.5 L845.3,661.5 L847.3,661.5 L849.3,661.5 L851.3,661.5 L853.3,661.5 L855.3,661.5 L857.3,661.5 L859.3,661.5 L861.3,661.5 L863.3,661.5 L865.3,661.5 L867.3,661.5 L869.3,661.5 L871.3,661.5 L873.3,661.5 L875.3,661.5 L877.3,661.5 L879.3,661.5 L881.3,661.5 L883.3,661.5 L885.3,661.5 L887.3,661.5 L889.3,661.5 L891.3,661.5 L893.3,661.5 L895.3,661.5 L897.3,661.5 L899.3,661.5 L901.3,661.5 L903.3,661.5 L905.3,661.5 L907.3,661.5 L909.3,661.5 L911.3,661.5 L913.3,661.5 L915.3,661.5 L917.3,661.5 L919.3,661.5 L921.3,661.5 L923.3,661.5 L925.3,661.5 L927.3,661.5 L929.3,661.5 L931.3,661.5 L933.3,661.5 L935.3,661.5 L937.3,661.5 L939.3,661.5 L941.3,661.5 L943.3,661.5 L945.3,661.5 L947.3,661.5 L949.3,661.5 L951.3,661.5 L953.3,661.5 L955.3,661.5 L957.3,661.5 L959.3,661.5 L961.3,661.5 L963.3,661.5 L965.3,661.5 L967.3,661.5 L969.3,661.5 L971.3,661.5 L973.3,661.5 L975.3,661.5 L977.3,661.5 L979.3,661.5 L981.3,661.5 L983.3,661.5 L985.3,661.5 L987.3,661.5 L989.3,661.5 L991.3,661.5 L993.3,661.5 L995.3,661.5 L997.3,661.5 L999.3,661.5 L1001.3,661.5 L1003.3,661.4 L1005.3,661.4 L1007.3,661.4 L1009.3,661.3 L1011.3,661.3 L1013.3,661.2 L1015.3,661.0 L1017.3,660.9 L1019.3,660.7 L1021.3,660.4 L1023.3,660.0 L1025.3,659.6 L1027.3,659.0 L1029.3,658.3 L1031.3,657.4 L1033.3,656.3 L1035.3,654.9 L1037.3,653.3 L1039.3,651.3 L1041.3,649.0 L1043.3,646.2 L1045.3,643.1 L1047.3,639.4 L1049.3,635.2 L1051.3,630.5 L1053.3,625.2 L1055.3,619.4 L1057.3,613.1 L1059.3,606.3 L1061.3,599.0 L1063.3,591.4 L1065.3,583.5 L1067.3,575.4 L1069.3,567.2 L1071.3,559.2 L1073.3,551.3 L1075.3,543.8 L1077.3,536.9 L1079.3,530.6 L1081.3,525.1 L1083.3,520.6 L1085.3,517.1 L1087.3,514.8 L1089.3,513.6 L1091.3,513.7 L1093.3,515.0 L1095.3,517.4 L1097.3,521.0 L1099.3,525.6 L1101.3,531.2 L1103.3,537.5 L1105.3,544.6 L1107.3,552.1 L1109.3,560.0 L1111.3,568.1 L1113.3,576.2 L1115.3,584.3 L1117.3,592.2 L1119.3,599.8 L1121.3,607.0 L1123.3,613.8 L1125.3,620.1 L1127.3,625.8 L1129.3,631.0 L1131.3,635.7 L1133.3,639.8 L1135.3,643.4 L1137.3,646.5 L1139.3,649.2 L1141.3,651.5 L1143.3,653.5 L1145.3,655.1 L1147.3,656.4 L1149.3,657.5 L1151.3,658.4 L1153.3,659.1 L1155.3,659.6 L1157.3,660.1 L1159.3,660.4 L1161.3,660.7 L1163.3,660.9 L1165.3,661.1 L1167.3,661.2 L1169.3,661.3 L1171.3,661.3 L1173.3,661.4 L1175.3,661.4 L1177.3,661.4 L1179.3,661.5 L1181.3,661.5 L1183.3,661.5 L1185.3,661.5 L1187.3,661.5 L1189.3,661.5 L1191.3,661.5 L1193.3,661.5 L1195.3,661.5 L1197.3,661.5 L1199.3,661.5 L1201.3,661.5 L1203.3,661.5 L1205.3,661.5 L1207.3,661.5 L1209.3,661.5 L1211.3,661.5 L1213.3,661.5 L1215.3,661.5 L1217.3,661.5 L1219.3,661.5 L1221.3,661.5 L1223.3,661.5 L1225.3,661.5 L1227.3,661.5 L1229.3,661.5 L1231.3,661.5 L1233.3,661.5 L1235.3,661.5 L1237.3,661.5 L1239.3,661.5 L1241.3,661.5 L1243.3,661.5 L1245.3,661.5 L1247.3,661.5 L1249.3,661.5 L1251.3,661.5 L1253.3,661.5 L1255.3,661.5 L1257.3,661.5 L1259.3,661.5 L1261.3,661.5 L1263.3,661.5 L1265.3,661.5 L1267.3,661.5 L1269.3,661.5 L1271.3,661.5 L1273.3,661.5 L1275.3,661.5 L1277.3,661.5 L1279.3,661.5 L1281.3,661.5 L1283.3,661.5 L1285.3,661.5 L1287.3,661.5 L1289.3,661.5 L1291.3,661.5 L1293.3,661.5 L1295.3,661.5 L1297.3,661.5 L1299.3,661.5 L1301.3,661.5 L1303.3,661.5 L1305.3,661.5 L1307.3,661.5 L1309.3,661.5 L1311.3,661.5 L1313.3,661.5 L1315.3,661.5 L1317.3,661.5 L1319.3,661.5 L1321.3,661.5 L1323.3,661.5 L1325.3,661.5 L1327.3,661.5 L1329.3,661.5 L1331.3,661.5 L1333.3,661.5 L1335.3,661.5 L1337.3,661.5 L1339.3,661.5 L1341.3,661.5 L1343.3,661.5 L1345.3,661.5 L1347.3,661.5 L1349.3,661.5 L1351.3,661.5 L1353.3,661.5 L1355.3,661.5 L1357.3,661.5 L1359.3,661.5 L1361.3,661.5 L1363.3,661.5 L1365.3,661.5 L1367.3,661.5 L1369.3,661.5 L1371.3,661.5 L1373.3,661.5 L1375.3,661.5 L1377.3,661.5 L1379.3,661.5 L1381.3,661.5 L1383.3,661.5 L1385.3,661.5 L1387.3,661.5 L1389.3,661.5 L1391.3,661.5 L1393.3,661.5 L1395.3,661.5 L1397.3,661.5 L1399.3,661.5 L1401.3,661.5 L1403.3,661.5 L1405.3,661.5 L1407.3,661.5 L1409.3,661.5 L1411.3,661.5 L1413.3,661.5 L1415.3,661.5 L1417.3,661.5 L1419.3,661.5 L1421.3,661.5 L1423.3,661.5 L1425.3,661.5 L1427.3,661.5 L1429.3,661.5 L1431.3,661.5 L1433.3,661.5 L1435.3,661.5 L1437.0,661.5" fill="none" stroke="#00B050" stroke-width="6" stroke-linecap="round" stroke-linejoin="round"/>
<path d="M743.3,661.5 L745.3,661.5 L747.3,661.5 L749.3,661.5 L751.3,661.5 L753.3,661.5 L755.3,661.5 L757.3,661.5 L759.3,661.5 L761.3,661.5 L763.3,661.5 L765.3,661.5 L767.3,661.5 L769.3,661.5 L771.3,661.5 L773.3,661.5 L775.3,661.5 L777.3,661.5 L779.3,661.5 L781.3,661.5 L783.3,661.5 L785.3,661.5 L787.3,661.5 L789.3,661.5 L791.3,661.5 L793.3,661.5 L795.3,661.5 L797.3,661.5 L799.3,661.5 L801.3,661.5 L803.3,661.5 L805.3,661.5 L807.3,661.5 L809.3,661.5 L811.3,661.5 L813.3,661.5 L815.3,661.5 L817.3,661.5 L819.3,661.5 L821.3,661.5 L823.3,661.5 L825.3,661.5 L827.3,661.5 L829.3,661.5 L831.3,661.5 L833.3,661.5 L835.3,661.5 L837.3,661.5 L839.3,661.5 L841.3,661.5 L843.3,661.5 L845.3,661.5 L847.3,661.5 L849.3,661.5 L851.3,661.5 L853.3,661.5 L855.3,661.5 L857.3,661.5 L859.3,661.5 L861.3,661.5 L863.3,661.5 L865.3,661.5 L867.3,661.5 L869.3,661.5 L871.3,661.5 L873.3,661.5 L875.3,661.5 L877.3,661.5 L879.3,661.5 L881.3,661.5 L883.3,661.5 L885.3,661.5 L887.3,661.5 L889.3,661.5 L891.3,661.5 L893.3,661.5 L895.3,661.5 L897.3,661.5 L899.3,661.5 L901.3,661.5 L903.3,661.5 L905.3,661.5 L907.3,661.5 L909.3,661.5 L911.3,661.5 L913.3,661.5 L915.3,661.5 L917.3,661.5 L919.3,661.5 L921.3,661.5 L923.3,661.5 L925.3,661.5 L927.3,661.5 L929.3,661.5 L931.3,661.5 L933.3,661.5 L935.3,661.5 L937.3,661.5 L939.3,661.5 L941.3,661.4 L943.3,661.4 L945.3,661.4 L947.3,661.3 L949.3,661.3 L951.3,661.2 L953.3,661.1 L955.3,661.0 L957.3,660.8 L959.3,660.5 L961.3,660.2 L963.3,659.8 L965.3,659.3 L967.3,658.7 L969.3,658.0 L971.3,657.0 L973.3,655.8 L975.3,654.4 L977.3,652.7 L979.3,650.6 L981.3,648.2 L983.3,645.4 L985.3,642.1 L987.3,638.3 L989.3,633.9 L991.3,629.0 L993.3,623.5 L995.3,617.4 L997.3,610.6 L999.3,603.3 L1001.3,595.4 L1003.3,587.0 L1005.3,578.2 L1007.3,569.0 L1009.3,559.5 L1011.3,549.9 L1013.3,540.3 L1015.3,530.9 L1017.3,521.7 L1019.3,513.0 L1021.3,505.0 L1023.3,497.7 L1025.3,491.4 L1027.3,486.2 L1029.3,482.1 L1031.3,479.2 L1033.3,477.7 L1035.3,477.6 L1037.3,478.8 L1039.3,481.4 L1041.3,485.2 L1043.3,490.3 L1045.3,496.4 L1047.3,503.5 L1049.3,511.4 L1051.3,519.9 L1053.3,529.0 L1055.3,538.4 L1057.3,548.0 L1059.3,557.6 L1061.3,567.1 L1063.3,576.3 L1065.3,585.3 L1067.3,593.8 L1069.3,601.8 L1071.3,609.2 L1073.3,616.1 L1075.3,622.3 L1077.3,627.9 L1079.3,633.0 L1081.3,637.4 L1083.3,641.4 L1085.3,644.8 L1087.3,647.7 L1089.3,650.2 L1091.3,652.3 L1093.3,654.1 L1095.3,655.6 L1097.3,656.8 L1099.3,657.8 L1101.3,658.6 L1103.3,659.2 L1105.3,659.8 L1107.3,660.2 L1109.3,660.5 L1111.3,660.7 L1113.3,660.9 L1115.3,661.1 L1117.3,661.2 L1119.3,661.3 L1121.3,661.3 L1123.3,661.4 L1125.3,661.4 L1127.3,661.4 L1129.3,661.5 L1131.3,661.5 L1133.3,661.5 L1135.3,661.5 L1137.3,661.5 L1139.3,661.5 L1141.3,661.5 L1143.3,661.5 L1145.3,661.5 L1147.3,661.5 L1149.3,661.5 L1151.3,661.5 L1153.3,661.5 L1155.3,661.5 L1157.3,661.5 L1159.3,661.5 L1161.3,661.5 L1163.3,661.5 L1165.3,661.5 L1167.3,661.5 L1169.3,661.5 L1171.3,661.5 L1173.3,661.5 L1175.3,661.5 L1177.3,661.5 L1179.3,661.5 L1181.3,661.5 L1183.3,661.5 L1185.3,661.5 L1187.3,661.5 L1189.3,661.5 L1191.3,661.5 L1193.3,661.5 L1195.3,661.5 L1197.3,661.5 L1199.3,661.5 L1201.3,661.5 L1203.3,661.5 L1205.3,661.5 L1207.3,661.5 L1209.3,661.5 L1211.3,661.5 L1213.3,661.5 L1215.3,661.5 L1217.3,661.5 L1219.3,661.5 L1221.3,661.5 L1223.3,661.5 L1225.3,661.5 L1227.3,661.5 L1229.3,661.5 L1231.3,661.5 L1233.3,661.5 L1235.3,661.5 L1237.3,661.5 L1239.3,661.5 L1241.3,661.5 L1243.3,661.5 L1245.3,661.5 L1247.3,661.5 L1249.3,661.5 L1251.3,661.5 L1253.3,661.5 L1255.3,661.5 L1257.3,661.5 L1259.3,661.5 L1261.3,661.5 L1263.3,661.5 L1265.3,661.5 L1267.3,661.5 L1269.3,661.5 L1271.3,661.5 L1273.3,661.5 L1275.3,661.5 L1277.3,661.5 L1279.3,661.5 L1281.3,661.5 L1283.3,661.5 L1285.3,661.5 L1287.3,661.5 L1289.3,661.5 L1291.3,661.5 L1293.3,661.5 L1295.3,661.5 L1297.3,661.5 L1299.3,661.5 L1301.3,661.5 L1303.3,661.5 L1305.3,661.5 L1307.3,661.5 L1309.3,661.5 L1311.3,661.5 L1313.3,661.5 L1315.3,661.5 L1317.3,661.5 L1319.3,661.5 L1321.3,661.5 L1323.3,661.5 L1325.3,661.5 L1327.3,661.5 L1329.3,661.5 L1331.3,661.5 L1333.3,661.5 L1335.3,661.5 L1337.3,661.5 L1339.3,661.5 L1341.3,661.5 L1343.3,661.5 L1345.3,661.5 L1347.3,661.5 L1349.3,661.5 L1351.3,661.5 L1353.3,661.5 L1355.3,661.5 L1357.3,661.5 L1359.3,661.5 L1361.3,661.5 L1363.3,661.5 L1365.3,661.5 L1367.3,661.5 L1369.3,661.5 L1371.3,661.5 L1373.3,661.5 L1375.3,661.5 L1377.3,661.5 L1379.3,661.5 L1381.3,661.5 L1383.3,661.5 L1385.3,661.5 L1387.3,661.5 L1389.3,661.5 L1391.3,661.5 L1393.3,661.5 L1395.3,661.5 L1397.3,661.5 L1399.3,661.5 L1401.3,661.5 L1403.3,661.5 L1405.3,661.5 L1407.3,661.5 L1409.3,661.5 L1411.3,661.5 L1413.3,661.5 L1415.3,661.5 L1417.3,661.5 L1419.3,661.5 L1421.3,661.5 L1423.3,661.5 L1425.3,661.5 L1427.3,661.5 L1429.3,661.5 L1431.3,661.5 L1433.3,661.5 L1435.3,661.5 L1437.0,661.5" fill="none" stroke="#ED7D31" stroke-width="6" stroke-linecap="round" stroke-linejoin="round"/>
<path d="M743.3,661.5 L745.3,661.5 L747.3,661.5 L749.3,661.5 L751.3,661.5 L753.3,661.5 L755.3,661.5 L757.3,661.5 L759.3,661.5 L761.3,661.5 L763.3,661.5 L765.3,661.5 L767.3,661.5 L769.3,661.5 L771.3,661.5 L773.3,661.5 L775.3,661.5 L777.3,661.5 L779.3,661.5 L781.3,661.5 L783.3,661.5 L785.3,661.5 L787.3,661.5 L789.3,661.5 L791.3,661.5 L793.3,661.5 L795.3,661.5 L797.3,661.5 L799.3,661.5 L801.3,661.5 L803.3,661.5 L805.3,661.5 L807.3,661.5 L809.3,661.5 L811.3,661.5 L813.3,661.5 L815.3,661.5 L817.3,661.5 L819.3,661.5 L821.3,661.5 L823.3,661.5 L825.3,661.5 L827.3,661.5 L829.3,661.5 L831.3,661.5 L833.3,661.5 L835.3,661.5 L837.3,661.5 L839.3,661.5 L841.3,661.5 L843.3,661.5 L845.3,661.5 L847.3,661.5 L849.3,661.5 L851.3,661.5 L853.3,661.5 L855.3,661.5 L857.3,661.5 L859.3,661.5 L861.3,661.5 L863.3,661.5 L865.3,661.5 L867.3,661.5 L869.3,661.5 L871.3,661.5 L873.3,661.5 L875.3,661.5 L877.3,661.5 L879.3,661.5 L881.3,661.5 L883.3,661.4 L885.3,661.4 L887.3,661.4 L889.3,661.4 L891.3,661.3 L893.3,661.2 L895.3,661.2 L897.3,661.1 L899.3,660.9 L901.3,660.7 L903.3,660.5 L905.3,660.2 L907.3,659.9 L909.3,659.5 L911.3,658.9 L913.3,658.3 L915.3,657.5 L917.3,656.6 L919.3,655.5 L921.3,654.2 L923.3,652.7 L925.3,650.9 L927.3,648.9 L929.3,646.6 L931.3,644.0 L933.3,641.1 L935.3,637.8 L937.3,634.2 L939.3,630.3 L941.3,626.0 L943.3,621.4 L945.3,616.6 L947.3,611.5 L949.3,606.3 L951.3,600.8 L953.3,595.3 L955.3,589.8 L957.3,584.4 L959.3,579.1 L961.3,574.1 L963.3,569.3 L965.3,565.0 L967.3,561.2 L969.3,557.9 L971.3,555.3 L973.3,553.3 L975.3,552.0 L977.3,551.5 L979.3,551.7 L981.3,552.7 L983.3,554.4 L985.3,556.8 L987.3,559.8 L989.3,563.4 L991.3,567.6 L993.3,572.1 L995.3,577.1 L997.3,582.3 L999.3,587.6 L1001.3,593.1 L1003.3,598.6 L1005.3,604.1 L1007.3,609.4 L1009.3,614.6 L1011.3,619.5 L1013.3,624.2 L1015.3,628.6 L1017.3,632.7 L1019.3,636.4 L1021.3,639.8 L1023.3,642.9 L1025.3,645.6 L1027.3,648.0 L1029.3,650.2 L1031.3,652.0 L1033.3,653.6 L1035.3,655.0 L1037.3,656.2 L1039.3,657.2 L1041.3,658.0 L1043.3,658.7 L1045.3,659.3 L1047.3,659.7 L1049.3,660.1 L1051.3,660.4 L1053.3,660.7 L1055.3,660.9 L1057.3,661.0 L1059.3,661.1 L1061.3,661.2 L1063.3,661.3 L1065.3,661.3 L1067.3,661.4 L1069.3,661.4 L1071.3,661.4 L1073.3,661.5 L1075.3,661.5 L1077.3,661.5 L1079.3,661.5 L1081.3,661.5 L1083.3,661.5 L1085.3,661.5 L1087.3,661.5 L1089.3,661.5 L1091.3,661.5 L1093.3,661.5 L1095.3,661.5 L1097.3,661.5 L1099.3,661.5 L1101.3,661.5 L1103.3,661.5 L1105.3,661.5 L1107.3,661.5 L1109.3,661.5 L1111.3,661.5 L1113.3,661.5 L1115.3,661.5 L1117.3,661.5 L1119.3,661.5 L1121.3,661.5 L1123.3,661.5 L1125.3,661.5 L1127.3,661.5 L1129.3,661.5 L1131.3,661.5 L1133.3,661.5 L1135.3,661.5 L1137.3,661.5 L1139.3,661.5 L1141.3,661.5 L1143.3,661.5 L1145.3,661.5 L1147.3,661.5 L1149.3,661.5 L1151.3,661.5 L1153.3,661.5 L1155.3,661.5 L1157.3,661.5 L1159.3,661.5 L1161.3,661.5 L1163.3,661.5 L1165.3,661.5 L1167.3,661.5 L1169.3,661.5 L1171.3,661.5 L1173.3,661.5 L1175.3,661.5 L1177.3,661.5 L1179.3,661.5 L1181.3,661.5 L1183.3,661.5 L1185.3,661.5 L1187.3,661.5 L1189.3,661.5 L1191.3,661.5 L1193.3,661.5 L1195.3,661.5 L1197.3,661.5 L1199.3,661.5 L1201.3,661.5 L1203.3,661.5 L1205.3,661.5 L1207.3,661.5 L1209.3,661.5 L1211.3,661.5 L1213.3,661.5 L1215.3,661.5 L1217.3,661.5 L1219.3,661.5 L1221.3,661.5 L1223.3,661.5 L1225.3,661.5 L1227.3,661.5 L1229.3,661.5 L1231.3,661.5 L1233.3,661.5 L1235.3,661.5 L1237.3,661.5 L1239.3,661.5 L1241.3,661.5 L1243.3,661.5 L1245.3,661.5 L1247.3,661.5 L1249.3,661.5 L1251.3,661.5 L1253.3,661.5 L1255.3,661.5 L1257.3,661.5 L1259.3,661.5 L1261.3,661.5 L1263.3,661.5 L1265.3,661.5 L1267.3,661.5 L1269.3,661.5 L1271.3,661.5 L1273.3,661.5 L1275.3,661.5 L1277.3,661.5 L1279.3,661.5 L1281.3,661.5 L1283.3,661.5 L1285.3,661.5 L1287.3,661.5 L1289.3,661.5 L1291.3,661.5 L1293.3,661.5 L1295.3,661.5 L1297.3,661.5 L1299.3,661.5 L1301.3,661.5 L1303.3,661.5 L1305.3,661.5 L1307.3,661.5 L1309.3,661.5 L1311.3,661.5 L1313.3,661.5 L1315.3,661.5 L1317.3,661.5 L1319.3,661.5 L1321.3,661.5 L1323.3,661.5 L1325.3,661.5 L1327.3,661.5 L1329.3,661.5 L1331.3,661.5 L1333.3,661.5 L1335.3,661.5 L1337.3,661.5 L1339.3,661.5 L1341.3,661.5 L1343.3,661.5 L1345.3,661.5 L1347.3,661.5 L1349.3,661.5 L1351.3,661.5 L1353.3,661.5 L1355.3,661.5 L1357.3,661.5 L1359.3,661.5 L1361.3,661.5 L1363.3,661.5 L1365.3,661.5 L1367.3,661.5 L1369.3,661.5 L1371.3,661.5 L1373.3,661.5 L1375.3,661.5 L1377.3,661.5 L1379.3,661.5 L1381.3,661.5 L1383.3,661.5 L1385.3,661.5 L1387.3,661.5 L1389.3,661.5 L1391.3,661.5 L1393.3,661.5 L1395.3,661.5 L1397.3,661.5 L1399.3,661.5 L1401.3,661.5 L1403.3,661.5 L1405.3,661.5 L1407.3,661.5 L1409.3,661.5 L1411.3,661.5 L1413.3,661.5 L1415.3,661.5 L1417.3,661.5 L1419.3,661.5 L1421.3,661.5 L1423.3,661.5 L1425.3,661.5 L1427.3,661.5 L1429.3,661.5 L1431.3,661.5 L1433.3,661.5 L1435.3,661.5 L1437.0,661.5" fill="none" stroke="#C55A11" stroke-width="6" stroke-linecap="round" stroke-linejoin="round"/>
<path d="M743.3,661.5 L745.3,661.5 L747.3,661.5 L749.3,661.5 L751.3,661.5 L753.3,661.5 L755.3,661.5 L757.3,661.5 L759.3,661.5 L761.3,661.5 L763.3,661.5 L765.3,661.5 L767.3,661.5 L769.3,661.5 L771.3,661.5 L773.3,661.5 L775.3,661.5 L777.3,661.5 L779.3,661.5 L781.3,661.5 L783.3,661.5 L785.3,661.5 L787.3,661.5 L789.3,661.5 L791.3,661.5 L793.3,661.5 L795.3,661.5 L797.3,661.5 L799.3,661.5 L801.3,661.5 L803.3,661.5 L805.3,661.5 L807.3,661.5 L809.3,661.5 L811.3,661.5 L813.3,661.5 L815.3,661.5 L817.3,661.5 L819.3,661.5 L821.3,661.4 L823.3,661.4 L825.3,661.4 L827.3,661.4 L829.3,661.3 L831.3,661.3 L833.3,661.3 L835.3,661.2 L837.3,661.1 L839.3,661.0 L841.3,660.9 L843.3,660.8 L845.3,660.6 L847.3,660.5 L849.3,660.2 L851.3,660.0 L853.3,659.7 L855.3,659.3 L857.3,659.0 L859.3,658.5 L861.3,658.0 L863.3,657.4 L865.3,656.8 L867.3,656.1 L869.3,655.3 L871.3,654.5 L873.3,653.6 L875.3,652.6 L877.3,651.5 L879.3,650.3 L881.3,649.1 L883.3,647.9 L885.3,646.5 L887.3,645.2 L889.3,643.8 L891.3,642.4 L893.3,641.0 L895.3,639.6 L897.3,638.2 L899.3,636.9 L901.3,635.6 L903.3,634.4 L905.3,633.3 L907.3,632.4 L909.3,631.5 L911.3,630.8 L913.3,630.2 L915.3,629.8 L917.3,629.6 L919.3,629.5 L921.3,629.6 L923.3,629.9 L925.3,630.3 L927.3,630.9 L929.3,631.6 L931.3,632.5 L933.3,633.4 L935.3,634.5 L937.3,635.7 L939.3,637.0 L941.3,638.3 L943.3,639.7 L945.3,641.1 L947.3,642.5 L949.3,643.9 L951.3,645.3 L953.3,646.7 L955.3,648.0 L957.3,649.2 L959.3,650.4 L961.3,651.6 L963.3,652.7 L965.3,653.6 L967.3,654.6 L969.3,655.4 L971.3,656.2 L973.3,656.9 L975.3,657.5 L977.3,658.1 L979.3,658.6 L981.3,659.0 L983.3,659.4 L985.3,659.7 L987.3,660.0 L989.3,660.3 L991.3,660.5 L993.3,660.7 L995.3,660.8 L997.3,660.9 L999.3,661.0 L1001.3,661.1 L1003.3,661.2 L1005.3,661.3 L1007.3,661.3 L1009.3,661.4 L1011.3,661.4 L1013.3,661.4 L1015.3,661.4 L1017.3,661.4 L1019.3,661.5 L1021.3,661.5 L1023.3,661.5 L1025.3,661.5 L1027.3,661.5 L1029.3,661.5 L1031.3,661.5 L1033.3,661.5 L1035.3,661.5 L1037.3,661.5 L1039.3,661.5 L1041.3,661.5 L1043.3,661.5 L1045.3,661.5 L1047.3,661.5 L1049.3,661.5 L1051.3,661.5 L1053.3,661.5 L1055.3,661.5 L1057.3,661.5 L1059.3,661.5 L1061.3,661.5 L1063.3,661.5 L1065.3,661.5 L1067.3,661.5 L1069.3,661.5 L1071.3,661.5 L1073.3,661.5 L1075.3,661.5 L1077.3,661.5 L1079.3,661.5 L1081.3,661.5 L1083.3,661.5 L1085.3,661.5 L1087.3,661.5 L1089.3,661.5 L1091.3,661.5 L1093.3,661.5 L1095.3,661.5 L1097.3,661.5 L1099.3,661.5 L1101.3,661.5 L1103.3,661.5 L1105.3,661.5 L1107.3,661.5 L1109.3,661.5 L1111.3,661.5 L1113.3,661.5 L1115.3,661.5 L1117.3,661.5 L1119.3,661.5 L1121.3,661.5 L1123.3,661.5 L1125.3,661.5 L1127.3,661.5 L1129.3,661.5 L1131.3,661.5 L1133.3,661.5 L1135.3,661.5 L1137.3,661.5 L1139.3,661.5 L1141.3,661.5 L1143.3,661.5 L1145.3,661.5 L1147.3,661.5 L1149.3,661.5 L1151.3,661.5 L1153.3,661.5 L1155.3,661.5 L1157.3,661.5 L1159.3,661.5 L1161.3,661.5 L1163.3,661.5 L1165.3,661.5 L1167.3,661.5 L1169.3,661.5 L1171.3,661.5 L1173.3,661.5 L1175.3,661.5 L1177.3,661.5 L1179.3,661.5 L1181.3,661.5 L1183.3,661.5 L1185.3,661.5 L1187.3,661.5 L1189.3,661.5 L1191.3,661.5 L1193.3,661.5 L1195.3,661.5 L1197.3,661.5 L1199.3,661.5 L1201.3,661.5 L1203.3,661.5 L1205.3,661.5 L1207.3,661.5 L1209.3,661.5 L1211.3,661.5 L1213.3,661.5 L1215.3,661.5 L1217.3,661.5 L1219.3,661.5 L1221.3,661.5 L1223.3,661.5 L1225.3,661.5 L1227.3,661.5 L1229.3,661.5 L1231.3,661.5 L1233.3,661.5 L1235.3,661.5 L1237.3,661.5 L1239.3,661.5 L1241.3,661.5 L1243.3,661.5 L1245.3,661.5 L1247.3,661.5 L1249.3,661.5 L1251.3,661.5 L1253.3,661.5 L1255.3,661.5 L1257.3,661.5 L1259.3,661.5 L1261.3,661.5 L1263.3,661.5 L1265.3,661.5 L1267.3,661.5 L1269.3,661.5 L1271.3,661.5 L1273.3,661.5 L1275.3,661.5 L1277.3,661.5 L1279.3,661.5 L1281.3,661.5 L1283.3,661.5 L1285.3,661.5 L1287.3,661.5 L1289.3,661.5 L1291.3,661.5 L1293.3,661.5 L1295.3,661.5 L1297.3,661.5 L1299.3,661.5 L1301.3,661.5 L1303.3,661.5 L1305.3,661.5 L1307.3,661.5 L1309.3,661.5 L1311.3,661.5 L1313.3,661.5 L1315.3,661.5 L1317.3,661.5 L1319.3,661.5 L1321.3,661.5 L1323.3,661.5 L1325.3,661.5 L1327.3,661.5 L1329.3,661.5 L1331.3,661.5 L1333.3,661.5 L1335.3,661.5 L1337.3,661.5 L1339.3,661.5 L1341.3,661.5 L1343.3,661.5 L1345.3,661.5 L1347.3,661.5 L1349.3,661.5 L1351.3,661.5 L1353.3,661.5 L1355.3,661.5 L1357.3,661.5 L1359.3,661.5 L1361.3,661.5 L1363.3,661.5 L1365.3,661.5 L1367.3,661.5 L1369.3,661.5 L1371.3,661.5 L1373.3,661.5 L1375.3,661.5 L1377.3,661.5 L1379.3,661.5 L1381.3,661.5 L1383.3,661.5 L1385.3,661.5 L1387.3,661.5 L1389.3,661.5 L1391.3,661.5 L1393.3,661.5 L1395.3,661.5 L1397.3,661.5 L1399.3,661.5 L1401.3,661.5 L1403.3,661.5 L1405.3,661.5 L1407.3,661.5 L1409.3,661.5 L1411.3,661.5 L1413.3,661.5 L1415.3,661.5 L1417.3,661.5 L1419.3,661.5 L1421.3,661.5 L1423.3,661.5 L1425.3,661.5 L1427.3,661.5 L1429.3,661.5 L1431.3,661.5 L1433.3,661.5 L1435.3,661.5 L1437.0,661.5" fill="none" stroke="#7F7F7F" stroke-width="6" stroke-linecap="round" stroke-linejoin="round"/>
<line x1="735.5" y1="835.6" x2="1449.2" y2="835.6" stroke="#000" stroke-width="6" stroke-linecap="butt"/>
<line x1="854.6" y1="838.6" x2="854.6" y2="826.5" stroke="#000" stroke-width="5.5" stroke-linecap="butt"/>
<line x1="1151.2" y1="838.6" x2="1151.2" y2="826.5" stroke="#000" stroke-width="5.5" stroke-linecap="butt"/>
<line x1="1446.5" y1="838.6" x2="1446.5" y2="826.5" stroke="#000" stroke-width="5.5" stroke-linecap="butt"/>
<path d="M738.0,825.1 L741.0,825.9 L743.9,828.4 L746.9,834.6 L749.8,827.2 L752.8,829.5 L755.8,822.9 L758.7,821.5 L761.7,815.0 L764.6,818.2 L767.6,819.4 L770.6,821.7 L773.5,814.8 L776.5,815.0 L779.4,811.1 L782.4,808.4 L785.4,808.9 L788.3,815.4 L791.3,823.4 L794.2,818.9 L797.2,807.4 L800.2,803.5 L803.1,804.1 L806.1,813.5 L809.0,815.6 L812.0,806.8 L815.0,805.7 L817.9,810.1 L820.9,813.0 L823.8,818.4 L826.8,812.5 L829.8,806.3 L832.7,815.1 L835.7,815.4 L838.6,813.5 L841.6,815.9 L844.6,821.8 L847.5,817.1 L850.5,815.2 L853.4,813.7 L856.4,812.7 L859.4,811.3 L862.3,811.7 L865.3,801.3 L868.2,805.0 L871.2,798.0 L874.2,796.8 L877.1,804.5 L880.1,813.4 L883.0,818.6 L886.0,814.3 L889.0,805.9 L891.9,802.2 L894.9,804.8 L897.8,799.3 L900.8,784.7 L903.8,793.3 L906.7,800.1 L909.7,793.4 L912.6,799.2 L915.6,803.6 L918.6,792.0 L921.5,790.7 L924.5,783.7 L927.4,774.2 L930.4,779.6 L933.4,781.0 L936.3,772.0 L939.3,784.1 L942.2,778.3 L945.2,761.6 L948.2,757.6 L951.1,764.5 L954.1,765.2 L957.0,757.9 L960.0,753.9 L963.0,752.3 L965.9,753.4 L968.9,754.1 L971.8,748.4 L974.8,742.7 L977.8,739.1 L980.7,736.3 L983.7,732.7 L986.6,733.7 L989.6,718.6 L992.6,712.4 L995.5,719.9 L998.5,721.3 L1001.4,710.6 L1004.4,705.6 L1007.4,704.5 L1010.3,698.9 L1013.3,703.0 L1016.2,701.7 L1019.2,689.0 L1022.2,693.0 L1025.1,694.8 L1028.1,699.2 L1031.0,689.9 L1034.0,686.3 L1037.0,681.8 L1039.9,677.9 L1042.9,681.3 L1045.8,686.2 L1048.8,677.9 L1051.8,678.3 L1054.7,678.6 L1057.7,680.8 L1060.6,681.9 L1063.6,688.7 L1066.6,690.0 L1069.5,686.3 L1072.5,685.2 L1075.4,686.7 L1078.4,701.8 L1081.4,694.9 L1084.3,692.5 L1087.3,687.4 L1090.2,695.4 L1093.2,698.8 L1096.2,697.4 L1099.1,699.9 L1102.1,712.7 L1105.0,711.9 L1108.0,704.0 L1111.0,705.7 L1113.9,707.7 L1116.9,706.3 L1119.8,719.6 L1122.8,717.7 L1125.8,719.3 L1128.7,719.0 L1131.7,723.6 L1134.6,718.9 L1137.6,711.3 L1140.6,722.8 L1143.5,731.0 L1146.5,732.1 L1149.4,739.5 L1152.4,742.4 L1155.4,760.6 L1158.3,770.3 L1161.3,776.9 L1164.2,776.2 L1167.2,778.2 L1170.2,767.6 L1173.1,774.3 L1176.1,779.3 L1179.0,785.0 L1182.0,790.1 L1185.0,796.1 L1187.9,802.0 L1190.9,794.1 L1193.8,800.1 L1196.8,795.2 L1199.8,802.2 L1202.7,813.9 L1205.7,812.9 L1208.6,813.2 L1211.6,815.4 L1214.6,816.1 L1217.5,815.0 L1220.5,817.6 L1223.4,817.9 L1226.4,813.8 L1229.4,813.9 L1232.3,816.2 L1235.3,814.4 L1238.2,817.9 L1241.2,816.9 L1244.2,817.9 L1247.1,817.6 L1250.1,827.5 L1253.0,816.7 L1256.0,821.4 L1259.0,818.3 L1261.9,824.8 L1264.9,824.3 L1267.8,821.7 L1270.8,825.5 L1273.8,826.8 L1276.7,823.2 L1279.7,818.4 L1282.6,830.6 L1285.6,824.3 L1288.6,816.8 L1291.5,821.3 L1294.5,818.9 L1297.4,834.6 L1300.4,833.8 L1303.4,828.7 L1306.3,829.0 L1309.3,826.9 L1312.2,821.9 L1315.2,826.9 L1318.2,821.7 L1321.1,820.3 L1324.1,819.4 L1327.0,811.0 L1330.0,817.3 L1333.0,811.1 L1335.9,820.1 L1338.9,817.8 L1341.8,818.5 L1344.8,822.4 L1347.8,815.5 L1350.7,811.6 L1353.7,814.6 L1356.6,817.0 L1359.6,812.0 L1362.6,814.0 L1365.5,820.9 L1368.5,834.9 L1371.4,824.1 L1374.4,818.1 L1377.4,829.7 L1380.3,835.6 L1383.3,830.1 L1386.2,826.0 L1389.2,831.3 L1392.2,826.2 L1395.1,822.5 L1398.1,827.7 L1401.0,825.1 L1404.0,816.7 L1407.0,823.2 L1409.9,828.4 L1412.9,821.7 L1415.8,819.5 L1418.8,822.2 L1421.8,824.4 L1424.7,822.8 L1427.7,809.2 L1430.6,820.7 L1433.6,817.6" fill="none" stroke="#A5A5A5" stroke-width="6.5" stroke-linecap="round" stroke-linejoin="round"/>
<path d="M737.3,835.6 L739.3,835.6 L741.3,835.6 L743.3,835.6 L745.3,835.6 L747.3,835.6 L749.3,835.6 L751.3,835.6 L753.3,835.6 L755.3,835.6 L757.3,835.6 L759.3,835.6 L761.3,835.6 L763.3,835.6 L765.3,835.6 L767.3,835.6 L769.3,835.6 L771.3,835.6 L773.3,835.6 L775.3,835.6 L777.3,835.6 L779.3,835.6 L781.3,835.6 L783.3,835.6 L785.3,835.6 L787.3,835.6 L789.3,835.6 L791.3,835.6 L793.3,835.6 L795.3,835.6 L797.3,835.6 L799.3,835.6 L801.3,835.6 L803.3,835.6 L805.3,835.6 L807.3,835.6 L809.3,835.6 L811.3,835.6 L813.3,835.6 L815.3,835.6 L817.3,835.6 L819.3,835.6 L821.3,835.6 L823.3,835.6 L825.3,835.6 L827.3,835.6 L829.3,835.6 L831.3,835.6 L833.3,835.6 L835.3,835.6 L837.3,835.6 L839.3,835.6 L841.3,835.6 L843.3,835.6 L845.3,835.6 L847.3,835.6 L849.3,835.6 L851.3,835.6 L853.3,835.6 L855.3,835.6 L857.3,835.6 L859.3,835.6 L861.3,835.6 L863.3,835.6 L865.3,835.6 L867.3,835.6 L869.3,835.6 L871.3,835.6 L873.3,835.6 L875.3,835.6 L877.3,835.6 L879.3,835.6 L881.3,835.6 L883.3,835.6 L885.3,835.6 L887.3,835.6 L889.3,835.6 L891.3,835.6 L893.3,835.6 L895.3,835.6 L897.3,835.6 L899.3,835.6 L901.3,835.6 L903.3,835.6 L905.3,835.6 L907.3,835.6 L909.3,835.6 L911.3,835.6 L913.3,835.6 L915.3,835.6 L917.3,835.6 L919.3,835.6 L921.3,835.6 L923.3,835.6 L925.3,835.6 L927.3,835.6 L929.3,835.6 L931.3,835.6 L933.3,835.6 L935.3,835.6 L937.3,835.6 L939.3,835.6 L941.3,835.6 L943.3,835.6 L945.3,835.6 L947.3,835.6 L949.3,835.6 L951.3,835.6 L953.3,835.6 L955.3,835.6 L957.3,835.6 L959.3,835.6 L961.3,835.6 L963.3,835.6 L965.3,835.6 L967.3,835.6 L969.3,835.6 L971.3,835.6 L973.3,835.6 L975.3,835.6 L977.3,835.6 L979.3,835.6 L981.3,835.6 L983.3,835.6 L985.3,835.6 L987.3,835.6 L989.3,835.6 L991.3,835.6 L993.3,835.6 L995.3,835.6 L997.3,835.6 L999.3,835.6 L1001.3,835.6 L1003.3,835.6 L1005.3,835.6 L1007.3,835.6 L1009.3,835.6 L1011.3,835.6 L1013.3,835.6 L1015.3,835.6 L1017.3,835.6 L1019.3,835.6 L1021.3,835.6 L1023.3,835.6 L1025.3,835.6 L1027.3,835.6 L1029.3,835.6 L1031.3,835.6 L1033.3,835.6 L1035.3,835.6 L1037.3,835.6 L1039.3,835.6 L1041.3,835.6 L1043.3,835.6 L1045.3,835.6 L1047.3,835.6 L1049.3,835.6 L1051.3,835.6 L1053.3,835.6 L1055.3,835.6 L1057.3,835.5 L1059.3,835.5 L1061.3,835.5 L1063.3,835.4 L1065.3,835.4 L1067.3,835.3 L1069.3,835.2 L1071.3,835.0 L1073.3,834.8 L1075.3,834.5 L1077.3,834.2 L1079.3,833.7 L1081.3,833.2 L1083.3,832.5 L1085.3,831.6 L1087.3,830.6 L1089.3,829.3 L1091.3,827.8 L1093.3,826.0 L1095.3,824.0 L1097.3,821.6 L1099.3,818.8 L1101.3,815.8 L1103.3,812.3 L1105.3,808.6 L1107.3,804.5 L1109.3,800.2 L1111.3,795.6 L1113.3,790.9 L1115.3,786.1 L1117.3,781.3 L1119.3,776.6 L1121.3,772.0 L1123.3,767.8 L1125.3,763.9 L1127.3,760.6 L1129.3,757.8 L1131.3,755.7 L1133.3,754.3 L1135.3,753.6 L1137.3,753.8 L1139.3,754.6 L1141.3,756.3 L1143.3,758.6 L1145.3,761.5 L1147.3,765.1 L1149.3,769.0 L1151.3,773.4 L1153.3,778.0 L1155.3,782.7 L1157.3,787.6 L1159.3,792.3 L1161.3,797.0 L1163.3,801.5 L1165.3,805.8 L1167.3,809.7 L1169.3,813.4 L1171.3,816.7 L1173.3,819.7 L1175.3,822.3 L1177.3,824.6 L1179.3,826.6 L1181.3,828.3 L1183.3,829.7 L1185.3,830.9 L1187.3,831.9 L1189.3,832.7 L1191.3,833.4 L1193.3,833.9 L1195.3,834.3 L1197.3,834.6 L1199.3,834.9 L1201.3,835.1 L1203.3,835.2 L1205.3,835.3 L1207.3,835.4 L1209.3,835.5 L1211.3,835.5 L1213.3,835.5 L1215.3,835.6 L1217.3,835.6 L1219.3,835.6 L1221.3,835.6 L1223.3,835.6 L1225.3,835.6 L1227.3,835.6 L1229.3,835.6 L1231.3,835.6 L1233.3,835.6 L1235.3,835.6 L1237.3,835.6 L1239.3,835.6 L1241.3,835.6 L1243.3,835.6 L1245.3,835.6 L1247.3,835.6 L1249.3,835.6 L1251.3,835.6 L1253.3,835.6 L1255.3,835.6 L1257.3,835.6 L1259.3,835.6 L1261.3,835.6 L1263.3,835.6 L1265.3,835.6 L1267.3,835.6 L1269.3,835.6 L1271.3,835.6 L1273.3,835.6 L1275.3,835.6 L1277.3,835.6 L1279.3,835.6 L1281.3,835.6 L1283.3,835.6 L1285.3,835.6 L1287.3,835.6 L1289.3,835.6 L1291.3,835.6 L1293.3,835.6 L1295.3,835.6 L1297.3,835.6 L1299.3,835.6 L1301.3,835.6 L1303.3,835.6 L1305.3,835.6 L1307.3,835.6 L1309.3,835.6 L1311.3,835.6 L1313.3,835.6 L1315.3,835.6 L1317.3,835.6 L1319.3,835.6 L1321.3,835.6 L1323.3,835.6 L1325.3,835.6 L1327.3,835.6 L1329.3,835.6 L1331.3,835.6 L1333.3,835.6 L1335.3,835.6 L1337.3,835.6 L1339.3,835.6 L1341.3,835.6 L1343.3,835.6 L1345.3,835.6 L1347.3,835.6 L1349.3,835.6 L1351.3,835.6 L1353.3,835.6 L1355.3,835.6 L1357.3,835.6 L1359.3,835.6 L1361.3,835.6 L1363.3,835.6 L1365.3,835.6 L1367.3,835.6 L1369.3,835.6 L1371.3,835.6 L1373.3,835.6 L1375.3,835.6 L1377.3,835.6 L1379.3,835.6 L1381.3,835.6 L1383.3,835.6 L1385.3,835.6 L1387.3,835.6 L1389.3,835.6 L1391.3,835.6 L1393.3,835.6 L1395.3,835.6 L1397.3,835.6 L1399.3,835.6 L1401.3,835.6 L1403.3,835.6 L1405.3,835.6 L1407.3,835.6 L1409.3,835.6 L1411.3,835.6 L1413.3,835.6 L1415.3,835.6 L1417.3,835.6 L1419.3,835.6 L1421.3,835.6 L1423.3,835.6 L1425.3,835.6 L1427.3,835.6 L1429.3,835.6 L1431.3,835.6 L1433.3,835.6 L1435.3,835.6 L1437.0,835.6" fill="none" stroke="#000" stroke-width="6" stroke-linecap="round" stroke-linejoin="round"/>
<path d="M737.3,835.6 L739.3,835.6 L741.3,835.6 L743.3,835.6 L745.3,835.6 L747.3,835.6 L749.3,835.6 L751.3,835.6 L753.3,835.6 L755.3,835.6 L757.3,835.6 L759.3,835.6 L761.3,835.6 L763.3,835.6 L765.3,835.6 L767.3,835.6 L769.3,835.6 L771.3,835.6 L773.3,835.6 L775.3,835.6 L777.3,835.6 L779.3,835.6 L781.3,835.6 L783.3,835.6 L785.3,835.6 L787.3,835.6 L789.3,835.6 L791.3,835.6 L793.3,835.6 L795.3,835.6 L797.3,835.6 L799.3,835.6 L801.3,835.6 L803.3,835.6 L805.3,835.6 L807.3,835.6 L809.3,835.6 L811.3,835.6 L813.3,835.6 L815.3,835.6 L817.3,835.6 L819.3,835.6 L821.3,835.6 L823.3,835.6 L825.3,835.6 L827.3,835.6 L829.3,835.6 L831.3,835.6 L833.3,835.6 L835.3,835.6 L837.3,835.6 L839.3,835.6 L841.3,835.6 L843.3,835.6 L845.3,835.6 L847.3,835.6 L849.3,835.6 L851.3,835.6 L853.3,835.6 L855.3,835.6 L857.3,835.6 L859.3,835.6 L861.3,835.6 L863.3,835.6 L865.3,835.6 L867.3,835.6 L869.3,835.6 L871.3,835.6 L873.3,835.6 L875.3,835.6 L877.3,835.6 L879.3,835.6 L881.3,835.6 L883.3,835.6 L885.3,835.6 L887.3,835.6 L889.3,835.6 L891.3,835.6 L893.3,835.6 L895.3,835.6 L897.3,835.6 L899.3,835.6 L901.3,835.6 L903.3,835.6 L905.3,835.6 L907.3,835.6 L909.3,835.6 L911.3,835.6 L913.3,835.6 L915.3,835.6 L917.3,835.6 L919.3,835.6 L921.3,835.6 L923.3,835.6 L925.3,835.6 L927.3,835.6 L929.3,835.6 L931.3,835.6 L933.3,835.6 L935.3,835.6 L937.3,835.6 L939.3,835.6 L941.3,835.6 L943.3,835.6 L945.3,835.6 L947.3,835.6 L949.3,835.6 L951.3,835.6 L953.3,835.6 L955.3,835.6 L957.3,835.6 L959.3,835.6 L961.3,835.6 L963.3,835.6 L965.3,835.6 L967.3,835.6 L969.3,835.6 L971.3,835.6 L973.3,835.6 L975.3,835.6 L977.3,835.6 L979.3,835.6 L981.3,835.6 L983.3,835.6 L985.3,835.6 L987.3,835.6 L989.3,835.6 L991.3,835.6 L993.3,835.6 L995.3,835.6 L997.3,835.6 L999.3,835.6 L1001.3,835.6 L1003.3,835.6 L1005.3,835.6 L1007.3,835.6 L1009.3,835.5 L1011.3,835.5 L1013.3,835.5 L1015.3,835.4 L1017.3,835.3 L1019.3,835.2 L1021.3,835.1 L1023.3,834.9 L1025.3,834.6 L1027.3,834.3 L1029.3,833.8 L1031.3,833.2 L1033.3,832.5 L1035.3,831.5 L1037.3,830.3 L1039.3,828.8 L1041.3,827.0 L1043.3,824.8 L1045.3,822.3 L1047.3,819.2 L1049.3,815.6 L1051.3,811.5 L1053.3,806.9 L1055.3,801.6 L1057.3,795.9 L1059.3,789.5 L1061.3,782.7 L1063.3,775.5 L1065.3,768.0 L1067.3,760.3 L1069.3,752.5 L1071.3,744.7 L1073.3,737.3 L1075.3,730.3 L1077.3,723.8 L1079.3,718.1 L1081.3,713.4 L1083.3,709.7 L1085.3,707.1 L1087.3,705.8 L1089.3,705.7 L1091.3,706.9 L1093.3,709.4 L1095.3,713.0 L1097.3,717.6 L1099.3,723.2 L1101.3,729.6 L1103.3,736.6 L1105.3,744.0 L1107.3,751.7 L1109.3,759.5 L1111.3,767.2 L1113.3,774.8 L1115.3,782.0 L1117.3,788.9 L1119.3,795.3 L1121.3,801.1 L1123.3,806.4 L1125.3,811.1 L1127.3,815.2 L1129.3,818.9 L1131.3,822.0 L1133.3,824.6 L1135.3,826.8 L1137.3,828.7 L1139.3,830.2 L1141.3,831.4 L1143.3,832.4 L1145.3,833.1 L1147.3,833.7 L1149.3,834.2 L1151.3,834.6 L1153.3,834.9 L1155.3,835.1 L1157.3,835.2 L1159.3,835.3 L1161.3,835.4 L1163.3,835.5 L1165.3,835.5 L1167.3,835.5 L1169.3,835.6 L1171.3,835.6 L1173.3,835.6 L1175.3,835.6 L1177.3,835.6 L1179.3,835.6 L1181.3,835.6 L1183.3,835.6 L1185.3,835.6 L1187.3,835.6 L1189.3,835.6 L1191.3,835.6 L1193.3,835.6 L1195.3,835.6 L1197.3,835.6 L1199.3,835.6 L1201.3,835.6 L1203.3,835.6 L1205.3,835.6 L1207.3,835.6 L1209.3,835.6 L1211.3,835.6 L1213.3,835.6 L1215.3,835.6 L1217.3,835.6 L1219.3,835.6 L1221.3,835.6 L1223.3,835.6 L1225.3,835.6 L1227.3,835.6 L1229.3,835.6 L1231.3,835.6 L1233.3,835.6 L1235.3,835.6 L1237.3,835.6 L1239.3,835.6 L1241.3,835.6 L1243.3,835.6 L1245.3,835.6 L1247.3,835.6 L1249.3,835.6 L1251.3,835.6 L1253.3,835.6 L1255.3,835.6 L1257.3,835.6 L1259.3,835.6 L1261.3,835.6 L1263.3,835.6 L1265.3,835.6 L1267.3,835.6 L1269.3,835.6 L1271.3,835.6 L1273.3,835.6 L1275.3,835.6 L1277.3,835.6 L1279.3,835.6 L1281.3,835.6 L1283.3,835.6 L1285.3,835.6 L1287.3,835.6 L1289.3,835.6 L1291.3,835.6 L1293.3,835.6 L1295.3,835.6 L1297.3,835.6 L1299.3,835.6 L1301.3,835.6 L1303.3,835.6 L1305.3,835.6 L1307.3,835.6 L1309.3,835.6 L1311.3,835.6 L1313.3,835.6 L1315.3,835.6 L1317.3,835.6 L1319.3,835.6 L1321.3,835.6 L1323.3,835.6 L1325.3,835.6 L1327.3,835.6 L1329.3,835.6 L1331.3,835.6 L1333.3,835.6 L1335.3,835.6 L1337.3,835.6 L1339.3,835.6 L1341.3,835.6 L1343.3,835.6 L1345.3,835.6 L1347.3,835.6 L1349.3,835.6 L1351.3,835.6 L1353.3,835.6 L1355.3,835.6 L1357.3,835.6 L1359.3,835.6 L1361.3,835.6 L1363.3,835.6 L1365.3,835.6 L1367.3,835.6 L1369.3,835.6 L1371.3,835.6 L1373.3,835.6 L1375.3,835.6 L1377.3,835.6 L1379.3,835.6 L1381.3,835.6 L1383.3,835.6 L1385.3,835.6 L1387.3,835.6 L1389.3,835.6 L1391.3,835.6 L1393.3,835.6 L1395.3,835.6 L1397.3,835.6 L1399.3,835.6 L1401.3,835.6 L1403.3,835.6 L1405.3,835.6 L1407.3,835.6 L1409.3,835.6 L1411.3,835.6 L1413.3,835.6 L1415.3,835.6 L1417.3,835.6 L1419.3,835.6 L1421.3,835.6 L1423.3,835.6 L1425.3,835.6 L1427.3,835.6 L1429.3,835.6 L1431.3,835.6 L1433.3,835.6 L1435.3,835.6 L1437.0,835.6" fill="none" stroke="#00B050" stroke-width="6" stroke-linecap="round" stroke-linejoin="round"/>
<path d="M737.3,835.6 L739.3,835.6 L741.3,835.6 L743.3,835.6 L745.3,835.6 L747.3,835.6 L749.3,835.6 L751.3,835.6 L753.3,835.6 L755.3,835.6 L757.3,835.6 L759.3,835.6 L761.3,835.6 L763.3,835.6 L765.3,835.6 L767.3,835.6 L769.3,835.6 L771.3,835.6 L773.3,835.6 L775.3,835.6 L777.3,835.6 L779.3,835.6 L781.3,835.6 L783.3,835.6 L785.3,835.6 L787.3,835.6 L789.3,835.6 L791.3,835.6 L793.3,835.6 L795.3,835.6 L797.3,835.6 L799.3,835.6 L801.3,835.6 L803.3,835.6 L805.3,835.6 L807.3,835.6 L809.3,835.6 L811.3,835.6 L813.3,835.6 L815.3,835.6 L817.3,835.6 L819.3,835.6 L821.3,835.6 L823.3,835.6 L825.3,835.6 L827.3,835.6 L829.3,835.6 L831.3,835.6 L833.3,835.6 L835.3,835.6 L837.3,835.6 L839.3,835.6 L841.3,835.6 L843.3,835.6 L845.3,835.6 L847.3,835.6 L849.3,835.6 L851.3,835.6 L853.3,835.6 L855.3,835.6 L857.3,835.6 L859.3,835.6 L861.3,835.6 L863.3,835.6 L865.3,835.6 L867.3,835.6 L869.3,835.6 L871.3,835.6 L873.3,835.6 L875.3,835.6 L877.3,835.6 L879.3,835.6 L881.3,835.6 L883.3,835.6 L885.3,835.6 L887.3,835.6 L889.3,835.6 L891.3,835.6 L893.3,835.6 L895.3,835.6 L897.3,835.6 L899.3,835.6 L901.3,835.6 L903.3,835.6 L905.3,835.6 L907.3,835.6 L909.3,835.6 L911.3,835.6 L913.3,835.6 L915.3,835.6 L917.3,835.6 L919.3,835.6 L921.3,835.6 L923.3,835.6 L925.3,835.6 L927.3,835.6 L929.3,835.6 L931.3,835.6 L933.3,835.6 L935.3,835.6 L937.3,835.6 L939.3,835.6 L941.3,835.6 L943.3,835.6 L945.3,835.6 L947.3,835.6 L949.3,835.6 L951.3,835.6 L953.3,835.6 L955.3,835.6 L957.3,835.5 L959.3,835.5 L961.3,835.5 L963.3,835.4 L965.3,835.3 L967.3,835.2 L969.3,835.1 L971.3,834.9 L973.3,834.6 L975.3,834.2 L977.3,833.7 L979.3,833.1 L981.3,832.3 L983.3,831.3 L985.3,830.0 L987.3,828.4 L989.3,826.4 L991.3,824.1 L993.3,821.3 L995.3,818.0 L997.3,814.1 L999.3,809.7 L1001.3,804.6 L1003.3,799.0 L1005.3,792.7 L1007.3,785.9 L1009.3,778.6 L1011.3,770.8 L1013.3,762.8 L1015.3,754.5 L1017.3,746.3 L1019.3,738.2 L1021.3,730.4 L1023.3,723.1 L1025.3,716.6 L1027.3,710.9 L1029.3,706.3 L1031.3,702.9 L1033.3,700.7 L1035.3,699.9 L1037.3,700.5 L1039.3,702.4 L1041.3,705.5 L1043.3,709.9 L1045.3,715.4 L1047.3,721.8 L1049.3,728.9 L1051.3,736.6 L1053.3,744.6 L1055.3,752.9 L1057.3,761.1 L1059.3,769.2 L1061.3,777.0 L1063.3,784.5 L1065.3,791.4 L1067.3,797.7 L1069.3,803.5 L1071.3,808.7 L1073.3,813.3 L1075.3,817.2 L1077.3,820.7 L1079.3,823.6 L1081.3,826.0 L1083.3,828.0 L1085.3,829.7 L1087.3,831.0 L1089.3,832.1 L1091.3,832.9 L1093.3,833.6 L1095.3,834.1 L1097.3,834.5 L1099.3,834.8 L1101.3,835.0 L1103.3,835.2 L1105.3,835.3 L1107.3,835.4 L1109.3,835.5 L1111.3,835.5 L1113.3,835.5 L1115.3,835.6 L1117.3,835.6 L1119.3,835.6 L1121.3,835.6 L1123.3,835.6 L1125.3,835.6 L1127.3,835.6 L1129.3,835.6 L1131.3,835.6 L1133.3,835.6 L1135.3,835.6 L1137.3,835.6 L1139.3,835.6 L1141.3,835.6 L1143.3,835.6 L1145.3,835.6 L1147.3,835.6 L1149.3,835.6 L1151.3,835.6 L1153.3,835.6 L1155.3,835.6 L1157.3,835.6 L1159.3,835.6 L1161.3,835.6 L1163.3,835.6 L1165.3,835.6 L1167.3,835.6 L1169.3,835.6 L1171.3,835.6 L1173.3,835.6 L1175.3,835.6 L1177.3,835.6 L1179.3,835.6 L1181.3,835.6 L1183.3,835.6 L1185.3,835.6 L1187.3,835.6 L1189.3,835.6 L1191.3,835.6 L1193.3,835.6 L1195.3,835.6 L1197.3,835.6 L1199.3,835.6 L1201.3,835.6 L1203.3,835.6 L1205.3,835.6 L1207.3,835.6 L1209.3,835.6 L1211.3,835.6 L1213.3,835.6 L1215.3,835.6 L1217.3,835.6 L1219.3,835.6 L1221.3,835.6 L1223.3,835.6 L1225.3,835.6 L1227.3,835.6 L1229.3,835.6 L1231.3,835.6 L1233.3,835.6 L1235.3,835.6 L1237.3,835.6 L1239.3,835.6 L1241.3,835.6 L1243.3,835.6 L1245.3,835.6 L1247.3,835.6 L1249.3,835.6 L1251.3,835.6 L1253.3,835.6 L1255.3,835.6 L1257.3,835.6 L1259.3,835.6 L1261.3,835.6 L1263.3,835.6 L1265.3,835.6 L1267.3,835.6 L1269.3,835.6 L1271.3,835.6 L1273.3,835.6 L1275.3,835.6 L1277.3,835.6 L1279.3,835.6 L1281.3,835.6 L1283.3,835.6 L1285.3,835.6 L1287.3,835.6 L1289.3,835.6 L1291.3,835.6 L1293.3,835.6 L1295.3,835.6 L1297.3,835.6 L1299.3,835.6 L1301.3,835.6 L1303.3,835.6 L1305.3,835.6 L1307.3,835.6 L1309.3,835.6 L1311.3,835.6 L1313.3,835.6 L1315.3,835.6 L1317.3,835.6 L1319.3,835.6 L1321.3,835.6 L1323.3,835.6 L1325.3,835.6 L1327.3,835.6 L1329.3,835.6 L1331.3,835.6 L1333.3,835.6 L1335.3,835.6 L1337.3,835.6 L1339.3,835.6 L1341.3,835.6 L1343.3,835.6 L1345.3,835.6 L1347.3,835.6 L1349.3,835.6 L1351.3,835.6 L1353.3,835.6 L1355.3,835.6 L1357.3,835.6 L1359.3,835.6 L1361.3,835.6 L1363.3,835.6 L1365.3,835.6 L1367.3,835.6 L1369.3,835.6 L1371.3,835.6 L1373.3,835.6 L1375.3,835.6 L1377.3,835.6 L1379.3,835.6 L1381.3,835.6 L1383.3,835.6 L1385.3,835.6 L1387.3,835.6 L1389.3,835.6 L1391.3,835.6 L1393.3,835.6 L1395.3,835.6 L1397.3,835.6 L1399.3,835.6 L1401.3,835.6 L1403.3,835.6 L1405.3,835.6 L1407.3,835.6 L1409.3,835.6 L1411.3,835.6 L1413.3,835.6 L1415.3,835.6 L1417.3,835.6 L1419.3,835.6 L1421.3,835.6 L1423.3,835.6 L1425.3,835.6 L1427.3,835.6 L1429.3,835.6 L1431.3,835.6 L1433.3,835.6 L1435.3,835.6 L1437.0,835.6" fill="none" stroke="#ED7D31" stroke-width="6" stroke-linecap="round" stroke-linejoin="round"/>
<path d="M737.3,835.6 L739.3,835.6 L741.3,835.6 L743.3,835.6 L745.3,835.6 L747.3,835.6 L749.3,835.6 L751.3,835.6 L753.3,835.6 L755.3,835.6 L757.3,835.6 L759.3,835.6 L761.3,835.6 L763.3,835.6 L765.3,835.6 L767.3,835.6 L769.3,835.6 L771.3,835.6 L773.3,835.6 L775.3,835.6 L777.3,835.6 L779.3,835.6 L781.3,835.6 L783.3,835.6 L785.3,835.6 L787.3,835.6 L789.3,835.6 L791.3,835.6 L793.3,835.6 L795.3,835.6 L797.3,835.6 L799.3,835.6 L801.3,835.6 L803.3,835.6 L805.3,835.6 L807.3,835.6 L809.3,835.6 L811.3,835.6 L813.3,835.6 L815.3,835.6 L817.3,835.6 L819.3,835.6 L821.3,835.6 L823.3,835.6 L825.3,835.6 L827.3,835.6 L829.3,835.6 L831.3,835.6 L833.3,835.6 L835.3,835.6 L837.3,835.6 L839.3,835.6 L841.3,835.6 L843.3,835.6 L845.3,835.6 L847.3,835.6 L849.3,835.6 L851.3,835.6 L853.3,835.6 L855.3,835.6 L857.3,835.6 L859.3,835.6 L861.3,835.6 L863.3,835.6 L865.3,835.6 L867.3,835.6 L869.3,835.6 L871.3,835.6 L873.3,835.6 L875.3,835.6 L877.3,835.6 L879.3,835.6 L881.3,835.6 L883.3,835.6 L885.3,835.6 L887.3,835.6 L889.3,835.6 L891.3,835.6 L893.3,835.6 L895.3,835.6 L897.3,835.6 L899.3,835.6 L901.3,835.6 L903.3,835.6 L905.3,835.6 L907.3,835.6 L909.3,835.6 L911.3,835.6 L913.3,835.5 L915.3,835.5 L917.3,835.5 L919.3,835.4 L921.3,835.3 L923.3,835.2 L925.3,835.1 L927.3,834.9 L929.3,834.7 L931.3,834.3 L933.3,833.9 L935.3,833.4 L937.3,832.7 L939.3,831.9 L941.3,830.9 L943.3,829.7 L945.3,828.3 L947.3,826.5 L949.3,824.5 L951.3,822.1 L953.3,819.4 L955.3,816.3 L957.3,812.9 L959.3,809.1 L961.3,805.0 L963.3,800.7 L965.3,796.0 L967.3,791.2 L969.3,786.2 L971.3,781.3 L973.3,776.4 L975.3,771.7 L977.3,767.4 L979.3,763.4 L981.3,759.9 L983.3,757.0 L985.3,754.8 L987.3,753.3 L989.3,752.6 L991.3,752.8 L993.3,753.7 L995.3,755.4 L997.3,757.8 L999.3,760.9 L1001.3,764.5 L1003.3,768.6 L1005.3,773.1 L1007.3,777.9 L1009.3,782.8 L1011.3,787.7 L1013.3,792.6 L1015.3,797.4 L1017.3,802.0 L1019.3,806.3 L1021.3,810.3 L1023.3,814.0 L1025.3,817.3 L1027.3,820.3 L1029.3,822.9 L1031.3,825.1 L1033.3,827.1 L1035.3,828.7 L1037.3,830.1 L1039.3,831.3 L1041.3,832.2 L1043.3,833.0 L1045.3,833.6 L1047.3,834.1 L1049.3,834.4 L1051.3,834.7 L1053.3,835.0 L1055.3,835.1 L1057.3,835.3 L1059.3,835.4 L1061.3,835.4 L1063.3,835.5 L1065.3,835.5 L1067.3,835.5 L1069.3,835.6 L1071.3,835.6 L1073.3,835.6 L1075.3,835.6 L1077.3,835.6 L1079.3,835.6 L1081.3,835.6 L1083.3,835.6 L1085.3,835.6 L1087.3,835.6 L1089.3,835.6 L1091.3,835.6 L1093.3,835.6 L1095.3,835.6 L1097.3,835.6 L1099.3,835.6 L1101.3,835.6 L1103.3,835.6 L1105.3,835.6 L1107.3,835.6 L1109.3,835.6 L1111.3,835.6 L1113.3,835.6 L1115.3,835.6 L1117.3,835.6 L1119.3,835.6 L1121.3,835.6 L1123.3,835.6 L1125.3,835.6 L1127.3,835.6 L1129.3,835.6 L1131.3,835.6 L1133.3,835.6 L1135.3,835.6 L1137.3,835.6 L1139.3,835.6 L1141.3,835.6 L1143.3,835.6 L1145.3,835.6 L1147.3,835.6 L1149.3,835.6 L1151.3,835.6 L1153.3,835.6 L1155.3,835.6 L1157.3,835.6 L1159.3,835.6 L1161.3,835.6 L1163.3,835.6 L1165.3,835.6 L1167.3,835.6 L1169.3,835.6 L1171.3,835.6 L1173.3,835.6 L1175.3,835.6 L1177.3,835.6 L1179.3,835.6 L1181.3,835.6 L1183.3,835.6 L1185.3,835.6 L1187.3,835.6 L1189.3,835.6 L1191.3,835.6 L1193.3,835.6 L1195.3,835.6 L1197.3,835.6 L1199.3,835.6 L1201.3,835.6 L1203.3,835.6 L1205.3,835.6 L1207.3,835.6 L1209.3,835.6 L1211.3,835.6 L1213.3,835.6 L1215.3,835.6 L1217.3,835.6 L1219.3,835.6 L1221.3,835.6 L1223.3,835.6 L1225.3,835.6 L1227.3,835.6 L1229.3,835.6 L1231.3,835.6 L1233.3,835.6 L1235.3,835.6 L1237.3,835.6 L1239.3,835.6 L1241.3,835.6 L1243.3,835.6 L1245.3,835.6 L1247.3,835.6 L1249.3,835.6 L1251.3,835.6 L1253.3,835.6 L1255.3,835.6 L1257.3,835.6 L1259.3,835.6 L1261.3,835.6 L1263.3,835.6 L1265.3,835.6 L1267.3,835.6 L1269.3,835.6 L1271.3,835.6 L1273.3,835.6 L1275.3,835.6 L1277.3,835.6 L1279.3,835.6 L1281.3,835.6 L1283.3,835.6 L1285.3,835.6 L1287.3,835.6 L1289.3,835.6 L1291.3,835.6 L1293.3,835.6 L1295.3,835.6 L1297.3,835.6 L1299.3,835.6 L1301.3,835.6 L1303.3,835.6 L1305.3,835.6 L1307.3,835.6 L1309.3,835.6 L1311.3,835.6 L1313.3,835.6 L1315.3,835.6 L1317.3,835.6 L1319.3,835.6 L1321.3,835.6 L1323.3,835.6 L1325.3,835.6 L1327.3,835.6 L1329.3,835.6 L1331.3,835.6 L1333.3,835.6 L1335.3,835.6 L1337.3,835.6 L1339.3,835.6 L1341.3,835.6 L1343.3,835.6 L1345.3,835.6 L1347.3,835.6 L1349.3,835.6 L1351.3,835.6 L1353.3,835.6 L1355.3,835.6 L1357.3,835.6 L1359.3,835.6 L1361.3,835.6 L1363.3,835.6 L1365.3,835.6 L1367.3,835.6 L1369.3,835.6 L1371.3,835.6 L1373.3,835.6 L1375.3,835.6 L1377.3,835.6 L1379.3,835.6 L1381.3,835.6 L1383.3,835.6 L1385.3,835.6 L1387.3,835.6 L1389.3,835.6 L1391.3,835.6 L1393.3,835.6 L1395.3,835.6 L1397.3,835.6 L1399.3,835.6 L1401.3,835.6 L1403.3,835.6 L1405.3,835.6 L1407.3,835.6 L1409.3,835.6 L1411.3,835.6 L1413.3,835.6 L1415.3,835.6 L1417.3,835.6 L1419.3,835.6 L1421.3,835.6 L1423.3,835.6 L1425.3,835.6 L1427.3,835.6 L1429.3,835.6 L1431.3,835.6 L1433.3,835.6 L1435.3,835.6 L1437.0,835.6" fill="none" stroke="#8CC168" stroke-width="6" stroke-linecap="round" stroke-linejoin="round"/>
<path d="M737.3,835.6 L739.3,835.6 L741.3,835.6 L743.3,835.6 L745.3,835.6 L747.3,835.6 L749.3,835.6 L751.3,835.6 L753.3,835.6 L755.3,835.6 L757.3,835.6 L759.3,835.6 L761.3,835.6 L763.3,835.6 L765.3,835.6 L767.3,835.6 L769.3,835.6 L771.3,835.6 L773.3,835.6 L775.3,835.6 L777.3,835.6 L779.3,835.6 L781.3,835.6 L783.3,835.6 L785.3,835.6 L787.3,835.6 L789.3,835.6 L791.3,835.6 L793.3,835.6 L795.3,835.6 L797.3,835.6 L799.3,835.6 L801.3,835.6 L803.3,835.6 L805.3,835.6 L807.3,835.6 L809.3,835.6 L811.3,835.6 L813.3,835.6 L815.3,835.6 L817.3,835.6 L819.3,835.6 L821.3,835.6 L823.3,835.6 L825.3,835.6 L827.3,835.6 L829.3,835.6 L831.3,835.6 L833.3,835.6 L835.3,835.6 L837.3,835.6 L839.3,835.6 L841.3,835.6 L843.3,835.6 L845.3,835.6 L847.3,835.6 L849.3,835.6 L851.3,835.6 L853.3,835.6 L855.3,835.6 L857.3,835.6 L859.3,835.6 L861.3,835.5 L863.3,835.5 L865.3,835.5 L867.3,835.4 L869.3,835.4 L871.3,835.3 L873.3,835.2 L875.3,835.0 L877.3,834.9 L879.3,834.6 L881.3,834.4 L883.3,834.0 L885.3,833.6 L887.3,833.0 L889.3,832.4 L891.3,831.6 L893.3,830.7 L895.3,829.7 L897.3,828.5 L899.3,827.1 L901.3,825.6 L903.3,823.8 L905.3,821.9 L907.3,819.8 L909.3,817.6 L911.3,815.3 L913.3,812.8 L915.3,810.3 L917.3,807.8 L919.3,805.3 L921.3,802.8 L923.3,800.5 L925.3,798.3 L927.3,796.4 L929.3,794.8 L931.3,793.4 L933.3,792.4 L935.3,791.8 L937.3,791.6 L939.3,791.8 L941.3,792.4 L943.3,793.3 L945.3,794.6 L947.3,796.2 L949.3,798.1 L951.3,800.3 L953.3,802.6 L955.3,805.0 L957.3,807.5 L959.3,810.1 L961.3,812.6 L963.3,815.0 L965.3,817.4 L967.3,819.6 L969.3,821.7 L971.3,823.6 L973.3,825.4 L975.3,827.0 L977.3,828.4 L979.3,829.6 L981.3,830.7 L983.3,831.6 L985.3,832.3 L987.3,833.0 L989.3,833.5 L991.3,834.0 L993.3,834.3 L995.3,834.6 L997.3,834.8 L999.3,835.0 L1001.3,835.2 L1003.3,835.3 L1005.3,835.4 L1007.3,835.4 L1009.3,835.5 L1011.3,835.5 L1013.3,835.5 L1015.3,835.6 L1017.3,835.6 L1019.3,835.6 L1021.3,835.6 L1023.3,835.6 L1025.3,835.6 L1027.3,835.6 L1029.3,835.6 L1031.3,835.6 L1033.3,835.6 L1035.3,835.6 L1037.3,835.6 L1039.3,835.6 L1041.3,835.6 L1043.3,835.6 L1045.3,835.6 L1047.3,835.6 L1049.3,835.6 L1051.3,835.6 L1053.3,835.6 L1055.3,835.6 L1057.3,835.6 L1059.3,835.6 L1061.3,835.6 L1063.3,835.6 L1065.3,835.6 L1067.3,835.6 L1069.3,835.6 L1071.3,835.6 L1073.3,835.6 L1075.3,835.6 L1077.3,835.6 L1079.3,835.6 L1081.3,835.6 L1083.3,835.6 L1085.3,835.6 L1087.3,835.6 L1089.3,835.6 L1091.3,835.6 L1093.3,835.6 L1095.3,835.6 L1097.3,835.6 L1099.3,835.6 L1101.3,835.6 L1103.3,835.6 L1105.3,835.6 L1107.3,835.6 L1109.3,835.6 L1111.3,835.6 L1113.3,835.6 L1115.3,835.6 L1117.3,835.6 L1119.3,835.6 L1121.3,835.6 L1123.3,835.6 L1125.3,835.6 L1127.3,835.6 L1129.3,835.6 L1131.3,835.6 L1133.3,835.6 L1135.3,835.6 L1137.3,835.6 L1139.3,835.6 L1141.3,835.6 L1143.3,835.6 L1145.3,835.6 L1147.3,835.6 L1149.3,835.6 L1151.3,835.6 L1153.3,835.6 L1155.3,835.6 L1157.3,835.6 L1159.3,835.6 L1161.3,835.6 L1163.3,835.6 L1165.3,835.6 L1167.3,835.6 L1169.3,835.6 L1171.3,835.6 L1173.3,835.6 L1175.3,835.6 L1177.3,835.6 L1179.3,835.6 L1181.3,835.6 L1183.3,835.6 L1185.3,835.6 L1187.3,835.6 L1189.3,835.6 L1191.3,835.6 L1193.3,835.6 L1195.3,835.6 L1197.3,835.6 L1199.3,835.6 L1201.3,835.6 L1203.3,835.6 L1205.3,835.6 L1207.3,835.6 L1209.3,835.6 L1211.3,835.6 L1213.3,835.6 L1215.3,835.6 L1217.3,835.6 L1219.3,835.6 L1221.3,835.6 L1223.3,835.6 L1225.3,835.6 L1227.3,835.6 L1229.3,835.6 L1231.3,835.6 L1233.3,835.6 L1235.3,835.6 L1237.3,835.6 L1239.3,835.6 L1241.3,835.6 L1243.3,835.6 L1245.3,835.6 L1247.3,835.6 L1249.3,835.6 L1251.3,835.6 L1253.3,835.6 L1255.3,835.6 L1257.3,835.6 L1259.3,835.6 L1261.3,835.6 L1263.3,835.6 L1265.3,835.6 L1267.3,835.6 L1269.3,835.6 L1271.3,835.6 L1273.3,835.6 L1275.3,835.6 L1277.3,835.6 L1279.3,835.6 L1281.3,835.6 L1283.3,835.6 L1285.3,835.6 L1287.3,835.6 L1289.3,835.6 L1291.3,835.6 L1293.3,835.6 L1295.3,835.6 L1297.3,835.6 L1299.3,835.6 L1301.3,835.6 L1303.3,835.6 L1305.3,835.6 L1307.3,835.6 L1309.3,835.6 L1311.3,835.6 L1313.3,835.6 L1315.3,835.6 L1317.3,835.6 L1319.3,835.6 L1321.3,835.6 L1323.3,835.6 L1325.3,835.6 L1327.3,835.6 L1329.3,835.6 L1331.3,835.6 L1333.3,835.6 L1335.3,835.6 L1337.3,835.6 L1339.3,835.6 L1341.3,835.6 L1343.3,835.6 L1345.3,835.6 L1347.3,835.6 L1349.3,835.6 L1351.3,835.6 L1353.3,835.6 L1355.3,835.6 L1357.3,835.6 L1359.3,835.6 L1361.3,835.6 L1363.3,835.6 L1365.3,835.6 L1367.3,835.6 L1369.3,835.6 L1371.3,835.6 L1373.3,835.6 L1375.3,835.6 L1377.3,835.6 L1379.3,835.6 L1381.3,835.6 L1383.3,835.6 L1385.3,835.6 L1387.3,835.6 L1389.3,835.6 L1391.3,835.6 L1393.3,835.6 L1395.3,835.6 L1397.3,835.6 L1399.3,835.6 L1401.3,835.6 L1403.3,835.6 L1405.3,835.6 L1407.3,835.6 L1409.3,835.6 L1411.3,835.6 L1413.3,835.6 L1415.3,835.6 L1417.3,835.6 L1419.3,835.6 L1421.3,835.6 L1423.3,835.6 L1425.3,835.6 L1427.3,835.6 L1429.3,835.6 L1431.3,835.6 L1433.3,835.6 L1435.3,835.6 L1437.0,835.6" fill="none" stroke="#2F5597" stroke-width="6" stroke-linecap="round" stroke-linejoin="round"/>
<text x="854.6" y="884.5" font-size="32.5" text-anchor="middle">536</text>
<text x="1150" y="884.5" font-size="32.5" text-anchor="middle">531</text>
<text x="1446.5" y="884.5" font-size="32.5" text-anchor="middle">526</text>
<text x="1059" y="947" font-size="33" text-anchor="middle">Binding Energy (eV)</text>
<text x="1473.5" y="31.5" font-size="40">B</text>
<text x="740" y="236.3" font-size="32.7">APB</text>
<text x="741" y="386.3" font-size="32.7">ABB</text>
<text x="758" y="612.3" font-size="32.7">PB</text>
<text x="774" y="771" font-size="32.7">BB</text>
<text x="951" y="71" font-size="32.7">O-C=O</text>
<text x="1075" y="107" font-size="32.7">C=O</text>
<text x="1162" y="161" font-size="32.7">OH</text>
<text x="849" y="187" font-size="32.7">COH</text>
<line x1="1001.2" y1="83.4" x2="1005.6" y2="139.3" stroke="#000" stroke-width="2.8" stroke-linecap="butt"/>
<line x1="1104.5" y1="122" x2="1072.5" y2="191" stroke="#000" stroke-width="2.8" stroke-linecap="butt"/>
<line x1="884" y1="200.5" x2="925.7" y2="241" stroke="#000" stroke-width="2.8" stroke-linecap="butt"/>
<text x="860.5" y="348.3" font-size="32.7">O=C-O</text>
<text x="1003" y="331.3" font-size="32.7">C=O</text>
<text x="1081" y="338" font-size="32.7">C-O</text>
<text x="1180" y="338" font-size="32.7">OH</text>
<text x="989" y="444.5" font-size="32.7">O-C=O</text>
<text x="1059.5" y="476.7" font-size="32.7">C=O</text>
<text x="948" y="517" font-size="32.7">COO</text>
<text x="879" y="594" font-size="32.7">C-O-C</text>
<text x="1117" y="552.5" font-size="32.7">C-O</text>
<path d="M382.0,1237.3 L383.5,1237.3 L385.0,1237.6 L386.5,1238.1 L388.0,1238.5 L389.5,1238.6 L391.0,1238.8 L392.5,1239.3 L394.0,1239.5 L395.5,1239.3 L397.0,1239.3 L398.5,1239.4 L400.0,1239.6 L401.5,1239.6 L403.0,1239.6 L404.5,1239.7 L406.0,1239.7 L407.5,1239.8 L409.0,1239.8 L410.5,1239.5 L412.0,1239.6 L413.5,1240.1 L415.0,1240.4 L416.5,1240.2 L418.0,1240.0 L419.5,1240.1 L421.0,1240.2 L422.5,1239.7 L424.0,1238.8 L425.5,1238.5 L427.0,1238.9 L428.5,1239.2 L430.0,1239.1 L431.5,1238.9 L433.0,1238.7 L434.5,1238.4 L436.0,1238.3 L437.5,1238.1 L439.0,1238.1 L440.5,1238.3 L442.0,1238.0 L443.5,1237.4 L445.0,1236.9 L446.5,1236.8 L448.0,1236.6 L449.5,1236.4 L451.0,1236.5 L452.5,1236.1 L454.0,1235.5 L455.5,1234.4 L457.0,1233.4 L458.0,1233.1 L458.5,1233.2 L460.0,1233.0 L461.5,1232.7 L461.6,1232.8 L463.0,1233.5 L464.5,1234.0 L465.0,1234.0 L466.0,1236.1 L467.5,1239.7 L469.0,1243.4 L470.5,1246.8 L472.0,1250.4 L473.5,1250.7 L475.0,1250.7 L476.5,1250.5 L478.0,1250.2 L479.5,1249.9 L481.0,1250.1 L482.5,1251.1 L484.0,1252.0 L485.5,1252.4 L487.0,1252.2 L488.5,1251.6 L490.0,1251.2 L491.5,1250.8 L493.0,1250.1 L494.5,1249.7 L496.0,1250.3 L497.5,1250.9 L499.0,1251.0 L500.5,1251.0 L502.0,1250.6 L503.5,1250.1 L505.0,1249.5 L506.5,1249.3 L508.0,1249.2 L509.5,1249.5 L511.0,1249.9 L512.5,1249.7 L514.0,1249.3 L515.5,1249.3 L517.0,1249.2 L518.5,1248.5 L520.0,1248.3 L521.5,1248.4 L523.0,1248.2 L524.5,1248.1 L526.0,1248.3 L527.5,1248.4 L529.0,1248.2 L530.5,1247.8 L532.0,1247.5 L533.5,1247.1 L535.0,1246.8 L536.5,1246.9 L538.0,1247.0 L539.5,1246.9 L541.0,1246.6 L542.5,1246.5 L544.0,1246.3 L545.5,1246.2 L547.0,1246.2 L548.5,1245.9 L550.0,1245.7 L551.5,1245.6 L553.0,1245.5 L554.5,1245.2 L556.0,1245.0 L557.5,1244.7 L559.0,1244.3 L560.5,1244.0 L562.0,1244.1 L563.5,1244.2 L565.0,1244.1 L566.5,1243.6 L568.0,1243.0 L569.5,1243.0 L571.0,1243.3 L572.5,1243.2 L574.0,1243.0 L575.5,1243.0 L577.0,1242.6 L578.5,1242.1 L580.0,1241.7 L581.5,1241.3 L583.0,1241.0 L584.5,1240.9 L586.0,1241.0 L587.5,1240.9 L589.0,1240.7 L590.5,1240.4 L592.0,1240.1 L593.5,1239.8 L595.0,1239.4 L596.5,1239.2 L598.0,1239.5 L599.5,1240.0 L601.0,1240.0 L602.5,1239.2 L604.0,1238.8 L605.5,1239.3 L607.0,1239.6 L608.5,1239.9 L610.0,1240.0 L611.5,1240.4 L611.8,1240.8 L613.0,1240.3 L614.5,1239.4 L616.0,1238.3 L617.5,1237.2 L618.7,1236.6 L619.0,1237.2 L620.5,1239.1 L622.0,1240.9 L623.5,1242.5 L625.0,1244.0 L626.5,1245.2 L628.0,1246.4 L629.5,1246.3 L631.0,1246.5 L632.5,1246.4 L634.0,1246.4 L635.5,1246.6 L637.0,1246.4 L638.5,1246.2 L640.0,1246.2 L641.5,1246.5 L643.0,1246.5 L644.5,1246.1 L646.0,1246.1 L647.5,1246.4 L649.0,1246.2 L650.5,1246.0 L652.0,1246.0 L653.5,1246.1 L655.0,1245.8 L656.5,1245.3 L658.0,1245.2 L659.5,1245.5 L661.0,1245.7 L662.5,1245.7 L664.0,1245.7 L665.5,1245.8 L667.0,1245.9 L668.5,1245.8 L670.0,1245.2 L671.5,1245.1 L673.0,1245.5 L674.5,1246.3 L676.0,1246.9 L677.5,1247.2 L679.0,1247.8 L680.5,1248.7 L682.0,1249.2 L683.5,1248.8 L685.0,1248.4 L686.5,1248.5 L688.0,1248.8 L689.5,1249.0 L691.0,1248.8 L692.5,1248.3 L694.0,1247.7 L695.5,1247.6 L697.0,1247.7 L698.5,1247.6 L700.0,1247.5 L701.5,1247.6 L703.0,1247.7 L704.5,1247.6 L706.0,1247.5 L707.5,1248.8 L709.0,1249.9 L710.5,1250.8 L712.0,1251.8 L713.5,1252.2 L715.0,1252.6 L716.5,1252.4 L718.0,1252.2 L719.5,1252.6 L721.0,1252.8 L722.5,1253.1 L724.0,1252.9 L725.5,1252.6 L727.0,1253.0 L728.5,1253.5 L730.0,1253.5 L731.5,1252.7 L733.0,1252.1 L734.5,1251.4 L736.0,1250.9 L737.5,1250.7 L738.0,1250.8 L739.0,1251.1 L740.5,1251.5 L742.0,1251.5 L743.5,1251.4 L745.0,1251.9 L746.5,1252.2 L748.0,1252.0 L749.5,1252.3 L751.0,1252.9 L751.5,1253.0 L752.5,1252.9 L754.0,1252.7 L755.5,1252.5 L757.0,1252.5 L758.5,1252.5 L760.0,1252.5 L761.5,1252.3 L763.0,1252.1 L764.5,1251.9 L766.0,1251.9 L767.5,1252.0 L769.0,1252.0 L770.5,1252.1 L772.0,1252.2 L773.5,1252.2 L775.0,1251.9 L776.5,1251.4 L777.0,1251.4 L778.0,1252.1 L779.5,1252.8 L781.0,1253.4 L782.5,1254.4 L783.0,1254.8 L784.0,1253.6 L785.5,1251.2 L787.0,1248.7 L788.5,1254.9 L790.0,1261.4 L790.5,1263.9 L791.5,1263.9 L793.0,1263.3 L794.5,1263.0 L796.0,1263.3 L797.5,1263.6 L799.0,1263.5 L800.0,1263.2 L800.5,1263.2 L802.0,1263.2 L803.5,1263.1 L805.0,1262.9 L806.5,1262.6 L808.0,1262.2 L809.5,1261.8 L811.0,1261.6 L812.5,1261.6 L814.0,1261.3 L815.5,1261.1 L817.0,1261.2 L818.5,1261.4 L820.0,1261.2 L821.5,1260.9 L823.0,1260.7 L824.5,1260.7 L826.0,1260.6 L827.5,1260.5 L829.0,1260.2 L830.5,1259.9 L832.0,1259.9 L833.5,1260.0 L835.0,1260.1 L836.5,1260.1 L838.0,1260.2 L839.5,1260.2 L841.0,1259.7 L842.5,1259.2 L844.0,1258.8 L845.0,1258.8 L845.5,1259.3 L847.0,1259.5 L848.5,1259.1 L850.0,1258.6 L851.5,1258.5 L853.0,1258.6 L854.5,1258.8 L856.0,1258.8 L857.5,1258.2 L859.0,1257.8 L860.5,1257.7 L862.0,1257.5 L863.5,1257.2 L865.0,1257.1 L866.5,1257.0 L868.0,1257.2 L869.5,1257.5 L871.0,1257.5 L872.5,1257.1 L874.0,1257.2 L875.5,1257.5 L877.0,1257.3 L878.5,1256.8 L879.6,1256.9 L880.0,1256.9 L881.5,1256.4 L883.0,1256.0 L884.5,1255.4 L886.0,1254.7 L887.0,1254.4 L887.5,1255.1 L889.0,1256.3 L890.5,1257.4 L892.0,1259.2 L893.5,1261.4 L895.0,1263.6 L896.0,1265.1 L896.5,1264.3 L898.0,1262.3 L898.5,1261.9 L899.5,1238.9 L900.6,1213.3 L901.0,1221.8 L902.5,1254.8 L902.8,1261.8 L903.6,1268.7 L904.0,1268.7 L905.5,1268.8 L907.0,1268.9 L908.5,1269.0 L910.0,1268.9 L911.5,1269.0 L913.0,1268.9 L914.5,1268.6 L916.0,1268.4 L917.5,1268.6 L919.0,1268.8 L920.0,1268.9 L920.5,1268.8 L922.0,1268.8 L923.5,1269.0 L925.0,1269.2 L926.5,1268.9 L928.0,1268.6 L929.5,1268.6 L931.0,1268.5 L932.5,1268.2 L934.0,1267.9 L935.5,1267.7 L937.0,1267.6 L938.5,1268.0 L940.0,1268.1 L941.5,1267.8 L943.0,1267.8 L944.5,1268.1 L946.0,1268.2 L947.5,1268.2 L949.0,1268.2 L950.5,1267.7 L952.0,1267.0 L953.5,1266.9 L955.0,1267.1 L956.5,1267.2 L958.0,1267.3 L959.5,1267.2 L961.0,1266.9 L962.5,1266.4 L964.0,1266.1 L965.5,1266.2 L967.0,1266.3 L968.5,1266.6 L970.0,1267.0 L971.5,1267.2 L973.0,1266.6 L974.5,1266.2 L976.0,1266.5 L977.5,1266.7 L979.0,1266.6 L980.0,1266.3 L980.5,1265.7 L982.0,1265.5 L983.5,1265.5 L985.0,1265.2 L986.5,1264.9 L988.0,1265.1 L989.5,1265.5 L991.0,1265.6 L992.5,1265.4 L994.0,1265.4 L995.5,1265.5 L997.0,1265.7 L998.5,1265.6 L1000.0,1265.5 L1001.5,1265.6 L1003.0,1265.6 L1004.5,1265.7 L1006.0,1265.6 L1007.5,1265.2 L1009.0,1265.1 L1010.0,1265.2 L1010.5,1265.3 L1012.0,1264.8 L1013.5,1263.9 L1015.0,1263.1 L1016.5,1262.4 L1017.0,1262.4 L1018.0,1263.1 L1019.5,1263.7 L1021.0,1264.5 L1022.0,1265.2 L1022.5,1265.0 L1024.0,1264.8 L1025.5,1264.9 L1027.0,1265.1 L1028.5,1265.0 L1030.0,1264.7 L1031.0,1264.8 L1031.5,1264.9 L1033.0,1264.8 L1034.5,1264.5 L1036.0,1263.8 L1037.5,1262.8 L1039.0,1261.5 L1040.5,1260.0 L1042.0,1258.8 L1042.7,1258.4 L1043.5,1261.7 L1045.0,1267.1 L1046.5,1272.4 L1047.8,1277.3 L1048.0,1277.6 L1049.5,1278.5 L1051.0,1279.1 L1052.5,1279.8 L1053.0,1280.2 L1054.0,1274.7 L1054.8,1270.2 L1055.5,1218.7 L1056.8,1123.3 L1057.0,1138.8 L1058.5,1256.1 L1058.8,1279.8 L1060.0,1293.7 L1061.5,1293.9 L1063.0,1294.1 L1064.5,1294.1 L1066.0,1294.2 L1067.5,1294.5 L1069.0,1294.4 L1070.0,1294.0 L1070.5,1293.9 L1072.0,1294.1 L1073.5,1294.3 L1075.0,1294.4 L1076.5,1294.6 L1078.0,1294.5 L1079.5,1294.2 L1081.0,1294.3 L1082.5,1294.8 L1084.0,1295.0 L1085.5,1294.5 L1087.0,1294.1 L1088.5,1294.4 L1090.0,1294.8 L1091.5,1294.7 L1093.0,1294.5 L1094.5,1294.5 L1096.0,1294.4 L1097.5,1294.1 L1099.0,1294.1 L1100.5,1294.6 L1102.0,1294.8 L1103.5,1294.4 L1105.0,1294.2 L1106.5,1294.3 L1108.0,1294.4 L1109.5,1294.5 L1111.0,1294.5 L1112.5,1294.5 L1114.0,1294.2 L1115.5,1294.1 L1117.0,1294.5 L1118.5,1295.2 L1120.0,1295.6 L1121.5,1295.3 L1123.0,1294.9 L1124.5,1294.7 L1126.0,1294.9 L1127.5,1295.2 L1129.0,1295.0 L1130.5,1294.9 L1132.0,1294.6 L1133.5,1294.4 L1135.0,1294.5 L1136.4,1294.5 L1136.5,1294.3 L1138.0,1292.6 L1139.4,1290.8 L1139.5,1290.9 L1141.0,1293.5 L1142.0,1295.3 L1142.5,1295.3 L1144.0,1294.7 L1145.5,1294.4 L1147.0,1294.6 L1148.5,1294.7 L1150.0,1294.2 L1151.5,1293.6 L1153.0,1293.3 L1154.5,1293.6 L1156.0,1294.1 L1157.5,1294.4 L1159.0,1294.5 L1160.5,1294.2 L1162.0,1294.0 L1163.5,1294.0 L1165.0,1294.0 L1166.5,1294.0 L1168.0,1293.9 L1169.5,1292.3 L1171.0,1291.0 L1171.6,1290.4 L1172.5,1291.6 L1174.0,1293.8 L1174.5,1294.9 L1175.5,1295.4 L1177.0,1295.5 L1178.5,1295.1 L1180.0,1294.8 L1181.5,1294.8 L1183.0,1294.6 L1184.5,1294.3 L1186.0,1294.6 L1187.5,1295.0 L1189.0,1295.1 L1190.5,1295.4 L1192.0,1295.7 L1193.5,1295.6 L1195.0,1295.3 L1196.5,1295.4 L1198.0,1295.7 L1199.5,1295.7 L1201.0,1293.9 L1202.0,1292.5 L1202.5,1292.9 L1204.0,1295.0 L1204.5,1295.9 L1205.5,1295.7 L1207.0,1295.7 L1208.5,1295.9 L1210.0,1296.3 L1211.5,1296.6 L1213.0,1296.8 L1214.5,1296.9 L1216.0,1296.8 L1217.5,1296.8 L1219.0,1296.6 L1220.5,1296.2 L1222.0,1296.2 L1223.5,1296.4 L1225.0,1296.3 L1226.5,1296.3 L1228.0,1296.5 L1229.5,1296.7 L1230.0,1297.0 L1231.0,1297.5 L1232.5,1298.2 L1234.0,1298.5 L1235.5,1298.4 L1237.0,1299.0 L1238.5,1300.1" fill="none" stroke="#FF0000" stroke-width="5" stroke-linecap="round" stroke-linejoin="round"/>
<path d="M382.0,1431.0 L383.5,1431.2 L385.0,1431.5 L386.5,1431.7 L388.0,1431.9 L389.5,1432.0 L391.0,1432.2 L392.5,1432.5 L394.0,1432.9 L395.5,1433.0 L397.0,1433.0 L398.5,1433.5 L400.0,1433.9 L401.5,1434.2 L403.0,1434.1 L404.5,1433.9 L406.0,1434.0 L407.5,1433.8 L409.0,1434.0 L410.5,1434.3 L412.0,1434.6 L413.5,1434.4 L415.0,1434.2 L416.5,1433.8 L418.0,1433.5 L419.5,1433.7 L421.0,1433.6 L422.5,1432.9 L424.0,1432.7 L425.5,1432.7 L427.0,1432.6 L428.5,1432.6 L430.0,1432.6 L431.5,1432.5 L433.0,1432.3 L434.5,1432.1 L436.0,1432.1 L437.5,1431.9 L439.0,1432.0 L440.5,1432.2 L442.0,1431.8 L443.5,1431.2 L445.0,1430.9 L446.5,1430.9 L448.0,1430.7 L449.5,1430.7 L451.0,1430.8 L452.5,1430.6 L454.0,1430.3 L455.5,1430.2 L457.0,1429.9 L458.5,1428.3 L460.0,1426.8 L461.5,1425.4 L461.6,1425.3 L463.0,1426.4 L464.5,1427.4 L465.0,1427.5 L466.0,1429.8 L467.5,1433.1 L469.0,1435.8 L470.5,1438.7 L472.0,1441.9 L473.5,1445.1 L473.6,1445.5 L475.0,1445.6 L476.5,1445.5 L478.0,1445.0 L479.5,1444.7 L481.0,1444.9 L482.5,1445.3 L484.0,1445.5 L485.5,1445.5 L487.0,1445.0 L488.5,1444.7 L490.0,1444.8 L491.5,1445.1 L493.0,1445.4 L494.5,1445.3 L496.0,1444.9 L497.5,1444.3 L499.0,1444.2 L500.5,1444.4 L502.0,1444.5 L503.5,1444.2 L505.0,1443.8 L506.5,1443.3 L508.0,1442.9 L509.5,1443.0 L511.0,1443.3 L512.5,1443.4 L514.0,1443.5 L515.5,1443.3 L517.0,1443.2 L518.5,1443.1 L520.0,1443.0 L521.5,1443.0 L523.0,1442.8 L524.5,1442.7 L526.0,1442.5 L527.5,1442.3 L529.0,1442.2 L530.5,1442.2 L532.0,1442.2 L533.5,1442.2 L535.0,1441.9 L536.5,1441.7 L538.0,1441.9 L539.5,1441.9 L541.0,1441.4 L542.5,1440.9 L544.0,1440.8 L545.5,1441.0 L547.0,1441.0 L548.5,1440.8 L550.0,1440.8 L551.5,1441.1 L553.0,1440.9 L554.5,1440.5 L556.0,1440.3 L557.5,1439.9 L559.0,1439.3 L560.5,1439.0 L562.0,1439.2 L563.5,1439.2 L565.0,1438.9 L566.5,1438.5 L568.0,1438.6 L569.5,1439.1 L571.0,1439.4 L572.5,1439.2 L574.0,1438.7 L575.5,1438.3 L577.0,1438.0 L578.5,1438.0 L580.0,1438.2 L581.5,1438.1 L583.0,1437.7 L584.5,1437.7 L586.0,1437.9 L587.5,1437.8 L589.0,1437.5 L590.5,1437.3 L592.0,1436.9 L593.5,1436.6 L595.0,1436.6 L596.5,1436.6 L598.0,1436.9 L599.5,1437.2 L601.0,1437.2 L602.5,1436.5 L604.0,1436.0 L605.5,1436.6 L607.0,1437.0 L608.5,1437.4 L610.0,1438.1 L611.5,1438.3 L613.0,1438.2 L614.5,1437.0 L616.0,1436.2 L617.5,1435.1 L619.0,1434.1 L620.0,1433.3 L620.5,1433.6 L622.0,1435.0 L623.5,1436.3 L625.0,1437.8 L626.5,1439.4 L628.0,1441.3 L629.5,1441.6 L631.0,1441.6 L632.5,1441.4 L634.0,1441.5 L635.5,1441.5 L637.0,1441.2 L638.5,1441.0 L640.0,1440.9 L641.5,1440.6 L643.0,1440.6 L644.5,1440.9 L646.0,1440.7 L647.5,1440.6 L649.0,1440.7 L650.5,1440.9 L652.0,1441.4 L653.5,1441.4 L655.0,1440.6 L656.5,1440.0 L658.0,1439.8 L659.5,1439.8 L661.0,1440.2 L662.5,1440.5 L664.0,1440.5 L665.5,1440.5 L667.0,1440.0 L668.5,1439.6 L670.0,1439.6 L671.5,1439.9 L673.0,1439.9 L674.5,1440.2 L676.0,1440.9 L677.5,1441.3 L679.0,1441.0 L680.5,1441.1 L682.0,1442.0 L683.5,1442.2 L685.0,1441.8 L686.5,1441.4 L688.0,1441.3 L689.5,1441.5 L691.0,1441.8 L692.5,1441.7 L694.0,1441.5 L695.5,1441.5 L697.0,1442.0 L698.5,1442.3 L700.0,1441.9 L701.5,1441.2 L703.0,1440.9 L704.5,1441.4 L706.0,1442.1 L707.5,1443.1 L709.0,1444.0 L710.5,1444.1 L712.0,1444.1 L713.5,1444.3 L715.0,1444.7 L716.5,1444.8 L718.0,1445.2 L719.5,1445.6 L721.0,1445.8 L722.5,1446.4 L724.0,1446.6 L725.5,1445.9 L727.0,1445.3 L728.5,1444.8 L730.0,1444.5 L731.5,1444.5 L733.0,1444.0 L734.5,1443.2 L736.0,1442.7 L737.5,1442.6 L738.0,1442.3 L739.0,1442.5 L740.5,1443.1 L742.0,1443.8 L743.5,1444.6 L745.0,1445.0 L746.5,1445.1 L748.0,1445.2 L749.5,1445.0 L751.0,1445.3 L752.5,1445.8 L754.0,1445.8 L755.5,1445.4 L757.0,1445.4 L758.5,1445.4 L760.0,1445.3 L761.5,1445.7 L763.0,1446.2 L764.5,1446.2 L766.0,1445.5 L767.5,1444.7 L769.0,1444.1 L770.5,1443.8 L772.0,1444.1 L773.5,1444.4 L775.0,1444.2 L775.5,1444.0 L776.5,1443.2 L778.0,1441.8 L779.5,1443.0 L781.0,1444.3 L782.5,1445.9 L784.0,1447.7 L785.5,1445.9 L787.0,1443.8 L787.5,1442.9 L788.5,1445.9 L790.0,1450.2 L790.5,1451.3 L791.5,1451.2 L793.0,1451.4 L794.5,1451.3 L796.0,1451.3 L797.5,1451.4 L799.0,1451.5 L800.0,1451.6 L800.5,1452.0 L802.0,1451.8 L803.5,1451.7 L805.0,1451.8 L806.5,1451.6 L808.0,1450.8 L809.5,1450.0 L811.0,1450.0 L812.5,1450.5 L814.0,1450.9 L815.5,1451.1 L817.0,1450.9 L818.5,1450.6 L820.0,1450.4 L821.5,1450.3 L823.0,1450.1 L824.5,1450.0 L826.0,1450.1 L827.5,1450.1 L829.0,1449.9 L830.5,1449.4 L832.0,1449.0 L833.5,1449.1 L835.0,1449.3 L836.5,1449.3 L838.0,1449.2 L839.5,1449.0 L841.0,1448.5 L842.5,1448.0 L844.0,1447.9 L845.0,1448.0 L845.5,1448.2 L847.0,1448.3 L848.5,1448.3 L850.0,1448.3 L851.5,1448.5 L853.0,1448.6 L854.5,1448.6 L856.0,1448.5 L857.5,1448.5 L859.0,1448.3 L860.5,1447.6 L862.0,1447.1 L863.5,1447.3 L865.0,1447.5 L866.5,1447.1 L868.0,1447.1 L869.5,1447.4 L871.0,1447.7 L872.5,1447.5 L874.0,1447.1 L875.5,1446.8 L877.0,1446.9 L878.5,1447.3 L879.6,1447.2 L880.0,1446.6 L881.5,1446.0 L883.0,1445.5 L884.5,1444.9 L885.6,1444.6 L886.0,1445.2 L887.5,1446.5 L889.0,1447.8 L890.5,1449.0 L892.0,1450.2 L893.5,1451.7 L895.0,1452.7 L896.0,1452.9 L896.5,1452.2 L898.0,1451.3 L898.5,1451.0 L899.5,1436.0 L900.6,1419.6 L901.0,1425.4 L902.5,1446.8 L902.8,1451.5 L903.6,1456.7 L904.0,1456.6 L905.5,1456.0 L907.0,1455.6 L908.5,1455.5 L910.0,1455.5 L911.5,1455.7 L913.0,1456.0 L914.5,1456.0 L916.0,1455.7 L917.5,1455.6 L919.0,1455.4 L920.0,1455.4 L920.5,1455.4 L922.0,1455.1 L923.5,1455.0 L925.0,1455.2 L926.5,1455.4 L928.0,1455.5 L929.5,1455.6 L931.0,1455.3 L932.5,1455.0 L934.0,1454.9 L935.5,1454.8 L937.0,1454.9 L938.5,1455.0 L940.0,1455.1 L941.5,1455.1 L943.0,1454.8 L944.5,1454.5 L946.0,1454.0 L947.5,1453.6 L949.0,1453.6 L950.5,1453.5 L952.0,1453.3 L953.5,1453.7 L955.0,1454.2 L956.5,1454.4 L958.0,1454.3 L959.5,1454.1 L961.0,1453.8 L962.5,1453.5 L964.0,1453.5 L965.5,1453.4 L967.0,1453.5 L968.5,1453.4 L970.0,1453.4 L971.5,1453.1 L973.0,1452.7 L974.5,1452.6 L976.0,1452.7 L977.5,1452.5 L979.0,1452.1 L980.0,1452.0 L980.5,1452.2 L982.0,1452.4 L983.5,1452.8 L985.0,1453.1 L986.5,1453.2 L988.0,1453.4 L989.5,1452.9 L991.0,1452.5 L992.5,1452.8 L994.0,1452.6 L995.5,1452.2 L997.0,1452.4 L998.5,1452.8 L1000.0,1452.7 L1001.5,1452.1 L1003.0,1451.6 L1004.5,1451.6 L1006.0,1451.9 L1007.5,1451.9 L1009.0,1451.9 L1010.0,1452.1 L1010.5,1451.8 L1012.0,1450.3 L1013.5,1448.8 L1015.0,1447.4 L1016.5,1446.4 L1017.0,1446.0 L1018.0,1447.4 L1019.5,1449.5 L1021.0,1451.3 L1022.5,1451.0 L1024.0,1450.8 L1025.5,1451.1 L1027.0,1451.5 L1028.5,1451.7 L1030.0,1451.6 L1031.5,1451.6 L1033.0,1451.6 L1034.0,1451.5 L1034.5,1451.4 L1036.0,1451.0 L1037.5,1450.4 L1039.0,1449.2 L1040.5,1447.8 L1041.0,1447.4 L1042.0,1449.8 L1043.5,1453.5 L1045.0,1457.2 L1046.5,1460.3 L1047.8,1462.7 L1048.0,1462.9 L1049.5,1464.3 L1051.0,1465.5 L1052.0,1466.6 L1052.5,1464.8 L1054.0,1458.4 L1054.8,1454.8 L1055.5,1400.5 L1056.8,1300.4 L1057.0,1317.7 L1058.5,1443.7 L1058.8,1469.2 L1060.0,1481.7 L1061.5,1480.9 L1063.0,1480.6 L1064.5,1480.6 L1066.0,1480.6 L1067.5,1480.6 L1069.0,1480.8 L1070.5,1481.1 L1072.0,1481.2 L1073.5,1481.2 L1075.0,1481.2 L1076.5,1480.9 L1078.0,1480.7 L1079.5,1480.7 L1081.0,1480.8 L1082.5,1481.1 L1084.0,1481.1 L1085.5,1480.6 L1087.0,1480.1 L1088.5,1480.1 L1090.0,1480.7 L1091.5,1481.0 L1093.0,1480.7 L1094.5,1480.4 L1096.0,1481.2 L1097.5,1481.7 L1099.0,1481.4 L1100.5,1481.1 L1102.0,1481.0 L1103.5,1480.7 L1105.0,1480.7 L1106.5,1480.9 L1108.0,1480.9 L1109.5,1480.9 L1111.0,1480.8 L1112.5,1480.6 L1114.0,1480.7 L1115.5,1480.9 L1117.0,1480.9 L1118.5,1480.8 L1120.0,1480.7 L1121.5,1480.9 L1123.0,1481.4 L1124.5,1481.5 L1126.0,1481.3 L1127.5,1480.9 L1129.0,1480.7 L1130.5,1480.9 L1132.0,1481.6 L1133.5,1482.1 L1135.0,1481.9 L1136.4,1481.6 L1136.5,1481.3 L1138.0,1480.4 L1139.4,1479.8 L1139.5,1480.2 L1141.0,1480.9 L1142.0,1480.8 L1142.5,1480.4 L1144.0,1480.5 L1145.5,1480.5 L1147.0,1480.3 L1148.5,1480.0 L1150.0,1480.2 L1151.5,1480.9 L1153.0,1481.2 L1154.5,1480.9 L1156.0,1480.8 L1157.5,1480.9 L1159.0,1481.1 L1160.5,1481.2 L1162.0,1481.3 L1163.5,1481.1 L1165.0,1480.9 L1166.5,1481.0 L1168.0,1481.2 L1169.5,1480.6 L1171.0,1479.9 L1171.6,1479.5 L1172.5,1479.9 L1174.0,1480.8 L1174.5,1481.2 L1175.5,1481.6 L1177.0,1482.0 L1178.5,1481.9 L1180.0,1481.5 L1181.5,1481.4 L1183.0,1481.7 L1184.5,1481.8 L1186.0,1481.5 L1187.5,1481.0 L1189.0,1480.8 L1190.5,1481.1 L1192.0,1481.3 L1193.5,1481.5 L1195.0,1481.5 L1196.5,1481.0 L1198.0,1480.8 L1199.5,1481.2 L1201.0,1480.5 L1202.0,1480.1 L1202.5,1480.5 L1204.0,1481.3 L1204.5,1481.2 L1205.5,1481.2 L1207.0,1481.4 L1208.5,1481.9 L1210.0,1482.4 L1211.5,1482.3 L1213.0,1482.3 L1214.5,1482.8 L1216.0,1482.6 L1217.5,1482.2 L1219.0,1482.2 L1220.5,1482.3 L1222.0,1482.2 L1223.5,1481.9 L1225.0,1482.0 L1226.5,1482.6 L1228.0,1483.5 L1229.5,1483.8 L1231.0,1483.9 L1232.0,1484.0 L1232.5,1484.2 L1234.0,1484.9 L1235.5,1485.7 L1237.0,1486.5 L1238.5,1486.9" fill="none" stroke="#A5A5A5" stroke-width="5" stroke-linecap="round" stroke-linejoin="round"/>
<path d="M382.0,1624.3 L383.5,1624.1 L385.0,1624.0 L386.5,1624.0 L388.0,1624.5 L389.5,1625.2 L391.0,1625.4 L392.5,1625.5 L394.0,1625.6 L395.5,1625.4 L397.0,1625.3 L398.5,1625.5 L400.0,1626.0 L401.5,1626.2 L403.0,1625.8 L404.5,1625.9 L406.0,1626.5 L407.5,1627.1 L409.0,1627.4 L410.0,1627.4 L410.5,1625.8 L412.0,1621.6 L413.5,1625.1 L414.5,1627.5 L415.0,1627.3 L416.5,1627.2 L418.0,1627.5 L419.5,1627.8 L421.0,1627.9 L422.5,1627.8 L424.0,1627.2 L425.5,1626.4 L427.0,1626.1 L428.5,1626.4 L430.0,1626.7 L431.5,1626.6 L433.0,1626.5 L434.5,1626.5 L436.0,1626.4 L437.5,1626.1 L439.0,1625.8 L440.5,1625.7 L442.0,1625.7 L443.5,1625.3 L445.0,1624.9 L446.5,1623.6 L448.0,1622.6 L448.7,1622.2 L449.5,1622.4 L451.0,1622.4 L452.5,1622.3 L454.0,1622.3 L455.5,1622.7 L455.6,1622.8 L457.0,1622.1 L458.5,1621.4 L460.0,1620.3 L460.7,1619.7 L461.5,1620.3 L463.0,1621.4 L464.5,1622.6 L466.0,1624.1 L467.5,1627.3 L469.0,1630.1 L470.5,1632.3 L472.0,1634.8 L473.5,1637.9 L473.6,1638.2 L475.0,1638.3 L476.5,1638.4 L478.0,1638.3 L479.5,1638.1 L481.0,1638.2 L482.5,1638.4 L484.0,1638.5 L485.5,1638.4 L487.0,1638.5 L488.5,1638.9 L490.0,1639.1 L491.5,1638.9 L493.0,1638.2 L494.5,1638.2 L496.0,1638.6 L497.5,1638.5 L499.0,1638.1 L500.5,1637.8 L502.0,1637.8 L503.5,1637.9 L505.0,1637.9 L506.5,1637.8 L508.0,1637.5 L509.5,1637.1 L511.0,1636.9 L512.5,1637.0 L514.0,1637.2 L515.5,1637.4 L517.0,1637.2 L518.5,1637.1 L520.0,1636.7 L521.5,1636.4 L523.0,1636.6 L524.5,1636.6 L526.0,1636.1 L527.5,1635.6 L529.0,1635.5 L530.5,1635.9 L532.0,1636.0 L533.5,1635.9 L535.0,1636.2 L536.5,1636.3 L538.0,1636.0 L539.5,1636.1 L541.0,1636.1 L542.5,1635.9 L544.0,1635.7 L545.5,1635.7 L547.0,1636.0 L548.5,1636.1 L550.0,1635.6 L551.5,1635.2 L553.0,1635.5 L554.5,1636.4 L556.0,1636.7 L556.5,1636.3 L557.5,1631.9 L559.0,1625.9 L560.5,1632.2 L561.6,1636.6 L562.0,1636.3 L563.5,1636.1 L565.0,1636.2 L566.5,1636.3 L568.0,1636.5 L569.5,1636.2 L571.0,1635.6 L572.5,1635.2 L574.0,1635.3 L575.5,1635.7 L577.0,1635.6 L578.5,1634.9 L580.0,1634.5 L581.5,1634.6 L583.0,1634.5 L584.5,1634.3 L586.0,1634.3 L587.5,1634.3 L589.0,1634.1 L590.5,1634.0 L592.0,1633.7 L593.5,1633.5 L595.0,1633.3 L596.5,1633.3 L598.0,1633.1 L599.5,1632.8 L601.0,1632.6 L602.5,1632.4 L604.0,1632.3 L605.5,1633.1 L607.0,1633.5 L608.5,1633.7 L610.0,1634.3 L611.5,1634.9 L611.8,1635.0 L613.0,1633.8 L614.5,1632.1 L616.0,1630.1 L617.0,1628.7 L617.5,1629.4 L619.0,1631.4 L620.5,1633.1 L622.0,1634.0 L623.5,1635.0 L625.0,1636.8 L626.5,1638.5 L627.7,1639.5 L628.0,1639.4 L629.5,1639.3 L631.0,1639.1 L632.5,1638.7 L634.0,1638.6 L635.5,1638.7 L637.0,1638.7 L638.5,1638.9 L640.0,1638.9 L641.5,1638.8 L643.0,1638.8 L644.5,1638.7 L646.0,1638.3 L647.5,1637.9 L649.0,1638.0 L650.5,1638.3 L652.0,1638.5 L653.5,1638.7 L655.0,1638.6 L656.5,1638.1 L658.0,1638.0 L659.5,1638.0 L661.0,1638.0 L662.5,1638.3 L664.0,1638.2 L665.5,1637.7 L667.0,1637.2 L668.5,1637.0 L670.0,1637.1 L671.5,1637.3 L673.0,1637.4 L674.5,1637.7 L676.0,1637.7 L677.5,1637.1 L679.0,1636.9 L680.5,1637.1 L682.0,1637.0 L683.5,1636.6 L685.0,1636.6 L686.5,1636.7 L688.0,1636.7 L689.5,1636.4 L691.0,1636.3 L692.5,1636.3 L694.0,1636.3 L695.5,1636.0 L697.0,1635.6 L698.5,1635.7 L700.0,1636.1 L701.5,1636.1 L703.0,1636.0 L704.5,1636.0 L706.0,1636.2 L707.5,1636.3 L709.0,1636.1 L710.5,1636.0 L712.0,1635.9 L713.5,1635.5 L715.0,1635.1 L716.5,1635.2 L718.0,1635.4 L719.5,1635.2 L721.0,1634.9 L722.5,1634.7 L724.0,1634.5 L725.5,1634.5 L727.0,1634.6 L728.5,1634.4 L730.0,1634.4 L731.5,1634.8 L733.0,1634.9 L734.5,1634.6 L736.0,1634.4 L737.5,1634.6 L739.0,1634.3 L740.5,1633.7 L742.0,1633.3 L743.5,1633.2 L745.0,1633.5 L746.5,1634.1 L748.0,1634.2 L749.5,1633.6 L751.0,1633.6 L752.5,1633.8 L754.0,1633.9 L755.5,1634.0 L757.0,1633.9 L758.5,1633.6 L760.0,1633.4 L761.5,1633.7 L763.0,1633.6 L764.5,1633.0 L766.0,1632.7 L767.5,1632.6 L769.0,1632.6 L770.5,1632.8 L772.0,1633.1 L773.5,1633.0 L775.0,1632.7 L776.5,1632.5 L778.0,1632.5 L779.5,1632.5 L781.0,1632.2 L782.5,1631.9 L784.0,1632.0 L785.5,1632.4 L787.0,1632.6 L788.5,1632.4 L790.0,1632.4 L791.5,1632.6 L793.0,1632.5 L794.5,1632.4 L796.0,1632.2 L797.5,1631.9 L799.0,1631.5 L800.5,1631.4 L802.0,1631.2 L803.5,1631.1 L805.0,1631.2 L806.5,1631.3 L808.0,1631.3 L809.5,1631.1 L811.0,1630.6 L812.5,1630.4 L814.0,1630.1 L815.5,1630.1 L817.0,1630.2 L818.5,1630.1 L820.0,1629.9 L821.5,1630.1 L823.0,1630.6 L824.5,1630.8 L826.0,1630.6 L827.5,1629.9 L829.0,1629.4 L830.5,1629.5 L832.0,1629.8 L833.5,1630.0 L835.0,1629.9 L836.5,1629.6 L838.0,1629.2 L839.5,1628.9 L841.0,1628.9 L842.5,1629.0 L844.0,1628.8 L845.0,1628.3 L845.5,1628.2 L847.0,1628.4 L848.5,1628.5 L850.0,1628.7 L851.5,1628.8 L853.0,1628.3 L854.5,1627.7 L856.0,1627.4 L857.5,1627.3 L859.0,1627.4 L860.5,1627.7 L862.0,1627.9 L863.5,1627.8 L865.0,1627.2 L866.5,1626.7 L868.0,1626.5 L869.5,1626.3 L871.0,1626.3 L872.5,1626.4 L874.0,1626.6 L875.5,1626.6 L877.0,1626.2 L878.5,1625.7 L879.6,1625.6 L880.0,1625.5 L881.5,1624.8 L883.0,1624.3 L884.5,1624.0 L886.0,1623.7 L887.0,1623.5 L887.5,1624.3 L889.0,1626.0 L890.5,1627.4 L892.0,1628.8 L893.5,1630.0 L895.0,1631.2 L896.0,1632.2 L896.5,1632.0 L898.0,1630.7 L898.5,1630.2 L899.5,1608.4 L900.6,1584.5 L901.0,1592.9 L902.5,1623.9 L902.8,1629.7 L903.6,1634.9 L904.0,1634.9 L905.5,1634.7 L907.0,1635.1 L908.5,1635.7 L910.0,1636.0 L911.5,1636.3 L913.0,1636.4 L914.5,1636.0 L916.0,1635.6 L917.5,1635.6 L918.7,1635.7 L919.0,1635.3 L920.5,1631.9 L922.0,1628.1 L923.5,1631.2 L925.0,1634.7 L926.0,1637.6 L926.5,1637.9 L928.0,1637.6 L929.5,1637.3 L931.0,1637.1 L932.5,1637.1 L934.0,1637.0 L935.5,1636.7 L937.0,1636.8 L938.5,1636.9 L940.0,1636.8 L941.5,1636.5 L943.0,1636.5 L944.5,1636.6 L946.0,1636.5 L947.5,1636.4 L949.0,1636.7 L950.0,1636.5 L950.5,1636.1 L952.0,1635.7 L953.5,1635.8 L955.0,1636.1 L956.5,1635.9 L958.0,1635.3 L959.5,1635.3 L961.0,1635.5 L962.5,1635.9 L964.0,1636.4 L965.5,1636.3 L967.0,1635.6 L968.5,1635.2 L970.0,1635.4 L971.5,1635.4 L973.0,1635.3 L974.5,1635.3 L976.0,1635.6 L977.5,1635.8 L979.0,1636.0 L980.0,1635.9 L980.5,1635.3 L982.0,1634.1 L983.5,1633.1 L983.8,1632.9 L985.0,1633.6 L986.5,1634.4 L987.7,1635.0 L988.0,1635.2 L989.5,1635.1 L991.0,1634.7 L992.5,1634.1 L994.0,1633.9 L995.5,1633.6 L996.8,1633.2 L997.0,1633.2 L998.5,1633.8 L1000.0,1634.2 L1001.0,1634.4 L1001.5,1634.4 L1003.0,1634.7 L1004.5,1635.0 L1006.0,1635.1 L1007.5,1635.1 L1009.0,1635.1 L1010.0,1634.8 L1010.5,1633.8 L1012.0,1632.6 L1013.5,1631.7 L1014.8,1630.5 L1015.0,1630.7 L1016.5,1631.7 L1018.0,1632.6 L1019.5,1633.7 L1020.8,1634.8 L1021.0,1634.6 L1022.5,1634.0 L1024.0,1633.9 L1025.5,1634.1 L1027.0,1634.5 L1028.5,1634.7 L1030.0,1634.8 L1031.5,1634.8 L1033.0,1634.8 L1034.5,1634.7 L1035.8,1634.8 L1036.0,1634.3 L1037.5,1632.2 L1039.0,1630.4 L1040.5,1628.6 L1042.0,1626.4 L1042.7,1625.4 L1043.5,1629.1 L1045.0,1635.7 L1046.5,1641.6 L1047.8,1646.1 L1048.0,1645.8 L1049.5,1646.0 L1051.0,1646.2 L1052.5,1646.7 L1053.0,1647.4 L1054.0,1643.8 L1054.8,1640.7 L1055.5,1594.0 L1056.8,1506.7 L1057.0,1520.5 L1058.5,1627.9 L1058.8,1649.4 L1060.0,1664.3 L1061.5,1664.4 L1063.0,1664.1 L1064.3,1663.5 L1064.5,1663.4 L1066.0,1664.1 L1067.5,1664.6 L1069.0,1665.2 L1070.0,1665.9 L1070.5,1665.9 L1072.0,1665.8 L1073.5,1665.8 L1075.0,1665.8 L1076.5,1665.9 L1078.0,1666.1 L1079.5,1666.4 L1081.0,1666.4 L1082.5,1666.2 L1084.0,1665.9 L1085.5,1665.4 L1087.0,1665.4 L1088.5,1665.7 L1090.0,1665.8 L1091.5,1665.7 L1093.0,1665.7 L1094.5,1665.9 L1096.0,1666.8 L1097.5,1667.3 L1099.0,1666.8 L1100.5,1666.0 L1102.0,1665.8 L1103.5,1665.9 L1105.0,1665.8 L1106.5,1666.0 L1108.0,1666.4 L1109.5,1664.5 L1111.0,1662.1 L1112.5,1664.0 L1114.0,1665.9 L1115.5,1665.9 L1117.0,1666.1 L1118.5,1666.1 L1120.0,1666.4 L1121.5,1666.8 L1123.0,1666.9 L1124.5,1666.9 L1126.0,1666.9 L1127.5,1666.7 L1129.0,1666.7 L1130.5,1667.0 L1132.0,1666.8 L1133.5,1666.3 L1135.0,1666.2 L1136.4,1666.5 L1136.5,1666.7 L1138.0,1664.9 L1139.4,1663.4 L1139.5,1663.9 L1141.0,1665.7 L1142.4,1667.1 L1142.5,1666.8 L1144.0,1666.5 L1145.5,1666.5 L1147.0,1666.5 L1148.5,1666.5 L1150.0,1666.6 L1151.5,1666.7 L1153.0,1666.9 L1154.5,1667.2 L1156.0,1667.4 L1157.5,1667.1 L1159.0,1666.8 L1160.5,1666.8 L1162.0,1666.8 L1163.5,1666.8 L1165.0,1666.9 L1166.5,1667.1 L1168.0,1667.3 L1169.0,1667.6 L1169.5,1667.0 L1171.0,1664.5 L1171.6,1663.2 L1172.5,1664.2 L1174.0,1666.6 L1174.6,1667.8 L1175.5,1667.7 L1177.0,1667.6 L1178.5,1667.9 L1180.0,1668.3 L1181.5,1668.4 L1183.0,1668.0 L1184.5,1667.7 L1186.0,1667.7 L1187.5,1667.7 L1189.0,1667.8 L1190.5,1668.0 L1192.0,1668.0 L1193.5,1668.1 L1195.0,1668.2 L1196.5,1668.3 L1198.0,1668.3 L1199.5,1668.0 L1201.0,1667.8 L1202.5,1667.7 L1204.0,1667.9 L1205.5,1668.1 L1207.0,1668.1 L1208.5,1667.8 L1210.0,1667.5 L1211.5,1667.6 L1213.0,1668.2 L1214.5,1668.4 L1216.0,1668.1 L1217.5,1667.9 L1219.0,1667.9 L1220.5,1668.0 L1222.0,1667.6 L1223.5,1667.1 L1225.0,1667.1 L1226.5,1667.4 L1228.0,1667.9 L1229.5,1668.3 L1230.0,1668.1 L1231.0,1668.4 L1232.5,1669.0 L1234.0,1669.4 L1235.5,1669.8 L1237.0,1670.2 L1238.5,1670.6" fill="none" stroke="#4472C4" stroke-width="5" stroke-linecap="round" stroke-linejoin="round"/>
<line x1="383.5" y1="1855.9" x2="1240" y2="1855.9" stroke="#000" stroke-width="6.5" stroke-linecap="butt"/>
<line x1="605.2" y1="1855.9" x2="605.2" y2="1844.7" stroke="#000" stroke-width="6" stroke-linecap="butt"/>
<line x1="921" y1="1855.9" x2="921" y2="1844.7" stroke="#000" stroke-width="6" stroke-linecap="butt"/>
<line x1="1237" y1="1855.9" x2="1237" y2="1844.7" stroke="#000" stroke-width="6" stroke-linecap="butt"/>
<path d="M382.0,1810.3 L383.5,1810.7 L385.0,1811.3 L386.5,1811.5 L388.0,1811.5 L389.5,1812.0 L391.0,1812.7 L392.5,1813.2 L394.0,1813.2 L395.5,1812.9 L397.0,1813.0 L398.5,1813.5 L400.0,1814.0 L401.5,1813.9 L403.0,1813.5 L404.5,1813.2 L406.0,1813.1 L407.5,1813.4 L409.0,1813.7 L410.5,1813.5 L412.0,1813.5 L413.5,1813.7 L415.0,1813.7 L416.5,1813.8 L418.0,1813.8 L419.5,1813.6 L421.0,1813.5 L422.5,1813.6 L424.0,1813.6 L425.5,1813.1 L427.0,1812.6 L428.5,1812.1 L430.0,1812.1 L431.5,1812.1 L433.0,1811.9 L434.5,1811.9 L436.0,1811.9 L437.5,1811.3 L439.0,1810.8 L440.5,1810.9 L442.0,1811.0 L443.5,1810.7 L445.0,1810.2 L446.5,1809.6 L448.0,1809.1 L449.5,1809.2 L451.0,1809.6 L452.5,1809.4 L454.0,1808.8 L455.5,1808.1 L457.0,1807.8 L458.5,1807.0 L460.0,1806.2 L461.5,1805.1 L461.6,1805.0 L463.0,1806.0 L464.5,1807.0 L465.0,1807.4 L466.0,1809.3 L467.5,1812.1 L469.0,1815.0 L470.5,1817.6 L472.0,1820.2 L473.5,1823.4 L473.6,1824.1 L475.0,1825.0 L476.5,1825.7 L478.0,1825.9 L479.5,1825.5 L481.0,1825.4 L482.5,1825.8 L484.0,1826.4 L485.5,1826.2 L487.0,1825.8 L488.5,1825.7 L490.0,1825.7 L491.5,1825.3 L493.0,1825.1 L494.5,1825.3 L496.0,1825.3 L497.5,1825.2 L499.0,1825.3 L500.5,1825.1 L502.0,1824.7 L503.5,1824.6 L505.0,1824.7 L506.5,1824.8 L508.0,1824.8 L509.5,1824.8 L511.0,1825.1 L512.5,1825.4 L514.0,1825.2 L515.5,1825.0 L517.0,1824.6 L518.5,1824.2 L520.0,1824.4 L521.5,1824.6 L523.0,1824.7 L524.5,1824.7 L526.0,1824.4 L527.5,1824.0 L529.0,1823.8 L530.5,1824.0 L532.0,1824.1 L533.5,1824.1 L535.0,1823.9 L536.5,1823.8 L538.0,1824.0 L539.5,1824.0 L541.0,1823.4 L542.5,1823.3 L544.0,1823.8 L545.5,1823.9 L547.0,1823.5 L548.5,1823.1 L550.0,1822.8 L551.5,1822.7 L553.0,1822.7 L554.5,1822.6 L556.0,1822.3 L557.5,1822.1 L559.0,1821.9 L560.5,1821.5 L562.0,1821.1 L563.5,1820.9 L565.0,1821.1 L566.5,1821.4 L568.0,1821.5 L569.5,1821.7 L571.0,1821.9 L572.5,1822.0 L574.0,1821.7 L575.5,1821.2 L577.0,1820.5 L578.5,1820.3 L580.0,1820.6 L581.5,1820.7 L583.0,1820.3 L584.5,1819.9 L586.0,1819.8 L587.5,1819.9 L589.0,1820.0 L590.5,1820.0 L592.0,1819.9 L593.5,1819.6 L595.0,1819.5 L596.5,1819.6 L598.0,1819.3 L599.5,1819.0 L601.0,1819.2 L602.5,1819.0 L604.0,1818.4 L605.5,1818.4 L607.0,1818.7 L608.5,1819.4 L610.0,1820.1 L611.5,1820.8 L613.0,1821.4 L614.5,1820.4 L616.0,1819.3 L617.5,1818.1 L619.0,1817.0 L620.5,1818.2 L622.0,1819.3 L623.5,1820.3 L625.0,1821.4 L626.5,1822.8 L628.0,1824.3 L629.5,1825.5 L630.0,1826.0 L631.0,1826.0 L632.5,1825.8 L634.0,1825.7 L635.5,1825.4 L637.0,1825.0 L638.5,1824.7 L640.0,1824.5 L641.5,1824.7 L643.0,1825.1 L644.5,1825.0 L646.0,1824.8 L647.5,1824.3 L649.0,1823.9 L650.5,1824.1 L652.0,1824.4 L653.5,1824.3 L655.0,1824.1 L656.5,1824.2 L658.0,1824.7 L659.5,1824.8 L661.0,1824.6 L662.5,1824.2 L664.0,1823.9 L665.5,1823.6 L667.0,1823.5 L668.5,1823.4 L670.0,1823.1 L671.5,1822.9 L673.0,1823.0 L674.5,1823.1 L676.0,1823.1 L677.5,1822.9 L679.0,1822.6 L680.5,1822.5 L682.0,1822.4 L683.5,1822.4 L685.0,1822.8 L686.5,1823.0 L688.0,1822.8 L689.5,1822.5 L691.0,1822.5 L692.5,1822.3 L694.0,1822.0 L695.5,1821.9 L697.0,1821.8 L698.5,1821.6 L700.0,1821.6 L701.5,1821.6 L703.0,1821.8 L704.5,1822.2 L706.0,1822.2 L707.5,1821.6 L709.0,1821.3 L710.5,1821.4 L712.0,1821.3 L713.5,1821.3 L715.0,1821.3 L716.5,1821.1 L718.0,1820.8 L719.5,1820.7 L721.0,1820.8 L722.5,1820.7 L724.0,1820.5 L725.5,1820.5 L727.0,1820.8 L728.5,1821.1 L730.0,1820.8 L731.5,1820.2 L733.0,1819.9 L734.5,1819.7 L736.0,1819.5 L737.5,1819.5 L739.0,1819.7 L740.5,1819.8 L742.0,1819.8 L743.5,1819.7 L745.0,1819.8 L746.5,1819.9 L748.0,1819.8 L749.5,1820.0 L751.0,1819.8 L752.5,1819.3 L754.0,1819.1 L755.5,1819.2 L757.0,1819.4 L758.5,1819.6 L760.0,1819.3 L761.5,1818.9 L763.0,1818.9 L764.5,1819.1 L766.0,1819.1 L767.5,1818.8 L769.0,1818.4 L770.5,1818.2 L772.0,1818.0 L773.5,1817.6 L775.0,1817.5 L776.5,1817.3 L778.0,1817.2 L779.5,1817.3 L781.0,1817.6 L782.5,1817.8 L784.0,1817.8 L785.5,1817.3 L787.0,1817.1 L788.5,1817.3 L790.0,1817.6 L791.5,1817.5 L793.0,1817.0 L794.5,1816.3 L796.0,1816.6 L797.5,1817.1 L799.0,1817.1 L800.5,1816.7 L802.0,1816.2 L803.5,1816.1 L805.0,1816.3 L806.5,1816.5 L808.0,1816.7 L809.5,1816.7 L811.0,1816.3 L812.5,1816.2 L814.0,1816.5 L815.5,1816.4 L817.0,1816.0 L818.5,1815.8 L820.0,1815.6 L821.5,1815.4 L823.0,1815.4 L824.5,1815.3 L826.0,1815.1 L827.5,1815.0 L829.0,1814.8 L830.5,1814.4 L832.0,1814.3 L833.5,1814.1 L835.0,1813.9 L836.5,1813.9 L838.0,1814.0 L839.5,1813.9 L841.0,1813.8 L842.5,1813.7 L844.0,1813.5 L845.0,1813.3 L845.5,1813.5 L847.0,1813.5 L848.5,1813.6 L850.0,1813.9 L851.5,1813.7 L853.0,1812.9 L854.5,1812.5 L856.0,1812.4 L857.5,1812.5 L859.0,1812.8 L860.5,1812.8 L862.0,1812.7 L863.5,1812.6 L865.0,1812.3 L866.5,1812.0 L868.0,1812.2 L869.5,1812.6 L871.0,1812.5 L872.5,1812.3 L874.0,1811.7 L875.5,1811.2 L877.0,1811.3 L878.5,1811.8 L879.6,1812.3 L880.0,1812.4 L881.5,1811.8 L883.0,1811.0 L884.5,1810.1 L886.0,1809.0 L886.2,1808.8 L887.5,1809.9 L889.0,1811.2 L890.5,1812.8 L892.0,1814.3 L893.5,1815.9 L895.0,1817.4 L896.0,1818.1 L896.5,1817.6 L898.0,1816.4 L898.5,1815.9 L899.5,1798.6 L900.6,1779.1 L901.0,1785.5 L902.5,1810.8 L902.8,1816.1 L903.6,1820.7 L904.0,1820.6 L905.5,1820.4 L907.0,1820.4 L908.5,1820.7 L910.0,1820.8 L911.5,1820.3 L913.0,1820.2 L914.5,1820.6 L916.0,1821.0 L917.5,1821.1 L919.0,1821.0 L920.0,1820.7 L920.5,1820.5 L922.0,1820.6 L923.5,1820.9 L925.0,1820.7 L926.5,1820.6 L928.0,1820.6 L929.5,1820.5 L931.0,1820.0 L932.5,1819.8 L934.0,1819.9 L935.5,1820.2 L937.0,1820.0 L938.5,1819.9 L940.0,1819.9 L941.5,1819.9 L943.0,1820.0 L944.5,1820.3 L946.0,1820.4 L947.5,1820.0 L949.0,1819.3 L950.0,1819.0 L950.5,1819.0 L952.0,1818.6 L953.5,1818.0 L955.0,1817.9 L956.5,1817.9 L958.0,1817.2 L959.0,1816.6 L959.5,1816.6 L961.0,1817.6 L962.5,1818.8 L963.5,1819.3 L964.0,1819.0 L965.5,1819.3 L967.0,1819.5 L968.5,1819.3 L970.0,1819.0 L971.5,1819.3 L973.0,1819.4 L974.5,1819.0 L976.0,1818.5 L977.5,1818.1 L979.0,1817.9 L980.0,1818.0 L980.5,1817.6 L982.0,1817.2 L983.5,1817.0 L983.6,1817.1 L985.0,1817.3 L986.5,1817.4 L988.0,1817.3 L989.5,1817.5 L991.0,1817.8 L992.0,1818.1 L992.5,1818.1 L994.0,1817.5 L995.5,1816.6 L997.0,1815.9 L998.0,1815.7 L998.5,1816.2 L1000.0,1817.0 L1001.5,1817.4 L1002.5,1817.9 L1003.0,1818.2 L1004.5,1818.6 L1006.0,1818.7 L1007.5,1818.7 L1009.0,1818.8 L1010.5,1818.5 L1011.8,1818.2 L1012.0,1818.1 L1013.5,1816.3 L1015.0,1814.3 L1016.3,1812.2 L1016.5,1812.4 L1018.0,1815.1 L1019.5,1817.6 L1020.0,1818.4 L1021.0,1818.8 L1022.5,1819.3 L1024.0,1819.2 L1025.5,1818.7 L1027.0,1818.3 L1028.5,1818.4 L1030.0,1818.6 L1031.5,1818.6 L1033.0,1818.8 L1034.0,1819.1 L1034.5,1818.7 L1036.0,1817.6 L1037.5,1816.9 L1039.0,1816.3 L1040.5,1815.6 L1042.0,1815.2 L1042.7,1815.0 L1043.5,1817.3 L1045.0,1821.7 L1046.5,1826.7 L1047.8,1831.5 L1048.0,1832.0 L1049.5,1832.0 L1051.0,1831.7 L1052.5,1831.5 L1053.0,1831.7 L1054.0,1828.2 L1054.8,1824.9 L1055.5,1771.7 L1056.8,1673.4 L1057.0,1689.8 L1058.5,1811.1 L1058.8,1835.3 L1060.0,1851.1 L1061.5,1851.0 L1063.0,1851.2 L1064.5,1851.3 L1066.0,1851.0 L1067.5,1850.6 L1069.0,1850.9 L1070.5,1851.3 L1072.0,1850.8 L1073.5,1850.4 L1075.0,1850.9 L1076.5,1851.1 L1078.0,1850.9 L1079.5,1850.9 L1081.0,1851.2 L1082.5,1851.4 L1084.0,1851.8 L1085.5,1852.0 L1087.0,1851.8 L1088.5,1851.7 L1090.0,1852.0 L1091.5,1851.9 L1093.0,1851.5 L1094.5,1851.4 L1096.0,1851.7 L1097.5,1852.0 L1099.0,1851.9 L1100.5,1851.6 L1102.0,1851.3 L1103.5,1851.1 L1105.0,1851.3 L1106.5,1851.6 L1108.0,1851.6 L1109.5,1851.7 L1111.0,1851.8 L1112.5,1851.7 L1114.0,1851.5 L1115.5,1851.0 L1117.0,1851.1 L1118.5,1851.7 L1120.0,1851.7 L1121.5,1851.2 L1123.0,1851.0 L1124.5,1851.4 L1126.0,1851.5 L1127.5,1851.4 L1129.0,1851.6 L1130.5,1851.5 L1132.0,1851.1 L1133.5,1851.0 L1135.0,1851.6 L1136.4,1852.3 L1136.5,1852.5 L1138.0,1851.6 L1139.4,1851.0 L1139.5,1851.0 L1141.0,1851.8 L1142.4,1852.6 L1142.5,1852.5 L1144.0,1852.3 L1145.5,1852.1 L1147.0,1852.0 L1148.5,1852.0 L1150.0,1852.3 L1151.5,1852.3 L1153.0,1851.9 L1154.5,1851.7 L1156.0,1851.5 L1157.5,1851.6 L1159.0,1852.1 L1160.5,1852.5 L1162.0,1852.5 L1163.5,1852.3 L1165.0,1852.2 L1166.5,1852.2 L1168.0,1852.4 L1168.6,1852.4 L1169.5,1851.9 L1171.0,1851.2 L1171.6,1851.1 L1172.5,1851.8 L1174.0,1852.6 L1174.6,1852.6 L1175.5,1852.5 L1177.0,1852.8 L1178.5,1852.8 L1180.0,1852.2 L1181.5,1852.0 L1183.0,1852.4 L1184.5,1852.8 L1186.0,1853.0 L1187.5,1853.2 L1189.0,1853.1 L1190.5,1852.6 L1192.0,1852.2 L1193.5,1852.3 L1195.0,1852.6 L1196.5,1852.6 L1198.0,1852.5 L1199.5,1852.4 L1201.0,1852.3 L1202.5,1852.7 L1204.0,1853.2 L1205.5,1853.5 L1207.0,1853.6 L1208.5,1853.2 L1210.0,1852.7 L1211.5,1852.7 L1213.0,1852.7 L1214.5,1852.5 L1216.0,1852.7 L1217.5,1852.8 L1219.0,1852.4 L1220.5,1852.0 L1222.0,1851.5 L1223.5,1851.7 L1225.0,1852.8 L1226.5,1853.0 L1228.0,1853.0 L1229.5,1853.1 L1230.0,1853.2 L1231.0,1853.6 L1232.5,1854.0 L1234.0,1854.2 L1235.5,1854.4 L1237.0,1855.1 L1238.5,1856.1" fill="none" stroke="#ED7D31" stroke-width="5" stroke-linecap="round" stroke-linejoin="round"/>
<line x1="478.5" y1="1056" x2="555.5" y2="1056" stroke="#ED7D31" stroke-width="5" stroke-linecap="round"/>
<line x1="756" y1="1056" x2="833" y2="1056" stroke="#4472C4" stroke-width="5" stroke-linecap="round"/>
<line x1="478.5" y1="1120.5" x2="555.5" y2="1120.5" stroke="#A5A5A5" stroke-width="5" stroke-linecap="round"/>
<line x1="756" y1="1120.5" x2="833" y2="1120.5" stroke="#FF0000" stroke-width="5" stroke-linecap="round"/>
<text x="566" y="1067.5" font-size="36">BB</text>
<text x="843.7" y="1067.5" font-size="36">PB</text>
<text x="566" y="1133.2" font-size="36">ABB</text>
<text x="843.7" y="1133.2" font-size="36">APB</text>
<text x="1168.8" y="1077.5" font-size="44">C</text>
<text x="604.5" y="1911" font-size="36" text-anchor="middle">1000</text>
<text x="920.6" y="1911" font-size="36" text-anchor="middle">500</text>
<text x="1237" y="1911" font-size="36" text-anchor="middle">0</text>
<text x="905.4" y="1955.5" font-size="41.5" text-anchor="middle">Binding Energy (eV)</text>
</svg>
</body></html>
